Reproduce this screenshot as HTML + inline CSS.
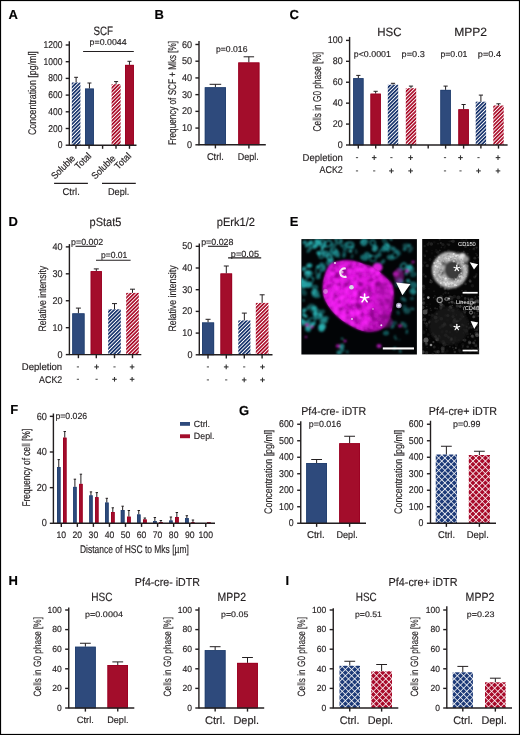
<!DOCTYPE html>
<html><head><meta charset="utf-8"><style>
html,body{margin:0;padding:0;background:#fff;}
svg{display:block;will-change:transform;}
text{font-family:"Liberation Sans",sans-serif;text-rendering:geometricPrecision;stroke:#231f20;}
text.w{stroke:none;}
</style></head><body>
<svg width="520" height="735" viewBox="0 0 520 735">
<rect x="0" y="0" width="520" height="735" fill="#fff"/>

<defs>
 <pattern id="hb" patternUnits="userSpaceOnUse" width="2.6" height="4" patternTransform="rotate(45)">
  <rect width="2.6" height="4" fill="#ffffff"/><rect width="1.65" height="4" fill="#102d68"/>
 </pattern>
 <pattern id="hr" patternUnits="userSpaceOnUse" width="2.6" height="4" patternTransform="rotate(45)">
  <rect width="2.6" height="4" fill="#ffffff"/><rect width="1.65" height="4" fill="#a80624"/>
 </pattern>
 <pattern id="xb" patternUnits="userSpaceOnUse" width="4.4" height="4.4" patternTransform="rotate(45)">
  <rect width="4.4" height="4.4" fill="#1d3a78"/><rect width="0.75" height="4.4" fill="#ffffff"/><rect width="4.4" height="0.75" fill="#ffffff"/>
 </pattern>
 <pattern id="xr" patternUnits="userSpaceOnUse" width="4.4" height="4.4" patternTransform="rotate(45)">
  <rect width="4.4" height="4.4" fill="#a80a2a"/><rect width="0.75" height="4.4" fill="#ffffff"/><rect width="4.4" height="0.75" fill="#ffffff"/>
 </pattern>
</defs>

<defs>
 <filter id="blur04" x="-20%" y="-20%" width="140%" height="140%"><feGaussianBlur stdDeviation="0.4"/></filter>
 <filter id="blur06" x="-20%" y="-20%" width="140%" height="140%"><feGaussianBlur stdDeviation="0.6"/></filter>
 <filter id="blur08" x="-20%" y="-20%" width="140%" height="140%"><feGaussianBlur stdDeviation="0.9"/></filter>
 <filter id="blur10" x="-20%" y="-20%" width="140%" height="140%"><feGaussianBlur stdDeviation="0.8"/></filter>
 <filter id="blur12" x="-20%" y="-20%" width="140%" height="140%"><feGaussianBlur stdDeviation="1.3"/></filter>
 <radialGradient id="mgrad" cx="0.42" cy="0.45" r="0.62"><stop offset="0" stop-color="#e818e8"/><stop offset="0.7" stop-color="#dc14dc"/><stop offset="1" stop-color="#b010b0"/></radialGradient>
 <filter id="mnoiseD" x="0" y="0" width="1" height="1" filterUnits="objectBoundingBox">
  <feTurbulence type="fractalNoise" baseFrequency="0.22" numOctaves="3" seed="4"/>
  <feColorMatrix type="matrix" values="0 0 0 0 0.52  0 0 0 0 0.04  0 0 0 0 0.55  -2.6 0 0 0 1.42"/>
 </filter>
 <filter id="mnoiseL" x="0" y="0" width="1" height="1" filterUnits="objectBoundingBox">
  <feTurbulence type="fractalNoise" baseFrequency="0.3" numOctaves="2" seed="11"/>
  <feColorMatrix type="matrix" values="0 0 0 0 1.0  0 0 0 0 0.35  0 0 0 0 1.0  1.8 0 0 0 -0.98"/>
 </filter>
 <filter id="blur30" x="-50%" y="-50%" width="200%" height="200%"><feGaussianBlur stdDeviation="3"/></filter>
 <clipPath id="eclip"><rect x="301.4" y="239.1" width="115.5" height="115.4"/></clipPath>
</defs>

<g fill="#231f20" stroke-width="0.16">
<text x="8.60" y="18.80" font-size="13" font-weight="bold" fill="#000">A</text>
<text x="93.40" y="35.30" font-size="12.2" textLength="19.60" lengthAdjust="spacingAndGlyphs">SCF</text>
<text x="89.60" y="45.30" font-size="8.6" textLength="37.00" lengthAdjust="spacingAndGlyphs">p=0.0044</text>
<line x1="83.10" y1="51.50" x2="133.80" y2="51.50" stroke="#231f20" stroke-width="1.1"/>
<line x1="69.30" y1="41.20" x2="69.30" y2="145.70" stroke="#231f20" stroke-width="1.4"/>
<line x1="65.70" y1="145.20" x2="69.30" y2="145.20" stroke="#231f20" stroke-width="1.4"/>
<text x="62.40" y="148.27" font-size="9.9" text-anchor="end" textLength="4.74" lengthAdjust="spacingAndGlyphs">0</text>
<line x1="65.70" y1="128.50" x2="69.30" y2="128.50" stroke="#231f20" stroke-width="1.4"/>
<text x="62.40" y="131.57" font-size="9.9" text-anchor="end" textLength="14.21" lengthAdjust="spacingAndGlyphs">200</text>
<line x1="65.70" y1="111.80" x2="69.30" y2="111.80" stroke="#231f20" stroke-width="1.4"/>
<text x="62.40" y="114.87" font-size="9.9" text-anchor="end" textLength="14.21" lengthAdjust="spacingAndGlyphs">400</text>
<line x1="65.70" y1="95.10" x2="69.30" y2="95.10" stroke="#231f20" stroke-width="1.4"/>
<text x="62.40" y="98.17" font-size="9.9" text-anchor="end" textLength="14.21" lengthAdjust="spacingAndGlyphs">600</text>
<line x1="65.70" y1="78.40" x2="69.30" y2="78.40" stroke="#231f20" stroke-width="1.4"/>
<text x="62.40" y="81.47" font-size="9.9" text-anchor="end" textLength="14.21" lengthAdjust="spacingAndGlyphs">800</text>
<line x1="65.70" y1="61.70" x2="69.30" y2="61.70" stroke="#231f20" stroke-width="1.4"/>
<text x="62.40" y="64.77" font-size="9.9" text-anchor="end" textLength="18.94" lengthAdjust="spacingAndGlyphs">1000</text>
<line x1="65.70" y1="45.00" x2="69.30" y2="45.00" stroke="#231f20" stroke-width="1.4"/>
<text x="62.40" y="48.07" font-size="9.9" text-anchor="end" textLength="18.94" lengthAdjust="spacingAndGlyphs">1200</text>
<text transform="translate(35.70,93.10) rotate(-90)" font-size="11.1" text-anchor="middle" textLength="83.80" lengthAdjust="spacingAndGlyphs">Concentration [pg/ml]</text>
<line x1="76.10" y1="82.50" x2="76.10" y2="77.30" stroke="#231f20" stroke-width="1.0"/>
<line x1="74.16" y1="77.30" x2="78.03" y2="77.30" stroke="#231f20" stroke-width="1.0"/>
<rect x="71.80" y="82.50" width="8.60" height="62.70" fill="url(#hb)"/>
<line x1="89.45" y1="88.60" x2="89.45" y2="83.00" stroke="#231f20" stroke-width="1.0"/>
<line x1="87.45" y1="83.00" x2="91.45" y2="83.00" stroke="#231f20" stroke-width="1.0"/>
<rect x="85.00" y="88.60" width="8.90" height="56.60" fill="#2e4a7c"/>
<rect x="85.40" y="89.00" width="8.10" height="56.20" fill="none" stroke="#23406f" stroke-width="0.8"/>
<line x1="116.10" y1="84.20" x2="116.10" y2="81.60" stroke="#231f20" stroke-width="1.0"/>
<line x1="114.07" y1="81.60" x2="118.12" y2="81.60" stroke="#231f20" stroke-width="1.0"/>
<rect x="111.60" y="84.20" width="9.00" height="61.00" fill="url(#hr)"/>
<line x1="129.45" y1="64.90" x2="129.45" y2="61.30" stroke="#231f20" stroke-width="1.0"/>
<line x1="127.45" y1="61.30" x2="131.45" y2="61.30" stroke="#231f20" stroke-width="1.0"/>
<rect x="125.00" y="64.90" width="8.90" height="80.30" fill="#a30d2b"/>
<rect x="125.40" y="65.30" width="8.10" height="79.90" fill="none" stroke="#9a0022" stroke-width="0.8"/>
<line x1="69.20" y1="145.20" x2="136.50" y2="145.20" stroke="#231f20" stroke-width="1.4"/>
<line x1="75.90" y1="145.20" x2="75.90" y2="148.80" stroke="#231f20" stroke-width="1.4"/>
<line x1="89.10" y1="145.20" x2="89.10" y2="148.80" stroke="#231f20" stroke-width="1.4"/>
<line x1="102.60" y1="145.20" x2="102.60" y2="148.80" stroke="#231f20" stroke-width="1.4"/>
<line x1="116.00" y1="145.20" x2="116.00" y2="148.80" stroke="#231f20" stroke-width="1.4"/>
<line x1="129.50" y1="145.20" x2="129.50" y2="148.80" stroke="#231f20" stroke-width="1.4"/>
<text transform="translate(75.80,159.00) rotate(-45)" font-size="9.6" text-anchor="end" textLength="29.50" lengthAdjust="spacingAndGlyphs">Soluble</text>
<text transform="translate(92.00,156.50) rotate(-45)" font-size="9.6" text-anchor="end" textLength="19.00" lengthAdjust="spacingAndGlyphs">Total</text>
<text transform="translate(116.20,159.00) rotate(-45)" font-size="9.6" text-anchor="end" textLength="29.50" lengthAdjust="spacingAndGlyphs">Soluble</text>
<text transform="translate(131.80,156.50) rotate(-45)" font-size="9.6" text-anchor="end" textLength="19.00" lengthAdjust="spacingAndGlyphs">Total</text>
<line x1="54.10" y1="183.40" x2="87.90" y2="183.40" stroke="#231f20" stroke-width="1.1"/>
<line x1="102.00" y1="183.40" x2="135.80" y2="183.40" stroke="#231f20" stroke-width="1.1"/>
<text x="71.20" y="194.90" font-size="9.8" text-anchor="middle" textLength="17.20" lengthAdjust="spacingAndGlyphs">Ctrl.</text>
<text x="118.70" y="194.90" font-size="9.8" text-anchor="middle" textLength="21.40" lengthAdjust="spacingAndGlyphs">Depl.</text>
<text x="154.60" y="19.20" font-size="13" font-weight="bold" fill="#000">B</text>
<line x1="199.00" y1="41.10" x2="199.00" y2="145.30" stroke="#231f20" stroke-width="1.4"/>
<line x1="195.40" y1="144.80" x2="199.00" y2="144.80" stroke="#231f20" stroke-width="1.4"/>
<text x="192.10" y="147.84" font-size="9.8" text-anchor="end" textLength="5.07" lengthAdjust="spacingAndGlyphs">0</text>
<line x1="195.40" y1="128.08" x2="199.00" y2="128.08" stroke="#231f20" stroke-width="1.4"/>
<text x="192.10" y="131.12" font-size="9.8" text-anchor="end" textLength="10.14" lengthAdjust="spacingAndGlyphs">10</text>
<line x1="195.40" y1="111.36" x2="199.00" y2="111.36" stroke="#231f20" stroke-width="1.4"/>
<text x="192.10" y="114.40" font-size="9.8" text-anchor="end" textLength="10.14" lengthAdjust="spacingAndGlyphs">20</text>
<line x1="195.40" y1="94.64" x2="199.00" y2="94.64" stroke="#231f20" stroke-width="1.4"/>
<text x="192.10" y="97.68" font-size="9.8" text-anchor="end" textLength="10.14" lengthAdjust="spacingAndGlyphs">30</text>
<line x1="195.40" y1="77.92" x2="199.00" y2="77.92" stroke="#231f20" stroke-width="1.4"/>
<text x="192.10" y="80.96" font-size="9.8" text-anchor="end" textLength="10.14" lengthAdjust="spacingAndGlyphs">40</text>
<line x1="195.40" y1="61.20" x2="199.00" y2="61.20" stroke="#231f20" stroke-width="1.4"/>
<text x="192.10" y="64.24" font-size="9.8" text-anchor="end" textLength="10.14" lengthAdjust="spacingAndGlyphs">50</text>
<line x1="195.40" y1="44.48" x2="199.00" y2="44.48" stroke="#231f20" stroke-width="1.4"/>
<text x="192.10" y="47.52" font-size="9.8" text-anchor="end" textLength="10.14" lengthAdjust="spacingAndGlyphs">60</text>
<text transform="translate(175.70,93.00) rotate(-90)" font-size="11.1" text-anchor="middle" textLength="104.20" lengthAdjust="spacingAndGlyphs">Frequency of SCF + Mks [%]</text>
<line x1="215.40" y1="87.30" x2="215.40" y2="84.30" stroke="#231f20" stroke-width="1.0"/>
<line x1="209.60" y1="84.30" x2="221.20" y2="84.30" stroke="#231f20" stroke-width="1.0"/>
<rect x="204.80" y="87.30" width="21.20" height="57.50" fill="#2e4a7c"/>
<rect x="205.20" y="87.70" width="20.40" height="57.10" fill="none" stroke="#23406f" stroke-width="0.8"/>
<line x1="248.85" y1="62.50" x2="248.85" y2="56.80" stroke="#231f20" stroke-width="1.0"/>
<line x1="243.60" y1="56.80" x2="254.10" y2="56.80" stroke="#231f20" stroke-width="1.0"/>
<rect x="238.30" y="62.50" width="21.10" height="82.30" fill="#a30d2b"/>
<rect x="238.70" y="62.90" width="20.30" height="81.90" fill="none" stroke="#9a0022" stroke-width="0.8"/>
<line x1="198.90" y1="144.80" x2="265.80" y2="144.80" stroke="#231f20" stroke-width="1.4"/>
<line x1="215.40" y1="144.80" x2="215.40" y2="148.40" stroke="#231f20" stroke-width="1.4"/>
<line x1="248.90" y1="144.80" x2="248.90" y2="148.40" stroke="#231f20" stroke-width="1.4"/>
<text x="216.00" y="52.00" font-size="8.6" textLength="31.50" lengthAdjust="spacingAndGlyphs">p=0.016</text>
<text x="215.40" y="160.00" font-size="9.8" text-anchor="middle" textLength="17.00" lengthAdjust="spacingAndGlyphs">Ctrl.</text>
<text x="248.30" y="160.00" font-size="9.8" text-anchor="middle" textLength="21.00" lengthAdjust="spacingAndGlyphs">Depl.</text>
<text x="289.40" y="18.90" font-size="13" font-weight="bold" fill="#000">C</text>
<text x="377.30" y="36.00" font-size="12.0" textLength="24.30" lengthAdjust="spacingAndGlyphs">HSC</text>
<text x="454.20" y="36.00" font-size="12.0" textLength="32.90" lengthAdjust="spacingAndGlyphs">MPP2</text>
<line x1="349.60" y1="36.90" x2="349.60" y2="145.50" stroke="#231f20" stroke-width="1.4"/>
<line x1="346.00" y1="145.00" x2="349.60" y2="145.00" stroke="#231f20" stroke-width="1.4"/>
<text x="342.70" y="148.01" font-size="9.7" text-anchor="end" textLength="4.96" lengthAdjust="spacingAndGlyphs">0</text>
<line x1="346.00" y1="124.08" x2="349.60" y2="124.08" stroke="#231f20" stroke-width="1.4"/>
<text x="342.70" y="127.09" font-size="9.7" text-anchor="end" textLength="9.93" lengthAdjust="spacingAndGlyphs">20</text>
<line x1="346.00" y1="103.16" x2="349.60" y2="103.16" stroke="#231f20" stroke-width="1.4"/>
<text x="342.70" y="106.17" font-size="9.7" text-anchor="end" textLength="9.93" lengthAdjust="spacingAndGlyphs">40</text>
<line x1="346.00" y1="82.24" x2="349.60" y2="82.24" stroke="#231f20" stroke-width="1.4"/>
<text x="342.70" y="85.25" font-size="9.7" text-anchor="end" textLength="9.93" lengthAdjust="spacingAndGlyphs">60</text>
<line x1="346.00" y1="61.32" x2="349.60" y2="61.32" stroke="#231f20" stroke-width="1.4"/>
<text x="342.70" y="64.33" font-size="9.7" text-anchor="end" textLength="9.93" lengthAdjust="spacingAndGlyphs">80</text>
<line x1="346.00" y1="40.40" x2="349.60" y2="40.40" stroke="#231f20" stroke-width="1.4"/>
<text x="342.70" y="43.41" font-size="9.7" text-anchor="end" textLength="14.89" lengthAdjust="spacingAndGlyphs">100</text>
<text transform="translate(321.37,91.65) rotate(-90)" font-size="11.4" text-anchor="middle" textLength="79.50" lengthAdjust="spacingAndGlyphs">Cells in G0 phase [%]</text>
<line x1="358.35" y1="78.20" x2="358.35" y2="75.40" stroke="#231f20" stroke-width="1.0"/>
<line x1="356.25" y1="75.40" x2="360.45" y2="75.40" stroke="#231f20" stroke-width="1.0"/>
<rect x="353.20" y="78.20" width="10.30" height="66.80" fill="#2e4a7c"/>
<rect x="353.60" y="78.60" width="9.50" height="66.40" fill="none" stroke="#23406f" stroke-width="0.8"/>
<line x1="375.65" y1="93.70" x2="375.65" y2="91.30" stroke="#231f20" stroke-width="1.0"/>
<line x1="373.55" y1="91.30" x2="377.75" y2="91.30" stroke="#231f20" stroke-width="1.0"/>
<rect x="370.50" y="93.70" width="10.30" height="51.30" fill="#a30d2b"/>
<rect x="370.90" y="94.10" width="9.50" height="50.90" fill="none" stroke="#9a0022" stroke-width="0.8"/>
<line x1="393.00" y1="84.70" x2="393.00" y2="83.30" stroke="#231f20" stroke-width="1.0"/>
<line x1="390.90" y1="83.30" x2="395.10" y2="83.30" stroke="#231f20" stroke-width="1.0"/>
<rect x="387.80" y="84.70" width="10.40" height="60.30" fill="url(#hb)"/>
<line x1="411.00" y1="88.20" x2="411.00" y2="86.10" stroke="#231f20" stroke-width="1.0"/>
<line x1="408.90" y1="86.10" x2="413.10" y2="86.10" stroke="#231f20" stroke-width="1.0"/>
<rect x="405.80" y="88.20" width="10.40" height="56.80" fill="url(#hr)"/>
<line x1="445.60" y1="89.90" x2="445.60" y2="86.10" stroke="#231f20" stroke-width="1.0"/>
<line x1="443.50" y1="86.10" x2="447.70" y2="86.10" stroke="#231f20" stroke-width="1.0"/>
<rect x="440.40" y="89.90" width="10.40" height="55.10" fill="#2e4a7c"/>
<rect x="440.80" y="90.30" width="9.60" height="54.70" fill="none" stroke="#23406f" stroke-width="0.8"/>
<line x1="463.60" y1="109.30" x2="463.60" y2="104.50" stroke="#231f20" stroke-width="1.0"/>
<line x1="461.50" y1="104.50" x2="465.70" y2="104.50" stroke="#231f20" stroke-width="1.0"/>
<rect x="458.40" y="109.30" width="10.40" height="35.70" fill="#a30d2b"/>
<rect x="458.80" y="109.70" width="9.60" height="35.30" fill="none" stroke="#9a0022" stroke-width="0.8"/>
<line x1="480.90" y1="101.70" x2="480.90" y2="95.10" stroke="#231f20" stroke-width="1.0"/>
<line x1="478.80" y1="95.10" x2="483.00" y2="95.10" stroke="#231f20" stroke-width="1.0"/>
<rect x="475.70" y="101.70" width="10.40" height="43.30" fill="url(#hb)"/>
<line x1="498.50" y1="105.50" x2="498.50" y2="103.80" stroke="#231f20" stroke-width="1.0"/>
<line x1="496.40" y1="103.80" x2="500.60" y2="103.80" stroke="#231f20" stroke-width="1.0"/>
<rect x="493.30" y="105.50" width="10.40" height="39.50" fill="url(#hr)"/>
<line x1="349.60" y1="145.00" x2="507.60" y2="145.00" stroke="#231f20" stroke-width="1.4"/>
<line x1="358.30" y1="145.00" x2="358.30" y2="148.60" stroke="#231f20" stroke-width="1.4"/>
<line x1="375.70" y1="145.00" x2="375.70" y2="148.60" stroke="#231f20" stroke-width="1.4"/>
<line x1="393.00" y1="145.00" x2="393.00" y2="148.60" stroke="#231f20" stroke-width="1.4"/>
<line x1="411.00" y1="145.00" x2="411.00" y2="148.60" stroke="#231f20" stroke-width="1.4"/>
<line x1="428.20" y1="145.00" x2="428.20" y2="148.60" stroke="#231f20" stroke-width="1.4"/>
<line x1="445.60" y1="145.00" x2="445.60" y2="148.60" stroke="#231f20" stroke-width="1.4"/>
<line x1="463.60" y1="145.00" x2="463.60" y2="148.60" stroke="#231f20" stroke-width="1.4"/>
<line x1="480.90" y1="145.00" x2="480.90" y2="148.60" stroke="#231f20" stroke-width="1.4"/>
<line x1="498.50" y1="145.00" x2="498.50" y2="148.60" stroke="#231f20" stroke-width="1.4"/>
<text x="353.80" y="57.40" font-size="8.6" textLength="37.10" lengthAdjust="spacingAndGlyphs">p&lt;0.0001</text>
<text x="401.60" y="57.40" font-size="8.6" textLength="23.20" lengthAdjust="spacingAndGlyphs">p=0.3</text>
<text x="440.40" y="57.40" font-size="8.6" textLength="27.00" lengthAdjust="spacingAndGlyphs">p=0.01</text>
<text x="477.80" y="57.40" font-size="8.6" textLength="23.20" lengthAdjust="spacingAndGlyphs">p=0.4</text>
<text x="342.80" y="160.60" font-size="10.0" text-anchor="end" textLength="40.20" lengthAdjust="spacingAndGlyphs">Depletion</text>
<text x="342.80" y="172.80" font-size="9.8" text-anchor="end" textLength="23.30" lengthAdjust="spacingAndGlyphs">ACK2</text>
<line x1="355.90" y1="157.60" x2="358.10" y2="157.60" stroke="#555" stroke-width="1.1"/>
<line x1="355.90" y1="170.90" x2="358.10" y2="170.90" stroke="#555" stroke-width="1.1"/>
<line x1="371.90" y1="157.60" x2="376.50" y2="157.60" stroke="#333" stroke-width="1.1"/>
<line x1="374.20" y1="155.30" x2="374.20" y2="159.90" stroke="#333" stroke-width="1.1"/>
<line x1="373.10" y1="170.90" x2="375.30" y2="170.90" stroke="#555" stroke-width="1.1"/>
<line x1="390.30" y1="157.60" x2="392.50" y2="157.60" stroke="#555" stroke-width="1.1"/>
<line x1="389.10" y1="170.90" x2="393.70" y2="170.90" stroke="#333" stroke-width="1.1"/>
<line x1="391.40" y1="168.60" x2="391.40" y2="173.20" stroke="#333" stroke-width="1.1"/>
<line x1="408.30" y1="157.60" x2="412.90" y2="157.60" stroke="#333" stroke-width="1.1"/>
<line x1="410.60" y1="155.30" x2="410.60" y2="159.90" stroke="#333" stroke-width="1.1"/>
<line x1="408.30" y1="170.90" x2="412.90" y2="170.90" stroke="#333" stroke-width="1.1"/>
<line x1="410.60" y1="168.60" x2="410.60" y2="173.20" stroke="#333" stroke-width="1.1"/>
<line x1="443.90" y1="157.60" x2="446.10" y2="157.60" stroke="#555" stroke-width="1.1"/>
<line x1="443.90" y1="170.90" x2="446.10" y2="170.90" stroke="#555" stroke-width="1.1"/>
<line x1="458.20" y1="157.60" x2="462.80" y2="157.60" stroke="#333" stroke-width="1.1"/>
<line x1="460.50" y1="155.30" x2="460.50" y2="159.90" stroke="#333" stroke-width="1.1"/>
<line x1="459.40" y1="170.90" x2="461.60" y2="170.90" stroke="#555" stroke-width="1.1"/>
<line x1="477.40" y1="157.60" x2="479.60" y2="157.60" stroke="#555" stroke-width="1.1"/>
<line x1="476.20" y1="170.90" x2="480.80" y2="170.90" stroke="#333" stroke-width="1.1"/>
<line x1="478.50" y1="168.60" x2="478.50" y2="173.20" stroke="#333" stroke-width="1.1"/>
<line x1="495.70" y1="157.60" x2="500.30" y2="157.60" stroke="#333" stroke-width="1.1"/>
<line x1="498.00" y1="155.30" x2="498.00" y2="159.90" stroke="#333" stroke-width="1.1"/>
<line x1="495.70" y1="170.90" x2="500.30" y2="170.90" stroke="#333" stroke-width="1.1"/>
<line x1="498.00" y1="168.60" x2="498.00" y2="173.20" stroke="#333" stroke-width="1.1"/>
<text x="8.50" y="226.00" font-size="13" font-weight="bold" fill="#000">D</text>
<text x="89.60" y="226.00" font-size="11.9" textLength="31.80" lengthAdjust="spacingAndGlyphs">pStat5</text>
<line x1="69.40" y1="244.10" x2="69.40" y2="355.10" stroke="#231f20" stroke-width="1.4"/>
<line x1="65.80" y1="354.60" x2="69.40" y2="354.60" stroke="#231f20" stroke-width="1.4"/>
<text x="62.50" y="357.64" font-size="9.8" text-anchor="end" textLength="5.01" lengthAdjust="spacingAndGlyphs">0</text>
<line x1="65.80" y1="327.67" x2="69.40" y2="327.67" stroke="#231f20" stroke-width="1.4"/>
<text x="62.50" y="330.71" font-size="9.8" text-anchor="end" textLength="10.03" lengthAdjust="spacingAndGlyphs">10</text>
<line x1="65.80" y1="300.74" x2="69.40" y2="300.74" stroke="#231f20" stroke-width="1.4"/>
<text x="62.50" y="303.78" font-size="9.8" text-anchor="end" textLength="10.03" lengthAdjust="spacingAndGlyphs">20</text>
<line x1="65.80" y1="273.81" x2="69.40" y2="273.81" stroke="#231f20" stroke-width="1.4"/>
<text x="62.50" y="276.85" font-size="9.8" text-anchor="end" textLength="10.03" lengthAdjust="spacingAndGlyphs">30</text>
<line x1="65.80" y1="246.88" x2="69.40" y2="246.88" stroke="#231f20" stroke-width="1.4"/>
<text x="62.50" y="249.92" font-size="9.8" text-anchor="end" textLength="10.03" lengthAdjust="spacingAndGlyphs">40</text>
<text transform="translate(45.73,298.65) rotate(-90)" font-size="10.8" text-anchor="middle" textLength="65.70" lengthAdjust="spacingAndGlyphs">Relative intensity</text>
<line x1="78.40" y1="313.40" x2="78.40" y2="308.10" stroke="#231f20" stroke-width="1.0"/>
<line x1="75.90" y1="308.10" x2="80.90" y2="308.10" stroke="#231f20" stroke-width="1.0"/>
<rect x="72.30" y="313.40" width="12.20" height="41.20" fill="#2e4a7c"/>
<rect x="72.70" y="313.80" width="11.40" height="40.80" fill="none" stroke="#23406f" stroke-width="0.8"/>
<line x1="96.30" y1="271.20" x2="96.30" y2="268.90" stroke="#231f20" stroke-width="1.0"/>
<line x1="93.80" y1="268.90" x2="98.80" y2="268.90" stroke="#231f20" stroke-width="1.0"/>
<rect x="90.70" y="271.20" width="11.20" height="83.40" fill="#a30d2b"/>
<rect x="91.10" y="271.60" width="10.40" height="83.00" fill="none" stroke="#9a0022" stroke-width="0.8"/>
<line x1="114.50" y1="309.30" x2="114.50" y2="303.60" stroke="#231f20" stroke-width="1.0"/>
<line x1="112.00" y1="303.60" x2="117.00" y2="303.60" stroke="#231f20" stroke-width="1.0"/>
<rect x="108.20" y="309.30" width="12.60" height="45.30" fill="url(#hb)"/>
<line x1="132.50" y1="292.90" x2="132.50" y2="289.20" stroke="#231f20" stroke-width="1.0"/>
<line x1="130.00" y1="289.20" x2="135.00" y2="289.20" stroke="#231f20" stroke-width="1.0"/>
<rect x="126.20" y="292.90" width="12.60" height="61.70" fill="url(#hr)"/>
<line x1="69.30" y1="354.60" x2="141.30" y2="354.60" stroke="#231f20" stroke-width="1.4"/>
<line x1="78.40" y1="354.60" x2="78.40" y2="358.20" stroke="#231f20" stroke-width="1.4"/>
<line x1="96.30" y1="354.60" x2="96.30" y2="358.20" stroke="#231f20" stroke-width="1.4"/>
<line x1="114.50" y1="354.60" x2="114.50" y2="358.20" stroke="#231f20" stroke-width="1.4"/>
<line x1="132.50" y1="354.60" x2="132.50" y2="358.20" stroke="#231f20" stroke-width="1.4"/>
<text x="71.10" y="244.60" font-size="8.8" textLength="32.20" lengthAdjust="spacingAndGlyphs">p=0.002</text>
<line x1="75.50" y1="246.30" x2="96.00" y2="246.30" stroke="#231f20" stroke-width="1.1"/>
<text x="100.90" y="258.40" font-size="8.8" textLength="26.40" lengthAdjust="spacingAndGlyphs">p=0.01</text>
<line x1="96.00" y1="260.20" x2="130.60" y2="260.20" stroke="#231f20" stroke-width="1.1"/>
<text x="62.20" y="370.20" font-size="9.8" text-anchor="end" textLength="40.40" lengthAdjust="spacingAndGlyphs">Depletion</text>
<text x="62.20" y="383.40" font-size="9.8" text-anchor="end" textLength="23.10" lengthAdjust="spacingAndGlyphs">ACK2</text>
<line x1="76.80" y1="366.90" x2="79.00" y2="366.90" stroke="#555" stroke-width="1.1"/>
<line x1="76.80" y1="379.30" x2="79.00" y2="379.30" stroke="#555" stroke-width="1.1"/>
<line x1="94.30" y1="366.90" x2="98.90" y2="366.90" stroke="#333" stroke-width="1.1"/>
<line x1="96.60" y1="364.60" x2="96.60" y2="369.20" stroke="#333" stroke-width="1.1"/>
<line x1="95.50" y1="379.30" x2="97.70" y2="379.30" stroke="#555" stroke-width="1.1"/>
<line x1="113.40" y1="366.90" x2="115.60" y2="366.90" stroke="#555" stroke-width="1.1"/>
<line x1="112.20" y1="379.30" x2="116.80" y2="379.30" stroke="#333" stroke-width="1.1"/>
<line x1="114.50" y1="377.00" x2="114.50" y2="381.60" stroke="#333" stroke-width="1.1"/>
<line x1="129.80" y1="366.90" x2="134.40" y2="366.90" stroke="#333" stroke-width="1.1"/>
<line x1="132.10" y1="364.60" x2="132.10" y2="369.20" stroke="#333" stroke-width="1.1"/>
<line x1="129.80" y1="379.30" x2="134.40" y2="379.30" stroke="#333" stroke-width="1.1"/>
<line x1="132.10" y1="377.00" x2="132.10" y2="381.60" stroke="#333" stroke-width="1.1"/>
<text x="216.80" y="226.00" font-size="11.9" textLength="38.20" lengthAdjust="spacingAndGlyphs">pErk1/2</text>
<line x1="199.30" y1="243.60" x2="199.30" y2="355.30" stroke="#231f20" stroke-width="1.4"/>
<line x1="195.70" y1="354.80" x2="199.30" y2="354.80" stroke="#231f20" stroke-width="1.4"/>
<text x="192.40" y="357.84" font-size="9.8" text-anchor="end" textLength="5.01" lengthAdjust="spacingAndGlyphs">0</text>
<line x1="195.70" y1="333.10" x2="199.30" y2="333.10" stroke="#231f20" stroke-width="1.4"/>
<text x="192.40" y="336.14" font-size="9.8" text-anchor="end" textLength="10.03" lengthAdjust="spacingAndGlyphs">10</text>
<line x1="195.70" y1="311.40" x2="199.30" y2="311.40" stroke="#231f20" stroke-width="1.4"/>
<text x="192.40" y="314.44" font-size="9.8" text-anchor="end" textLength="10.03" lengthAdjust="spacingAndGlyphs">20</text>
<line x1="195.70" y1="289.70" x2="199.30" y2="289.70" stroke="#231f20" stroke-width="1.4"/>
<text x="192.40" y="292.74" font-size="9.8" text-anchor="end" textLength="10.03" lengthAdjust="spacingAndGlyphs">30</text>
<line x1="195.70" y1="268.00" x2="199.30" y2="268.00" stroke="#231f20" stroke-width="1.4"/>
<text x="192.40" y="271.04" font-size="9.8" text-anchor="end" textLength="10.03" lengthAdjust="spacingAndGlyphs">40</text>
<line x1="195.70" y1="246.30" x2="199.30" y2="246.30" stroke="#231f20" stroke-width="1.4"/>
<text x="192.40" y="249.34" font-size="9.8" text-anchor="end" textLength="10.03" lengthAdjust="spacingAndGlyphs">50</text>
<text transform="translate(175.83,298.45) rotate(-90)" font-size="10.8" text-anchor="middle" textLength="66.10" lengthAdjust="spacingAndGlyphs">Relative intensity</text>
<line x1="208.05" y1="322.50" x2="208.05" y2="319.30" stroke="#231f20" stroke-width="1.0"/>
<line x1="205.55" y1="319.30" x2="210.55" y2="319.30" stroke="#231f20" stroke-width="1.0"/>
<rect x="202.00" y="322.50" width="12.10" height="32.30" fill="#2e4a7c"/>
<rect x="202.40" y="322.90" width="11.30" height="31.90" fill="none" stroke="#23406f" stroke-width="0.8"/>
<line x1="226.30" y1="273.50" x2="226.30" y2="266.00" stroke="#231f20" stroke-width="1.0"/>
<line x1="223.80" y1="266.00" x2="228.80" y2="266.00" stroke="#231f20" stroke-width="1.0"/>
<rect x="220.50" y="273.50" width="11.60" height="81.30" fill="#a30d2b"/>
<rect x="220.90" y="273.90" width="10.80" height="80.90" fill="none" stroke="#9a0022" stroke-width="0.8"/>
<line x1="244.35" y1="320.40" x2="244.35" y2="313.10" stroke="#231f20" stroke-width="1.0"/>
<line x1="241.85" y1="313.10" x2="246.85" y2="313.10" stroke="#231f20" stroke-width="1.0"/>
<rect x="238.30" y="320.40" width="12.10" height="34.40" fill="url(#hb)"/>
<line x1="262.15" y1="302.90" x2="262.15" y2="294.80" stroke="#231f20" stroke-width="1.0"/>
<line x1="259.65" y1="294.80" x2="264.65" y2="294.80" stroke="#231f20" stroke-width="1.0"/>
<rect x="255.80" y="302.90" width="12.70" height="51.90" fill="url(#hr)"/>
<line x1="199.30" y1="354.80" x2="272.50" y2="354.80" stroke="#231f20" stroke-width="1.4"/>
<line x1="208.00" y1="354.80" x2="208.00" y2="358.40" stroke="#231f20" stroke-width="1.4"/>
<line x1="226.30" y1="354.80" x2="226.30" y2="358.40" stroke="#231f20" stroke-width="1.4"/>
<line x1="244.30" y1="354.80" x2="244.30" y2="358.40" stroke="#231f20" stroke-width="1.4"/>
<line x1="262.10" y1="354.80" x2="262.10" y2="358.40" stroke="#231f20" stroke-width="1.4"/>
<text x="201.20" y="245.00" font-size="8.8" textLength="32.30" lengthAdjust="spacingAndGlyphs">p=0.028</text>
<line x1="207.90" y1="246.30" x2="228.10" y2="246.30" stroke="#231f20" stroke-width="1.1"/>
<text x="230.80" y="256.80" font-size="8.8" textLength="28.20" lengthAdjust="spacingAndGlyphs">p=0.05</text>
<line x1="228.10" y1="257.90" x2="261.20" y2="257.90" stroke="#231f20" stroke-width="1.1"/>
<line x1="206.80" y1="366.90" x2="209.00" y2="366.90" stroke="#555" stroke-width="1.1"/>
<line x1="206.80" y1="379.90" x2="209.00" y2="379.90" stroke="#555" stroke-width="1.1"/>
<line x1="223.90" y1="366.90" x2="228.50" y2="366.90" stroke="#333" stroke-width="1.1"/>
<line x1="226.20" y1="364.60" x2="226.20" y2="369.20" stroke="#333" stroke-width="1.1"/>
<line x1="225.10" y1="379.90" x2="227.30" y2="379.90" stroke="#555" stroke-width="1.1"/>
<line x1="243.10" y1="366.90" x2="245.30" y2="366.90" stroke="#555" stroke-width="1.1"/>
<line x1="241.90" y1="379.90" x2="246.50" y2="379.90" stroke="#333" stroke-width="1.1"/>
<line x1="244.20" y1="377.60" x2="244.20" y2="382.20" stroke="#333" stroke-width="1.1"/>
<line x1="260.20" y1="366.90" x2="264.80" y2="366.90" stroke="#333" stroke-width="1.1"/>
<line x1="262.50" y1="364.60" x2="262.50" y2="369.20" stroke="#333" stroke-width="1.1"/>
<line x1="260.20" y1="379.90" x2="264.80" y2="379.90" stroke="#333" stroke-width="1.1"/>
<line x1="262.50" y1="377.60" x2="262.50" y2="382.20" stroke="#333" stroke-width="1.1"/>
<text x="10.20" y="413.90" font-size="13" font-weight="bold" fill="#000">F</text>
<line x1="53.40" y1="413.50" x2="53.40" y2="523.80" stroke="#231f20" stroke-width="1.4"/>
<line x1="49.80" y1="523.30" x2="53.40" y2="523.30" stroke="#231f20" stroke-width="1.4"/>
<text x="46.90" y="526.46" font-size="10.2" text-anchor="end" textLength="5.11" lengthAdjust="spacingAndGlyphs">0</text>
<line x1="49.80" y1="487.65" x2="53.40" y2="487.65" stroke="#231f20" stroke-width="1.4"/>
<text x="46.90" y="490.81" font-size="10.2" text-anchor="end" textLength="10.21" lengthAdjust="spacingAndGlyphs">20</text>
<line x1="49.80" y1="452.00" x2="53.40" y2="452.00" stroke="#231f20" stroke-width="1.4"/>
<text x="46.90" y="455.16" font-size="10.2" text-anchor="end" textLength="10.21" lengthAdjust="spacingAndGlyphs">40</text>
<line x1="49.80" y1="416.35" x2="53.40" y2="416.35" stroke="#231f20" stroke-width="1.4"/>
<text x="46.90" y="419.51" font-size="10.2" text-anchor="end" textLength="10.21" lengthAdjust="spacingAndGlyphs">60</text>
<text transform="translate(30.22,467.70) rotate(-90)" font-size="11.2" text-anchor="middle" textLength="77.80" lengthAdjust="spacingAndGlyphs">Frequency of cell [%]</text>
<text x="55.40" y="419.40" font-size="8.8" textLength="31.80" lengthAdjust="spacingAndGlyphs">p=0.026</text>
<line x1="58.75" y1="467.00" x2="58.75" y2="459.60" stroke="#231f20" stroke-width="1.0"/>
<line x1="57.55" y1="459.60" x2="59.95" y2="459.60" stroke="#231f20" stroke-width="1.0"/>
<rect x="57.00" y="467.00" width="3.50" height="56.30" fill="#2e4a7c"/>
<rect x="57.40" y="467.40" width="2.70" height="55.90" fill="none" stroke="#23406f" stroke-width="0.8"/>
<line x1="74.90" y1="486.90" x2="74.90" y2="479.20" stroke="#231f20" stroke-width="1.0"/>
<line x1="73.70" y1="479.20" x2="76.10" y2="479.20" stroke="#231f20" stroke-width="1.0"/>
<rect x="73.20" y="486.90" width="3.40" height="36.40" fill="#2e4a7c"/>
<rect x="73.60" y="487.30" width="2.60" height="36.00" fill="none" stroke="#23406f" stroke-width="0.8"/>
<line x1="90.95" y1="495.40" x2="90.95" y2="491.90" stroke="#231f20" stroke-width="1.0"/>
<line x1="89.75" y1="491.90" x2="92.15" y2="491.90" stroke="#231f20" stroke-width="1.0"/>
<rect x="89.30" y="495.40" width="3.30" height="27.90" fill="#2e4a7c"/>
<rect x="89.70" y="495.80" width="2.50" height="27.50" fill="none" stroke="#23406f" stroke-width="0.8"/>
<line x1="106.80" y1="502.60" x2="106.80" y2="498.30" stroke="#231f20" stroke-width="1.0"/>
<line x1="105.60" y1="498.30" x2="108.00" y2="498.30" stroke="#231f20" stroke-width="1.0"/>
<rect x="105.00" y="502.60" width="3.60" height="20.70" fill="#2e4a7c"/>
<rect x="105.40" y="503.00" width="2.80" height="20.30" fill="none" stroke="#23406f" stroke-width="0.8"/>
<line x1="122.65" y1="510.00" x2="122.65" y2="506.20" stroke="#231f20" stroke-width="1.0"/>
<line x1="121.45" y1="506.20" x2="123.85" y2="506.20" stroke="#231f20" stroke-width="1.0"/>
<rect x="120.80" y="510.00" width="3.70" height="13.30" fill="#2e4a7c"/>
<rect x="121.20" y="510.40" width="2.90" height="12.90" fill="none" stroke="#23406f" stroke-width="0.8"/>
<line x1="138.75" y1="514.50" x2="138.75" y2="510.50" stroke="#231f20" stroke-width="1.0"/>
<line x1="137.55" y1="510.50" x2="139.95" y2="510.50" stroke="#231f20" stroke-width="1.0"/>
<rect x="137.00" y="514.50" width="3.50" height="8.80" fill="#2e4a7c"/>
<rect x="137.40" y="514.90" width="2.70" height="8.40" fill="none" stroke="#23406f" stroke-width="0.8"/>
<line x1="154.85" y1="521.20" x2="154.85" y2="517.50" stroke="#231f20" stroke-width="1.0"/>
<line x1="153.65" y1="517.50" x2="156.05" y2="517.50" stroke="#231f20" stroke-width="1.0"/>
<rect x="153.00" y="521.20" width="3.70" height="2.10" fill="#2e4a7c"/>
<rect x="153.40" y="521.60" width="2.90" height="1.70" fill="none" stroke="#23406f" stroke-width="0.8"/>
<line x1="170.90" y1="520.50" x2="170.90" y2="517.00" stroke="#231f20" stroke-width="1.0"/>
<line x1="169.70" y1="517.00" x2="172.10" y2="517.00" stroke="#231f20" stroke-width="1.0"/>
<rect x="169.20" y="520.50" width="3.40" height="2.80" fill="#2e4a7c"/>
<rect x="169.60" y="520.90" width="2.60" height="2.40" fill="none" stroke="#23406f" stroke-width="0.8"/>
<line x1="186.85" y1="518.20" x2="186.85" y2="515.70" stroke="#231f20" stroke-width="1.0"/>
<line x1="185.65" y1="515.70" x2="188.05" y2="515.70" stroke="#231f20" stroke-width="1.0"/>
<rect x="185.00" y="518.20" width="3.70" height="5.10" fill="#2e4a7c"/>
<rect x="185.40" y="518.60" width="2.90" height="4.70" fill="none" stroke="#23406f" stroke-width="0.8"/>
<line x1="64.75" y1="437.70" x2="64.75" y2="431.50" stroke="#231f20" stroke-width="1.0"/>
<line x1="63.55" y1="431.50" x2="65.95" y2="431.50" stroke="#231f20" stroke-width="1.0"/>
<rect x="63.00" y="437.70" width="3.50" height="85.60" fill="#a30d2b"/>
<rect x="63.40" y="438.10" width="2.70" height="85.20" fill="none" stroke="#9a0022" stroke-width="0.8"/>
<line x1="80.90" y1="483.90" x2="80.90" y2="474.20" stroke="#231f20" stroke-width="1.0"/>
<line x1="79.70" y1="474.20" x2="82.10" y2="474.20" stroke="#231f20" stroke-width="1.0"/>
<rect x="79.20" y="483.90" width="3.40" height="39.40" fill="#a30d2b"/>
<rect x="79.60" y="484.30" width="2.60" height="39.00" fill="none" stroke="#9a0022" stroke-width="0.8"/>
<line x1="96.80" y1="497.20" x2="96.80" y2="492.60" stroke="#231f20" stroke-width="1.0"/>
<line x1="95.60" y1="492.60" x2="98.00" y2="492.60" stroke="#231f20" stroke-width="1.0"/>
<rect x="95.10" y="497.20" width="3.40" height="26.10" fill="#a30d2b"/>
<rect x="95.50" y="497.60" width="2.60" height="25.70" fill="none" stroke="#9a0022" stroke-width="0.8"/>
<line x1="112.80" y1="512.00" x2="112.80" y2="507.80" stroke="#231f20" stroke-width="1.0"/>
<line x1="111.60" y1="507.80" x2="114.00" y2="507.80" stroke="#231f20" stroke-width="1.0"/>
<rect x="111.00" y="512.00" width="3.60" height="11.30" fill="#a30d2b"/>
<rect x="111.40" y="512.40" width="2.80" height="10.90" fill="none" stroke="#9a0022" stroke-width="0.8"/>
<line x1="128.85" y1="516.70" x2="128.85" y2="510.50" stroke="#231f20" stroke-width="1.0"/>
<line x1="127.65" y1="510.50" x2="130.05" y2="510.50" stroke="#231f20" stroke-width="1.0"/>
<rect x="127.00" y="516.70" width="3.70" height="6.60" fill="#a30d2b"/>
<rect x="127.40" y="517.10" width="2.90" height="6.20" fill="none" stroke="#9a0022" stroke-width="0.8"/>
<line x1="144.85" y1="519.50" x2="144.85" y2="518.00" stroke="#231f20" stroke-width="1.0"/>
<line x1="143.65" y1="518.00" x2="146.05" y2="518.00" stroke="#231f20" stroke-width="1.0"/>
<rect x="143.00" y="519.50" width="3.70" height="3.80" fill="#a30d2b"/>
<rect x="143.40" y="519.90" width="2.90" height="3.40" fill="none" stroke="#9a0022" stroke-width="0.8"/>
<line x1="160.90" y1="522.00" x2="160.90" y2="520.50" stroke="#231f20" stroke-width="1.0"/>
<line x1="159.70" y1="520.50" x2="162.10" y2="520.50" stroke="#231f20" stroke-width="1.0"/>
<rect x="159.20" y="522.00" width="3.40" height="1.30" fill="#a30d2b"/>
<rect x="159.60" y="522.40" width="2.60" height="0.90" fill="none" stroke="#9a0022" stroke-width="0.8"/>
<line x1="176.85" y1="517.00" x2="176.85" y2="512.50" stroke="#231f20" stroke-width="1.0"/>
<line x1="175.65" y1="512.50" x2="178.05" y2="512.50" stroke="#231f20" stroke-width="1.0"/>
<rect x="175.00" y="517.00" width="3.70" height="6.30" fill="#a30d2b"/>
<rect x="175.40" y="517.40" width="2.90" height="5.90" fill="none" stroke="#9a0022" stroke-width="0.8"/>
<line x1="192.95" y1="522.00" x2="192.95" y2="520.00" stroke="#231f20" stroke-width="1.0"/>
<line x1="191.75" y1="520.00" x2="194.15" y2="520.00" stroke="#231f20" stroke-width="1.0"/>
<rect x="191.50" y="522.00" width="2.90" height="1.30" fill="#a30d2b"/>
<rect x="191.90" y="522.40" width="2.10" height="0.90" fill="none" stroke="#9a0022" stroke-width="0.8"/>
<rect x="207.00" y="522.30" width="3.70" height="1.00" fill="#a30d2b"/>
<rect x="207.40" y="522.70" width="2.90" height="0.60" fill="none" stroke="#9a0022" stroke-width="0.8"/>
<line x1="53.20" y1="523.30" x2="215.00" y2="523.30" stroke="#231f20" stroke-width="1.4"/>
<line x1="61.30" y1="523.30" x2="61.30" y2="526.90" stroke="#231f20" stroke-width="1.4"/>
<line x1="77.35" y1="523.30" x2="77.35" y2="526.90" stroke="#231f20" stroke-width="1.4"/>
<line x1="93.40" y1="523.30" x2="93.40" y2="526.90" stroke="#231f20" stroke-width="1.4"/>
<line x1="109.45" y1="523.30" x2="109.45" y2="526.90" stroke="#231f20" stroke-width="1.4"/>
<line x1="125.50" y1="523.30" x2="125.50" y2="526.90" stroke="#231f20" stroke-width="1.4"/>
<line x1="141.55" y1="523.30" x2="141.55" y2="526.90" stroke="#231f20" stroke-width="1.4"/>
<line x1="157.60" y1="523.30" x2="157.60" y2="526.90" stroke="#231f20" stroke-width="1.4"/>
<line x1="173.65" y1="523.30" x2="173.65" y2="526.90" stroke="#231f20" stroke-width="1.4"/>
<line x1="189.70" y1="523.30" x2="189.70" y2="526.90" stroke="#231f20" stroke-width="1.4"/>
<line x1="205.75" y1="523.30" x2="205.75" y2="526.90" stroke="#231f20" stroke-width="1.4"/>
<text x="61.30" y="538.10" font-size="9.4" text-anchor="middle" textLength="9.62" lengthAdjust="spacingAndGlyphs">10</text>
<text x="77.35" y="538.10" font-size="9.4" text-anchor="middle" textLength="9.62" lengthAdjust="spacingAndGlyphs">20</text>
<text x="93.40" y="538.10" font-size="9.4" text-anchor="middle" textLength="9.62" lengthAdjust="spacingAndGlyphs">30</text>
<text x="109.45" y="538.10" font-size="9.4" text-anchor="middle" textLength="9.62" lengthAdjust="spacingAndGlyphs">40</text>
<text x="125.50" y="538.10" font-size="9.4" text-anchor="middle" textLength="9.62" lengthAdjust="spacingAndGlyphs">50</text>
<text x="141.55" y="538.10" font-size="9.4" text-anchor="middle" textLength="9.62" lengthAdjust="spacingAndGlyphs">60</text>
<text x="157.60" y="538.10" font-size="9.4" text-anchor="middle" textLength="9.62" lengthAdjust="spacingAndGlyphs">70</text>
<text x="173.65" y="538.10" font-size="9.4" text-anchor="middle" textLength="9.62" lengthAdjust="spacingAndGlyphs">80</text>
<text x="189.70" y="538.10" font-size="9.4" text-anchor="middle" textLength="9.62" lengthAdjust="spacingAndGlyphs">90</text>
<text x="205.75" y="538.10" font-size="9.4" text-anchor="middle" textLength="14.43" lengthAdjust="spacingAndGlyphs">100</text>
<text x="80.00" y="552.90" font-size="11.2" textLength="108.80" lengthAdjust="spacingAndGlyphs">Distance of HSC to Mks [µm]</text>
<rect x="180.00" y="422.00" width="10.00" height="3.80" fill="#2e4a7c"/>
<rect x="180.00" y="434.30" width="10.00" height="3.90" fill="#a30d2b"/>
<text x="193.80" y="427.30" font-size="9.0" textLength="16.20" lengthAdjust="spacingAndGlyphs">Ctrl.</text>
<text x="193.80" y="439.30" font-size="9.0" textLength="20.70" lengthAdjust="spacingAndGlyphs">Depl.</text>
<text x="239.00" y="414.60" font-size="13" font-weight="bold" fill="#000">G</text>
<text x="301.25" y="414.60" font-size="11.4" textLength="65.00" lengthAdjust="spacingAndGlyphs">Pf4-cre- iDTR</text>
<line x1="300.75" y1="421.25" x2="300.75" y2="523.75" stroke="#231f20" stroke-width="1.4"/>
<line x1="297.15" y1="523.25" x2="300.75" y2="523.25" stroke="#231f20" stroke-width="1.4"/>
<text x="293.75" y="526.32" font-size="9.9" text-anchor="end" textLength="4.90" lengthAdjust="spacingAndGlyphs">0</text>
<line x1="297.15" y1="506.75" x2="300.75" y2="506.75" stroke="#231f20" stroke-width="1.4"/>
<text x="293.75" y="509.82" font-size="9.9" text-anchor="end" textLength="14.70" lengthAdjust="spacingAndGlyphs">100</text>
<line x1="297.15" y1="490.25" x2="300.75" y2="490.25" stroke="#231f20" stroke-width="1.4"/>
<text x="293.75" y="493.32" font-size="9.9" text-anchor="end" textLength="14.70" lengthAdjust="spacingAndGlyphs">200</text>
<line x1="297.15" y1="473.75" x2="300.75" y2="473.75" stroke="#231f20" stroke-width="1.4"/>
<text x="293.75" y="476.82" font-size="9.9" text-anchor="end" textLength="14.70" lengthAdjust="spacingAndGlyphs">300</text>
<line x1="297.15" y1="457.25" x2="300.75" y2="457.25" stroke="#231f20" stroke-width="1.4"/>
<text x="293.75" y="460.32" font-size="9.9" text-anchor="end" textLength="14.70" lengthAdjust="spacingAndGlyphs">400</text>
<line x1="297.15" y1="440.75" x2="300.75" y2="440.75" stroke="#231f20" stroke-width="1.4"/>
<text x="293.75" y="443.82" font-size="9.9" text-anchor="end" textLength="14.70" lengthAdjust="spacingAndGlyphs">500</text>
<line x1="297.15" y1="424.25" x2="300.75" y2="424.25" stroke="#231f20" stroke-width="1.4"/>
<text x="293.75" y="427.32" font-size="9.9" text-anchor="end" textLength="14.70" lengthAdjust="spacingAndGlyphs">600</text>
<text transform="translate(272.08,471.85) rotate(-90)" font-size="11.0" text-anchor="middle" textLength="84.10" lengthAdjust="spacingAndGlyphs">Concentration [pg/ml]</text>
<line x1="316.62" y1="463.00" x2="316.62" y2="459.50" stroke="#231f20" stroke-width="1.0"/>
<line x1="311.23" y1="459.50" x2="322.02" y2="459.50" stroke="#231f20" stroke-width="1.0"/>
<rect x="306.25" y="463.00" width="20.75" height="60.25" fill="#2e4a7c"/>
<rect x="306.65" y="463.40" width="19.95" height="59.85" fill="none" stroke="#23406f" stroke-width="0.8"/>
<line x1="349.62" y1="443.25" x2="349.62" y2="436.25" stroke="#231f20" stroke-width="1.0"/>
<line x1="344.23" y1="436.25" x2="355.02" y2="436.25" stroke="#231f20" stroke-width="1.0"/>
<rect x="339.25" y="443.25" width="20.75" height="80.00" fill="#a30d2b"/>
<rect x="339.65" y="443.65" width="19.95" height="79.60" fill="none" stroke="#9a0022" stroke-width="0.8"/>
<line x1="300.75" y1="523.25" x2="366.00" y2="523.25" stroke="#231f20" stroke-width="1.4"/>
<line x1="316.62" y1="523.25" x2="316.62" y2="526.85" stroke="#231f20" stroke-width="1.4"/>
<line x1="349.62" y1="523.25" x2="349.62" y2="526.85" stroke="#231f20" stroke-width="1.4"/>
<text x="308.75" y="427.30" font-size="8.8" textLength="32.50" lengthAdjust="spacingAndGlyphs">p=0.016</text>
<text x="306.90" y="538.30" font-size="9.8" textLength="17.80" lengthAdjust="spacingAndGlyphs">Ctrl.</text>
<text x="336.50" y="538.30" font-size="9.8" textLength="21.20" lengthAdjust="spacingAndGlyphs">Depl.</text>
<text x="428.75" y="414.60" font-size="11.4" textLength="68.25" lengthAdjust="spacingAndGlyphs">Pf4-cre+ iDTR</text>
<line x1="430.50" y1="420.75" x2="430.50" y2="523.75" stroke="#231f20" stroke-width="1.4"/>
<line x1="426.90" y1="523.25" x2="430.50" y2="523.25" stroke="#231f20" stroke-width="1.4"/>
<text x="423.50" y="526.32" font-size="9.9" text-anchor="end" textLength="4.90" lengthAdjust="spacingAndGlyphs">0</text>
<line x1="426.90" y1="506.75" x2="430.50" y2="506.75" stroke="#231f20" stroke-width="1.4"/>
<text x="423.50" y="509.82" font-size="9.9" text-anchor="end" textLength="14.70" lengthAdjust="spacingAndGlyphs">100</text>
<line x1="426.90" y1="490.25" x2="430.50" y2="490.25" stroke="#231f20" stroke-width="1.4"/>
<text x="423.50" y="493.32" font-size="9.9" text-anchor="end" textLength="14.70" lengthAdjust="spacingAndGlyphs">200</text>
<line x1="426.90" y1="473.75" x2="430.50" y2="473.75" stroke="#231f20" stroke-width="1.4"/>
<text x="423.50" y="476.82" font-size="9.9" text-anchor="end" textLength="14.70" lengthAdjust="spacingAndGlyphs">300</text>
<line x1="426.90" y1="457.25" x2="430.50" y2="457.25" stroke="#231f20" stroke-width="1.4"/>
<text x="423.50" y="460.32" font-size="9.9" text-anchor="end" textLength="14.70" lengthAdjust="spacingAndGlyphs">400</text>
<line x1="426.90" y1="440.75" x2="430.50" y2="440.75" stroke="#231f20" stroke-width="1.4"/>
<text x="423.50" y="443.82" font-size="9.9" text-anchor="end" textLength="14.70" lengthAdjust="spacingAndGlyphs">500</text>
<line x1="426.90" y1="424.25" x2="430.50" y2="424.25" stroke="#231f20" stroke-width="1.4"/>
<text x="423.50" y="427.32" font-size="9.9" text-anchor="end" textLength="14.70" lengthAdjust="spacingAndGlyphs">600</text>
<text transform="translate(401.88,471.85) rotate(-90)" font-size="11.0" text-anchor="middle" textLength="84.10" lengthAdjust="spacingAndGlyphs">Concentration [pg/ml]</text>
<line x1="446.38" y1="454.50" x2="446.38" y2="446.25" stroke="#231f20" stroke-width="1.0"/>
<line x1="440.98" y1="446.25" x2="451.77" y2="446.25" stroke="#231f20" stroke-width="1.0"/>
<rect x="435.75" y="454.50" width="21.25" height="68.75" fill="url(#xb)"/>
<line x1="479.38" y1="455.00" x2="479.38" y2="451.25" stroke="#231f20" stroke-width="1.0"/>
<line x1="473.98" y1="451.25" x2="484.77" y2="451.25" stroke="#231f20" stroke-width="1.0"/>
<rect x="468.75" y="455.00" width="21.25" height="68.25" fill="url(#xr)"/>
<line x1="430.50" y1="523.25" x2="496.00" y2="523.25" stroke="#231f20" stroke-width="1.4"/>
<line x1="446.38" y1="523.25" x2="446.38" y2="526.85" stroke="#231f20" stroke-width="1.4"/>
<line x1="479.38" y1="523.25" x2="479.38" y2="526.85" stroke="#231f20" stroke-width="1.4"/>
<text x="453.00" y="427.30" font-size="8.8" textLength="27.50" lengthAdjust="spacingAndGlyphs">p=0.99</text>
<text x="438.00" y="538.30" font-size="9.8" textLength="17.00" lengthAdjust="spacingAndGlyphs">Ctrl.</text>
<text x="466.80" y="538.30" font-size="9.8" textLength="22.00" lengthAdjust="spacingAndGlyphs">Depl.</text>
<text x="8.60" y="584.50" font-size="13" font-weight="bold" fill="#000">H</text>
<text x="285.40" y="584.50" font-size="13" font-weight="bold" fill="#000">I</text>
<text x="134.80" y="586.20" font-size="11.6" textLength="65.20" lengthAdjust="spacingAndGlyphs">Pf4-cre- iDTR</text>
<text x="388.60" y="586.20" font-size="11.6" textLength="68.90" lengthAdjust="spacingAndGlyphs">Pf4-cre+ iDTR</text>
<text x="91.25" y="600.60" font-size="11.9" textLength="21.25" lengthAdjust="spacingAndGlyphs">HSC</text>
<line x1="68.75" y1="607.50" x2="68.75" y2="708.50" stroke="#231f20" stroke-width="1.4"/>
<line x1="65.15" y1="708.00" x2="68.75" y2="708.00" stroke="#231f20" stroke-width="1.4"/>
<text x="61.85" y="710.73" font-size="8.8" text-anchor="end" textLength="4.75" lengthAdjust="spacingAndGlyphs">0</text>
<line x1="65.15" y1="688.40" x2="68.75" y2="688.40" stroke="#231f20" stroke-width="1.4"/>
<text x="61.85" y="691.13" font-size="8.8" text-anchor="end" textLength="9.49" lengthAdjust="spacingAndGlyphs">20</text>
<line x1="65.15" y1="668.80" x2="68.75" y2="668.80" stroke="#231f20" stroke-width="1.4"/>
<text x="61.85" y="671.53" font-size="8.8" text-anchor="end" textLength="9.49" lengthAdjust="spacingAndGlyphs">40</text>
<line x1="65.15" y1="649.20" x2="68.75" y2="649.20" stroke="#231f20" stroke-width="1.4"/>
<text x="61.85" y="651.93" font-size="8.8" text-anchor="end" textLength="9.49" lengthAdjust="spacingAndGlyphs">60</text>
<line x1="65.15" y1="629.60" x2="68.75" y2="629.60" stroke="#231f20" stroke-width="1.4"/>
<text x="61.85" y="632.33" font-size="8.8" text-anchor="end" textLength="9.49" lengthAdjust="spacingAndGlyphs">80</text>
<line x1="65.15" y1="610.00" x2="68.75" y2="610.00" stroke="#231f20" stroke-width="1.4"/>
<text x="61.85" y="612.73" font-size="8.8" text-anchor="end" textLength="14.24" lengthAdjust="spacingAndGlyphs">100</text>
<text transform="translate(40.89,656.70) rotate(-90)" font-size="10.6" text-anchor="middle" textLength="79.40" lengthAdjust="spacingAndGlyphs">Cells in G0 phase [%]</text>
<line x1="85.38" y1="646.75" x2="85.38" y2="643.25" stroke="#231f20" stroke-width="1.0"/>
<line x1="79.97" y1="643.25" x2="90.78" y2="643.25" stroke="#231f20" stroke-width="1.0"/>
<rect x="75.00" y="646.75" width="20.75" height="61.25" fill="#2e4a7c"/>
<rect x="75.40" y="647.15" width="19.95" height="60.85" fill="none" stroke="#23406f" stroke-width="0.8"/>
<line x1="117.75" y1="665.00" x2="117.75" y2="661.90" stroke="#231f20" stroke-width="1.0"/>
<line x1="112.35" y1="661.90" x2="123.15" y2="661.90" stroke="#231f20" stroke-width="1.0"/>
<rect x="107.50" y="665.00" width="20.50" height="43.00" fill="#a30d2b"/>
<rect x="107.90" y="665.40" width="19.70" height="42.60" fill="none" stroke="#9a0022" stroke-width="0.8"/>
<line x1="68.75" y1="708.00" x2="134.30" y2="708.00" stroke="#231f20" stroke-width="1.4"/>
<line x1="85.38" y1="708.00" x2="85.38" y2="711.60" stroke="#231f20" stroke-width="1.4"/>
<line x1="117.75" y1="708.00" x2="117.75" y2="711.60" stroke="#231f20" stroke-width="1.4"/>
<text x="85.00" y="616.80" font-size="8.0" textLength="38.00" lengthAdjust="spacingAndGlyphs">p=0.0004</text>
<text x="76.80" y="722.70" font-size="9.3" textLength="17.10" lengthAdjust="spacingAndGlyphs">Ctrl.</text>
<text x="107.20" y="722.70" font-size="9.3" textLength="21.30" lengthAdjust="spacingAndGlyphs">Depl.</text>
<text x="217.50" y="600.60" font-size="11.9" textLength="28.50" lengthAdjust="spacingAndGlyphs">MPP2</text>
<line x1="198.90" y1="607.20" x2="198.90" y2="708.50" stroke="#231f20" stroke-width="1.4"/>
<line x1="195.30" y1="708.00" x2="198.90" y2="708.00" stroke="#231f20" stroke-width="1.4"/>
<text x="192.00" y="710.73" font-size="8.8" text-anchor="end" textLength="4.75" lengthAdjust="spacingAndGlyphs">0</text>
<line x1="195.30" y1="688.40" x2="198.90" y2="688.40" stroke="#231f20" stroke-width="1.4"/>
<text x="192.00" y="691.13" font-size="8.8" text-anchor="end" textLength="9.49" lengthAdjust="spacingAndGlyphs">20</text>
<line x1="195.30" y1="668.80" x2="198.90" y2="668.80" stroke="#231f20" stroke-width="1.4"/>
<text x="192.00" y="671.53" font-size="8.8" text-anchor="end" textLength="9.49" lengthAdjust="spacingAndGlyphs">40</text>
<line x1="195.30" y1="649.20" x2="198.90" y2="649.20" stroke="#231f20" stroke-width="1.4"/>
<text x="192.00" y="651.93" font-size="8.8" text-anchor="end" textLength="9.49" lengthAdjust="spacingAndGlyphs">60</text>
<line x1="195.30" y1="629.60" x2="198.90" y2="629.60" stroke="#231f20" stroke-width="1.4"/>
<text x="192.00" y="632.33" font-size="8.8" text-anchor="end" textLength="9.49" lengthAdjust="spacingAndGlyphs">80</text>
<line x1="195.30" y1="610.00" x2="198.90" y2="610.00" stroke="#231f20" stroke-width="1.4"/>
<text x="192.00" y="612.73" font-size="8.8" text-anchor="end" textLength="14.24" lengthAdjust="spacingAndGlyphs">100</text>
<text transform="translate(170.88,656.70) rotate(-90)" font-size="10.6" text-anchor="middle" textLength="79.40" lengthAdjust="spacingAndGlyphs">Cells in G0 phase [%]</text>
<line x1="215.15" y1="650.20" x2="215.15" y2="646.70" stroke="#231f20" stroke-width="1.0"/>
<line x1="209.75" y1="646.70" x2="220.55" y2="646.70" stroke="#231f20" stroke-width="1.0"/>
<rect x="204.80" y="650.20" width="20.70" height="57.80" fill="#2e4a7c"/>
<rect x="205.20" y="650.60" width="19.90" height="57.40" fill="none" stroke="#23406f" stroke-width="0.8"/>
<line x1="247.50" y1="662.90" x2="247.50" y2="657.50" stroke="#231f20" stroke-width="1.0"/>
<line x1="242.10" y1="657.50" x2="252.90" y2="657.50" stroke="#231f20" stroke-width="1.0"/>
<rect x="237.10" y="662.90" width="20.80" height="45.10" fill="#a30d2b"/>
<rect x="237.50" y="663.30" width="20.00" height="44.70" fill="none" stroke="#9a0022" stroke-width="0.8"/>
<line x1="198.90" y1="708.00" x2="264.20" y2="708.00" stroke="#231f20" stroke-width="1.4"/>
<line x1="215.15" y1="708.00" x2="215.15" y2="711.60" stroke="#231f20" stroke-width="1.4"/>
<line x1="247.50" y1="708.00" x2="247.50" y2="711.60" stroke="#231f20" stroke-width="1.4"/>
<text x="221.00" y="616.80" font-size="8.0" textLength="27.40" lengthAdjust="spacingAndGlyphs">p=0.05</text>
<text x="205.00" y="724.00" font-size="11.0" textLength="20.30" lengthAdjust="spacingAndGlyphs">Ctrl.</text>
<text x="233.40" y="724.00" font-size="11.0" textLength="25.60" lengthAdjust="spacingAndGlyphs">Depl.</text>
<text x="355.75" y="600.60" font-size="11.9" textLength="21.00" lengthAdjust="spacingAndGlyphs">HSC</text>
<line x1="333.25" y1="608.25" x2="333.25" y2="708.50" stroke="#231f20" stroke-width="1.4"/>
<line x1="329.65" y1="708.00" x2="333.25" y2="708.00" stroke="#231f20" stroke-width="1.4"/>
<text x="326.35" y="710.73" font-size="8.8" text-anchor="end" textLength="4.75" lengthAdjust="spacingAndGlyphs">0</text>
<line x1="329.65" y1="688.40" x2="333.25" y2="688.40" stroke="#231f20" stroke-width="1.4"/>
<text x="326.35" y="691.13" font-size="8.8" text-anchor="end" textLength="9.49" lengthAdjust="spacingAndGlyphs">20</text>
<line x1="329.65" y1="668.80" x2="333.25" y2="668.80" stroke="#231f20" stroke-width="1.4"/>
<text x="326.35" y="671.53" font-size="8.8" text-anchor="end" textLength="9.49" lengthAdjust="spacingAndGlyphs">40</text>
<line x1="329.65" y1="649.20" x2="333.25" y2="649.20" stroke="#231f20" stroke-width="1.4"/>
<text x="326.35" y="651.93" font-size="8.8" text-anchor="end" textLength="9.49" lengthAdjust="spacingAndGlyphs">60</text>
<line x1="329.65" y1="629.60" x2="333.25" y2="629.60" stroke="#231f20" stroke-width="1.4"/>
<text x="326.35" y="632.33" font-size="8.8" text-anchor="end" textLength="9.49" lengthAdjust="spacingAndGlyphs">80</text>
<line x1="329.65" y1="610.00" x2="333.25" y2="610.00" stroke="#231f20" stroke-width="1.4"/>
<text x="326.35" y="612.73" font-size="8.8" text-anchor="end" textLength="14.24" lengthAdjust="spacingAndGlyphs">100</text>
<text transform="translate(304.88,656.70) rotate(-90)" font-size="10.6" text-anchor="middle" textLength="79.40" lengthAdjust="spacingAndGlyphs">Cells in G0 phase [%]</text>
<line x1="349.75" y1="665.75" x2="349.75" y2="661.25" stroke="#231f20" stroke-width="1.0"/>
<line x1="344.35" y1="661.25" x2="355.15" y2="661.25" stroke="#231f20" stroke-width="1.0"/>
<rect x="339.50" y="665.75" width="20.50" height="42.25" fill="url(#xb)"/>
<line x1="381.62" y1="671.25" x2="381.62" y2="664.50" stroke="#231f20" stroke-width="1.0"/>
<line x1="376.23" y1="664.50" x2="387.02" y2="664.50" stroke="#231f20" stroke-width="1.0"/>
<rect x="371.25" y="671.25" width="20.75" height="36.75" fill="url(#xr)"/>
<line x1="333.25" y1="708.00" x2="398.30" y2="708.00" stroke="#231f20" stroke-width="1.4"/>
<line x1="349.75" y1="708.00" x2="349.75" y2="711.60" stroke="#231f20" stroke-width="1.4"/>
<line x1="381.62" y1="708.00" x2="381.62" y2="711.60" stroke="#231f20" stroke-width="1.4"/>
<text x="355.00" y="616.80" font-size="8.0" textLength="27.00" lengthAdjust="spacingAndGlyphs">p=0.51</text>
<text x="339.75" y="724.00" font-size="11.0" textLength="19.65" lengthAdjust="spacingAndGlyphs">Ctrl.</text>
<text x="367.75" y="724.00" font-size="11.0" textLength="25.35" lengthAdjust="spacingAndGlyphs">Depl.</text>
<text x="465.60" y="600.60" font-size="11.9" textLength="28.80" lengthAdjust="spacingAndGlyphs">MPP2</text>
<line x1="446.80" y1="606.30" x2="446.80" y2="708.50" stroke="#231f20" stroke-width="1.4"/>
<line x1="443.20" y1="708.00" x2="446.80" y2="708.00" stroke="#231f20" stroke-width="1.4"/>
<text x="439.90" y="710.73" font-size="8.8" text-anchor="end" textLength="4.75" lengthAdjust="spacingAndGlyphs">0</text>
<line x1="443.20" y1="688.40" x2="446.80" y2="688.40" stroke="#231f20" stroke-width="1.4"/>
<text x="439.90" y="691.13" font-size="8.8" text-anchor="end" textLength="9.49" lengthAdjust="spacingAndGlyphs">20</text>
<line x1="443.20" y1="668.80" x2="446.80" y2="668.80" stroke="#231f20" stroke-width="1.4"/>
<text x="439.90" y="671.53" font-size="8.8" text-anchor="end" textLength="9.49" lengthAdjust="spacingAndGlyphs">40</text>
<line x1="443.20" y1="649.20" x2="446.80" y2="649.20" stroke="#231f20" stroke-width="1.4"/>
<text x="439.90" y="651.93" font-size="8.8" text-anchor="end" textLength="9.49" lengthAdjust="spacingAndGlyphs">60</text>
<line x1="443.20" y1="629.60" x2="446.80" y2="629.60" stroke="#231f20" stroke-width="1.4"/>
<text x="439.90" y="632.33" font-size="8.8" text-anchor="end" textLength="9.49" lengthAdjust="spacingAndGlyphs">80</text>
<line x1="443.20" y1="610.00" x2="446.80" y2="610.00" stroke="#231f20" stroke-width="1.4"/>
<text x="439.90" y="612.73" font-size="8.8" text-anchor="end" textLength="14.24" lengthAdjust="spacingAndGlyphs">100</text>
<text transform="translate(418.08,656.70) rotate(-90)" font-size="10.6" text-anchor="middle" textLength="79.40" lengthAdjust="spacingAndGlyphs">Cells in G0 phase [%]</text>
<line x1="462.80" y1="672.30" x2="462.80" y2="666.40" stroke="#231f20" stroke-width="1.0"/>
<line x1="457.40" y1="666.40" x2="468.20" y2="666.40" stroke="#231f20" stroke-width="1.0"/>
<rect x="452.70" y="672.30" width="20.20" height="35.70" fill="url(#xb)"/>
<line x1="495.35" y1="682.30" x2="495.35" y2="678.20" stroke="#231f20" stroke-width="1.0"/>
<line x1="489.95" y1="678.20" x2="500.75" y2="678.20" stroke="#231f20" stroke-width="1.0"/>
<rect x="485.00" y="682.30" width="20.70" height="25.70" fill="url(#xr)"/>
<line x1="446.80" y1="708.00" x2="512.00" y2="708.00" stroke="#231f20" stroke-width="1.4"/>
<line x1="462.80" y1="708.00" x2="462.80" y2="711.60" stroke="#231f20" stroke-width="1.4"/>
<line x1="495.35" y1="708.00" x2="495.35" y2="711.60" stroke="#231f20" stroke-width="1.4"/>
<text x="466.70" y="616.80" font-size="8.0" textLength="27.70" lengthAdjust="spacingAndGlyphs">p=0.23</text>
<text x="453.20" y="724.00" font-size="11.0" textLength="19.90" lengthAdjust="spacingAndGlyphs">Ctrl.</text>
<text x="481.40" y="724.00" font-size="11.0" textLength="25.40" lengthAdjust="spacingAndGlyphs">Depl.</text>
<text x="289.80" y="226.00" font-size="13" font-weight="bold" fill="#000">E</text>
<rect x="301.4" y="239.1" width="115.5" height="115.4" fill="#020406"/>
<g clip-path="url(#eclip)"><g filter="url(#blur10)"><ellipse cx="338.8" cy="256.5" rx="2.0" ry="1.4" transform="rotate(66 338.8 256.5)" fill="#1f8f93" opacity="0.41"/><ellipse cx="351.5" cy="247.2" rx="2.8" ry="2.3" transform="rotate(22 351.5 247.2)" fill="#1a7e82" opacity="0.63"/><ellipse cx="347.2" cy="351.8" rx="1.8" ry="1.1" transform="rotate(26 347.2 351.8)" fill="#249a9e" opacity="0.62"/><ellipse cx="380.2" cy="251.0" rx="2.3" ry="1.2" transform="rotate(128 380.2 251.0)" fill="#1f8f93" opacity="0.60"/><ellipse cx="408.1" cy="280.8" rx="2.2" ry="1.8" transform="rotate(15 408.1 280.8)" fill="#2bb0b2" opacity="0.75"/><ellipse cx="315.0" cy="287.4" rx="2.2" ry="1.5" transform="rotate(7 315.0 287.4)" fill="none" stroke="#27a8ab" stroke-width="1.6" opacity="0.64"/><ellipse cx="309.3" cy="249.9" rx="3.5" ry="1.8" transform="rotate(132 309.3 249.9)" fill="#2bb0b2" opacity="0.51"/><ellipse cx="308.2" cy="327.8" rx="2.4" ry="1.6" transform="rotate(157 308.2 327.8)" fill="#249a9e" opacity="0.75"/><circle cx="396.0" cy="338.8" r="0.8" fill="#3cd0d0" opacity="0.90"/><ellipse cx="321.8" cy="265.9" rx="3.0" ry="2.2" transform="rotate(47 321.8 265.9)" fill="#249a9e" opacity="0.64"/><ellipse cx="314.1" cy="308.4" rx="3.2" ry="2.3" transform="rotate(171 314.1 308.4)" fill="#2ab8ba" opacity="0.85"/><ellipse cx="411.8" cy="308.6" rx="2.1" ry="1.4" transform="rotate(176 411.8 308.6)" fill="#249a9e" opacity="0.43"/><circle cx="313.2" cy="278.6" r="0.8" fill="#3cd0d0" opacity="0.90"/><ellipse cx="364.1" cy="242.2" rx="4.1" ry="3.5" transform="rotate(125 364.1 242.2)" fill="#249a9e" opacity="0.76"/><ellipse cx="392.5" cy="326.6" rx="2.4" ry="1.6" transform="rotate(145 392.5 326.6)" fill="#2bb0b2" opacity="0.54"/><ellipse cx="304.7" cy="242.3" rx="2.4" ry="1.9" transform="rotate(172 304.7 242.3)" fill="#249a9e" opacity="0.78"/><ellipse cx="413.6" cy="284.8" rx="4.1" ry="3.2" transform="rotate(31 413.6 284.8)" fill="#1f8f93" opacity="0.64"/><ellipse cx="393.7" cy="322.9" rx="3.6" ry="2.0" transform="rotate(178 393.7 322.9)" fill="#1f8f93" opacity="0.41"/><ellipse cx="308.4" cy="324.5" rx="3.4" ry="2.8" transform="rotate(93 308.4 324.5)" fill="none" stroke="#1d8e91" stroke-width="1.6" opacity="0.71"/><ellipse cx="361.9" cy="241.3" rx="2.2" ry="1.1" transform="rotate(144 361.9 241.3)" fill="#2bb0b2" opacity="0.65"/><ellipse cx="315.3" cy="246.2" rx="3.1" ry="2.1" transform="rotate(140 315.3 246.2)" fill="#2ab8ba" opacity="0.85"/><ellipse cx="323.5" cy="244.0" rx="2.9" ry="1.5" transform="rotate(161 323.5 244.0)" fill="#249a9e" opacity="0.65"/><ellipse cx="410.2" cy="269.1" rx="4.1" ry="3.4" transform="rotate(25 410.2 269.1)" fill="#2bb0b2" opacity="0.53"/><ellipse cx="336.4" cy="253.2" rx="4.1" ry="3.1" transform="rotate(66 336.4 253.2)" fill="#1f8f93" opacity="0.79"/><ellipse cx="384.8" cy="241.3" rx="2.9" ry="1.4" transform="rotate(60 384.8 241.3)" fill="none" stroke="#209a9d" stroke-width="1.6" opacity="0.55"/><ellipse cx="322.4" cy="326.3" rx="3.8" ry="3.0" transform="rotate(170 322.4 326.3)" fill="#2bb0b2" opacity="0.68"/><ellipse cx="311.7" cy="245.7" rx="2.8" ry="1.5" transform="rotate(169 311.7 245.7)" fill="none" stroke="#209a9d" stroke-width="1.6" opacity="0.74"/><ellipse cx="407.1" cy="310.8" rx="3.5" ry="3.1" transform="rotate(174 407.1 310.8)" fill="#1f8f93" opacity="0.48"/><ellipse cx="341.5" cy="241.2" rx="1.8" ry="1.5" transform="rotate(99 341.5 241.2)" fill="#2bb0b2" opacity="0.50"/><ellipse cx="413.5" cy="274.6" rx="2.4" ry="1.4" transform="rotate(159 413.5 274.6)" fill="none" stroke="#1d8e91" stroke-width="1.6" opacity="0.66"/><ellipse cx="341.5" cy="245.4" rx="2.0" ry="1.6" transform="rotate(46 341.5 245.4)" fill="#1a7e82" opacity="0.67"/><ellipse cx="322.8" cy="270.1" rx="2.7" ry="1.7" transform="rotate(177 322.8 270.1)" fill="#1a7e82" opacity="0.79"/><ellipse cx="331.9" cy="249.5" rx="1.9" ry="1.0" transform="rotate(55 331.9 249.5)" fill="#1f8f93" opacity="0.66"/><ellipse cx="339.1" cy="352.7" rx="1.7" ry="1.3" transform="rotate(8 339.1 352.7)" fill="none" stroke="#30b8ba" stroke-width="1.6" opacity="0.79"/><ellipse cx="395.2" cy="255.2" rx="3.0" ry="2.5" transform="rotate(145 395.2 255.2)" fill="none" stroke="#1d8e91" stroke-width="1.6" opacity="0.53"/><circle cx="303.6" cy="300.4" r="0.8" fill="#3cd0d0" opacity="0.90"/><ellipse cx="394.9" cy="336.7" rx="1.7" ry="1.0" transform="rotate(117 394.9 336.7)" fill="#2bb0b2" opacity="0.43"/><ellipse cx="406.6" cy="272.3" rx="3.3" ry="1.9" transform="rotate(108 406.6 272.3)" fill="#249a9e" opacity="0.65"/><ellipse cx="316.8" cy="294.8" rx="4.1" ry="2.2" transform="rotate(39 316.8 294.8)" fill="#249a9e" opacity="0.59"/><ellipse cx="303.4" cy="292.1" rx="4.1" ry="2.8" transform="rotate(48 303.4 292.1)" fill="#1f8f93" opacity="0.43"/><ellipse cx="311.8" cy="325.4" rx="2.7" ry="2.0" transform="rotate(114 311.8 325.4)" fill="#2ab8ba" opacity="0.85"/><ellipse cx="302.8" cy="324.5" rx="2.0" ry="1.3" transform="rotate(157 302.8 324.5)" fill="#249a9e" opacity="0.74"/><ellipse cx="333.8" cy="245.1" rx="3.3" ry="1.9" transform="rotate(175 333.8 245.1)" fill="#249a9e" opacity="0.48"/><ellipse cx="307.1" cy="323.6" rx="3.6" ry="2.7" transform="rotate(52 307.1 323.6)" fill="#1f8f93" opacity="0.47"/><ellipse cx="315.2" cy="313.3" rx="3.0" ry="2.5" transform="rotate(99 315.2 313.3)" fill="#2ab8ba" opacity="0.85"/><ellipse cx="329.6" cy="259.3" rx="2.6" ry="1.7" transform="rotate(146 329.6 259.3)" fill="#1a7e82" opacity="0.70"/><ellipse cx="399.4" cy="339.8" rx="0.8" ry="0.7" transform="rotate(161 399.4 339.8)" fill="#2bb0b2" opacity="0.40"/><ellipse cx="400.2" cy="351.3" rx="0.9" ry="0.5" transform="rotate(94 400.2 351.3)" fill="none" stroke="#30b8ba" stroke-width="1.6" opacity="0.53"/><circle cx="391.1" cy="239.3" r="1.1" fill="#3cd0d0" opacity="0.90"/><ellipse cx="304.8" cy="286.6" rx="1.9" ry="1.1" transform="rotate(159 304.8 286.6)" fill="#2ab8ba" opacity="0.85"/><ellipse cx="406.6" cy="245.6" rx="4.0" ry="2.1" transform="rotate(4 406.6 245.6)" fill="#2bb0b2" opacity="0.42"/><ellipse cx="308.3" cy="284.5" rx="3.9" ry="3.1" transform="rotate(180 308.3 284.5)" fill="#2ab8ba" opacity="0.85"/><ellipse cx="305.1" cy="315.8" rx="2.7" ry="1.7" transform="rotate(30 305.1 315.8)" fill="#2ab8ba" opacity="0.85"/><ellipse cx="342.0" cy="349.4" rx="2.0" ry="1.1" transform="rotate(64 342.0 349.4)" fill="none" stroke="#30b8ba" stroke-width="1.6" opacity="0.54"/><ellipse cx="382.9" cy="261.7" rx="2.9" ry="1.8" transform="rotate(133 382.9 261.7)" fill="#2bb0b2" opacity="0.50"/><ellipse cx="323.9" cy="246.4" rx="2.7" ry="1.7" transform="rotate(172 323.9 246.4)" fill="#249a9e" opacity="0.77"/><ellipse cx="394.5" cy="348.3" rx="1.8" ry="1.0" transform="rotate(129 394.5 348.3)" fill="#2bb0b2" opacity="0.72"/><ellipse cx="406.9" cy="333.1" rx="1.4" ry="0.7" transform="rotate(168 406.9 333.1)" fill="#1f8f93" opacity="0.64"/><ellipse cx="391.7" cy="248.2" rx="3.6" ry="2.2" transform="rotate(12 391.7 248.2)" fill="#249a9e" opacity="0.46"/><circle cx="350.7" cy="251.2" r="1.3" fill="#3cd0d0" opacity="0.90"/><ellipse cx="321.4" cy="254.4" rx="3.9" ry="2.3" transform="rotate(97 321.4 254.4)" fill="none" stroke="#27a8ab" stroke-width="1.6" opacity="0.62"/><ellipse cx="324.4" cy="267.7" rx="2.2" ry="1.9" transform="rotate(104 324.4 267.7)" fill="#2bb0b2" opacity="0.50"/><ellipse cx="313.0" cy="292.6" rx="1.8" ry="1.5" transform="rotate(42 313.0 292.6)" fill="#249a9e" opacity="0.49"/><ellipse cx="307.2" cy="308.4" rx="2.3" ry="1.2" transform="rotate(92 307.2 308.4)" fill="#1a7e82" opacity="0.44"/><ellipse cx="344.0" cy="255.4" rx="2.4" ry="1.8" transform="rotate(117 344.0 255.4)" fill="#1a7e82" opacity="0.73"/><ellipse cx="310.4" cy="242.7" rx="3.0" ry="2.0" transform="rotate(143 310.4 242.7)" fill="#2ab8ba" opacity="0.85"/><ellipse cx="349.7" cy="245.0" rx="3.9" ry="2.6" transform="rotate(3 349.7 245.0)" fill="none" stroke="#27a8ab" stroke-width="1.6" opacity="0.76"/><ellipse cx="311.9" cy="305.8" rx="3.7" ry="2.0" transform="rotate(9 311.9 305.8)" fill="#2bb0b2" opacity="0.44"/><ellipse cx="318.2" cy="271.8" rx="4.0" ry="2.2" transform="rotate(88 318.2 271.8)" fill="none" stroke="#1d8e91" stroke-width="1.6" opacity="0.62"/><ellipse cx="311.4" cy="321.3" rx="3.9" ry="3.0" transform="rotate(154 311.4 321.3)" fill="none" stroke="#1d8e91" stroke-width="1.6" opacity="0.83"/><ellipse cx="322.5" cy="264.3" rx="3.0" ry="2.0" transform="rotate(22 322.5 264.3)" fill="#1f8f93" opacity="0.42"/><ellipse cx="398.2" cy="252.7" rx="3.1" ry="2.3" transform="rotate(55 398.2 252.7)" fill="#1f8f93" opacity="0.57"/><ellipse cx="304.1" cy="310.5" rx="2.4" ry="1.9" transform="rotate(140 304.1 310.5)" fill="#2ab8ba" opacity="0.85"/><ellipse cx="356.1" cy="251.5" rx="2.8" ry="1.5" transform="rotate(80 356.1 251.5)" fill="#1a7e82" opacity="0.42"/><ellipse cx="384.6" cy="248.3" rx="3.9" ry="3.0" transform="rotate(141 384.6 248.3)" fill="#1a7e82" opacity="0.80"/><ellipse cx="386.0" cy="333.1" rx="2.0" ry="1.4" transform="rotate(172 386.0 333.1)" fill="none" stroke="#1d8e91" stroke-width="1.6" opacity="0.77"/><ellipse cx="413.0" cy="291.4" rx="3.5" ry="3.0" transform="rotate(45 413.0 291.4)" fill="#2bb0b2" opacity="0.70"/><ellipse cx="318.3" cy="277.3" rx="2.4" ry="1.8" transform="rotate(172 318.3 277.3)" fill="#249a9e" opacity="0.66"/><ellipse cx="337.5" cy="239.3" rx="2.2" ry="1.6" transform="rotate(78 337.5 239.3)" fill="#1a7e82" opacity="0.45"/><ellipse cx="301.7" cy="280.1" rx="2.7" ry="1.6" transform="rotate(105 301.7 280.1)" fill="#2ab8ba" opacity="0.85"/><ellipse cx="409.6" cy="267.2" rx="2.0" ry="1.5" transform="rotate(157 409.6 267.2)" fill="none" stroke="#30b8ba" stroke-width="1.6" opacity="0.82"/><ellipse cx="404.5" cy="307.7" rx="3.2" ry="2.3" transform="rotate(89 404.5 307.7)" fill="#1a7e82" opacity="0.42"/><ellipse cx="308.1" cy="329.0" rx="3.1" ry="2.7" transform="rotate(26 308.1 329.0)" fill="#2bb0b2" opacity="0.73"/><ellipse cx="328.2" cy="243.6" rx="3.6" ry="2.8" transform="rotate(152 328.2 243.6)" fill="none" stroke="#27a8ab" stroke-width="1.6" opacity="0.75"/><ellipse cx="404.7" cy="249.0" rx="2.2" ry="1.9" transform="rotate(152 404.7 249.0)" fill="#1f8f93" opacity="0.70"/><ellipse cx="318.1" cy="242.2" rx="4.0" ry="2.6" transform="rotate(26 318.1 242.2)" fill="#2ab8ba" opacity="0.85"/><ellipse cx="386.5" cy="246.7" rx="2.7" ry="2.2" transform="rotate(148 386.5 246.7)" fill="none" stroke="#209a9d" stroke-width="1.6" opacity="0.85"/><ellipse cx="329.9" cy="262.5" rx="4.1" ry="3.5" transform="rotate(136 329.9 262.5)" fill="#249a9e" opacity="0.59"/><ellipse cx="341.9" cy="346.4" rx="1.7" ry="1.5" transform="rotate(138 341.9 346.4)" fill="none" stroke="#30b8ba" stroke-width="1.6" opacity="0.84"/><ellipse cx="372.8" cy="242.7" rx="2.8" ry="2.3" transform="rotate(62 372.8 242.7)" fill="none" stroke="#1d8e91" stroke-width="1.6" opacity="0.79"/><circle cx="388.1" cy="245.3" r="1.1" fill="#3cd0d0" opacity="0.90"/><ellipse cx="412.0" cy="298.5" rx="2.2" ry="1.8" transform="rotate(169 412.0 298.5)" fill="#1f8f93" opacity="0.44"/><ellipse cx="374.9" cy="248.4" rx="3.5" ry="2.8" transform="rotate(113 374.9 248.4)" fill="#2bb0b2" opacity="0.77"/><ellipse cx="404.4" cy="325.1" rx="3.4" ry="2.2" transform="rotate(55 404.4 325.1)" fill="#1f8f93" opacity="0.55"/><ellipse cx="403.5" cy="266.1" rx="3.1" ry="2.5" transform="rotate(136 403.5 266.1)" fill="none" stroke="#27a8ab" stroke-width="1.6" opacity="0.73"/><ellipse cx="320.4" cy="315.0" rx="2.2" ry="1.2" transform="rotate(54 320.4 315.0)" fill="#2ab8ba" opacity="0.85"/><circle cx="403.6" cy="292.6" r="0.9" fill="#3cd0d0" opacity="0.90"/><ellipse cx="304.0" cy="268.8" rx="1.8" ry="1.1" transform="rotate(154 304.0 268.8)" fill="none" stroke="#30b8ba" stroke-width="1.6" opacity="0.84"/><ellipse cx="322.4" cy="253.4" rx="2.4" ry="1.9" transform="rotate(161 322.4 253.4)" fill="#2bb0b2" opacity="0.69"/><ellipse cx="379.4" cy="346.4" rx="1.6" ry="1.3" transform="rotate(70 379.4 346.4)" fill="#1a7e82" opacity="0.42"/><ellipse cx="364.2" cy="257.7" rx="4.1" ry="2.9" transform="rotate(18 364.2 257.7)" fill="#1f8f93" opacity="0.69"/><ellipse cx="325.7" cy="318.1" rx="3.6" ry="2.0" transform="rotate(177 325.7 318.1)" fill="#1a7e82" opacity="0.50"/><ellipse cx="345.5" cy="246.2" rx="4.0" ry="3.0" transform="rotate(121 345.5 246.2)" fill="#1a7e82" opacity="0.49"/><ellipse cx="325.9" cy="254.0" rx="3.7" ry="2.8" transform="rotate(84 325.9 254.0)" fill="#1f8f93" opacity="0.73"/><ellipse cx="318.3" cy="316.0" rx="3.7" ry="2.5" transform="rotate(179 318.3 316.0)" fill="none" stroke="#30b8ba" stroke-width="1.6" opacity="0.64"/><ellipse cx="399.7" cy="270.0" rx="2.4" ry="1.6" transform="rotate(33 399.7 270.0)" fill="#249a9e" opacity="0.54"/><circle cx="319.0" cy="274.1" r="0.9" fill="#3cd0d0" opacity="0.90"/><ellipse cx="309.7" cy="272.9" rx="3.2" ry="2.7" transform="rotate(33 309.7 272.9)" fill="#1f8f93" opacity="0.76"/><ellipse cx="324.2" cy="319.0" rx="3.6" ry="2.4" transform="rotate(159 324.2 319.0)" fill="#249a9e" opacity="0.57"/><ellipse cx="329.9" cy="258.1" rx="3.6" ry="2.0" transform="rotate(58 329.9 258.1)" fill="none" stroke="#30b8ba" stroke-width="1.6" opacity="0.77"/><ellipse cx="398.5" cy="282.4" rx="4.1" ry="2.2" transform="rotate(115 398.5 282.4)" fill="none" stroke="#209a9d" stroke-width="1.6" opacity="0.51"/><ellipse cx="394.8" cy="249.9" rx="3.6" ry="2.0" transform="rotate(38 394.8 249.9)" fill="#1f8f93" opacity="0.54"/><ellipse cx="400.9" cy="281.4" rx="3.1" ry="2.5" transform="rotate(38 400.9 281.4)" fill="#2bb0b2" opacity="0.50"/><ellipse cx="307.5" cy="272.5" rx="3.0" ry="1.9" transform="rotate(177 307.5 272.5)" fill="#2ab8ba" opacity="0.85"/><ellipse cx="323.6" cy="321.4" rx="4.1" ry="2.2" transform="rotate(179 323.6 321.4)" fill="#2bb0b2" opacity="0.62"/><ellipse cx="307.1" cy="273.8" rx="2.3" ry="2.0" transform="rotate(110 307.1 273.8)" fill="none" stroke="#30b8ba" stroke-width="1.6" opacity="0.75"/><ellipse cx="322.3" cy="243.4" rx="4.0" ry="3.0" transform="rotate(66 322.3 243.4)" fill="none" stroke="#27a8ab" stroke-width="1.6" opacity="0.72"/><ellipse cx="409.3" cy="245.4" rx="1.9" ry="1.0" transform="rotate(146 409.3 245.4)" fill="#2bb0b2" opacity="0.58"/><ellipse cx="303.0" cy="283.8" rx="4.1" ry="3.6" transform="rotate(86 303.0 283.8)" fill="#2ab8ba" opacity="0.85"/><ellipse cx="375.8" cy="263.6" rx="1.8" ry="0.9" transform="rotate(123 375.8 263.6)" fill="#1a7e82" opacity="0.49"/><ellipse cx="315.4" cy="293.6" rx="3.2" ry="2.2" transform="rotate(134 315.4 293.6)" fill="none" stroke="#1d8e91" stroke-width="1.6" opacity="0.79"/><circle cx="311.1" cy="311.6" r="0.7" fill="#3cd0d0" opacity="0.90"/><ellipse cx="303.1" cy="314.2" rx="2.0" ry="1.2" transform="rotate(131 303.1 314.2)" fill="#2bb0b2" opacity="0.64"/><circle cx="401.8" cy="322.8" r="0.8" fill="#3cd0d0" opacity="0.90"/><ellipse cx="308.0" cy="284.7" rx="4.0" ry="3.0" transform="rotate(2 308.0 284.7)" fill="#249a9e" opacity="0.71"/><ellipse cx="403.6" cy="299.3" rx="3.2" ry="1.9" transform="rotate(35 403.6 299.3)" fill="#249a9e" opacity="0.55"/><ellipse cx="344.6" cy="251.3" rx="3.7" ry="2.1" transform="rotate(107 344.6 251.3)" fill="#1a7e82" opacity="0.44"/><ellipse cx="333.7" cy="250.3" rx="3.2" ry="2.4" transform="rotate(24 333.7 250.3)" fill="none" stroke="#27a8ab" stroke-width="1.6" opacity="0.58"/><circle cx="322.3" cy="248.8" r="1.2" fill="#3cd0d0" opacity="0.90"/><ellipse cx="308.8" cy="308.1" rx="2.1" ry="1.8" transform="rotate(46 308.8 308.1)" fill="#2bb0b2" opacity="0.47"/><circle cx="399.5" cy="281.9" r="0.7" fill="#3cd0d0" opacity="0.90"/><ellipse cx="338.1" cy="239.8" rx="3.6" ry="2.6" transform="rotate(79 338.1 239.8)" fill="none" stroke="#30b8ba" stroke-width="1.6" opacity="0.63"/><ellipse cx="331.1" cy="253.4" rx="2.2" ry="1.3" transform="rotate(26 331.1 253.4)" fill="none" stroke="#209a9d" stroke-width="1.6" opacity="0.69"/><ellipse cx="406.8" cy="331.3" rx="1.8" ry="1.0" transform="rotate(111 406.8 331.3)" fill="#1f8f93" opacity="0.71"/><ellipse cx="352.1" cy="256.3" rx="2.4" ry="1.2" transform="rotate(103 352.1 256.3)" fill="#1f8f93" opacity="0.50"/><ellipse cx="314.0" cy="291.7" rx="2.2" ry="1.5" transform="rotate(114 314.0 291.7)" fill="none" stroke="#30b8ba" stroke-width="1.6" opacity="0.83"/><ellipse cx="318.1" cy="312.9" rx="3.0" ry="2.1" transform="rotate(80 318.1 312.9)" fill="none" stroke="#27a8ab" stroke-width="1.6" opacity="0.57"/><ellipse cx="367.4" cy="255.0" rx="3.6" ry="2.9" transform="rotate(35 367.4 255.0)" fill="#1a7e82" opacity="0.76"/><ellipse cx="317.2" cy="316.4" rx="2.3" ry="1.4" transform="rotate(2 317.2 316.4)" fill="none" stroke="#209a9d" stroke-width="1.6" opacity="0.71"/><ellipse cx="410.6" cy="249.5" rx="3.6" ry="2.0" transform="rotate(120 410.6 249.5)" fill="#249a9e" opacity="0.41"/><ellipse cx="309.6" cy="280.3" rx="3.8" ry="3.3" transform="rotate(140 309.6 280.3)" fill="none" stroke="#209a9d" stroke-width="1.6" opacity="0.62"/><ellipse cx="313.8" cy="323.5" rx="1.9" ry="1.5" transform="rotate(24 313.8 323.5)" fill="#2ab8ba" opacity="0.85"/><ellipse cx="372.9" cy="258.5" rx="3.1" ry="2.8" transform="rotate(4 372.9 258.5)" fill="none" stroke="#1d8e91" stroke-width="1.6" opacity="0.60"/><ellipse cx="398.1" cy="312.6" rx="2.4" ry="1.6" transform="rotate(63 398.1 312.6)" fill="#1f8f93" opacity="0.42"/><ellipse cx="315.6" cy="296.1" rx="2.5" ry="1.4" transform="rotate(73 315.6 296.1)" fill="#1f8f93" opacity="0.46"/><ellipse cx="409.3" cy="267.9" rx="3.3" ry="2.1" transform="rotate(96 409.3 267.9)" fill="#2bb0b2" opacity="0.48"/><ellipse cx="378.7" cy="265.1" rx="2.8" ry="2.5" transform="rotate(82 378.7 265.1)" fill="#1a7e82" opacity="0.41"/><ellipse cx="318.5" cy="253.4" rx="2.5" ry="1.7" transform="rotate(52 318.5 253.4)" fill="#2ab8ba" opacity="0.85"/><circle cx="342.1" cy="338.6" r="0.9" fill="#3cd0d0" opacity="0.90"/><ellipse cx="390.6" cy="257.4" rx="3.9" ry="2.6" transform="rotate(11 390.6 257.4)" fill="#2bb0b2" opacity="0.54"/><ellipse cx="378.6" cy="255.3" rx="3.3" ry="2.0" transform="rotate(151 378.6 255.3)" fill="#2bb0b2" opacity="0.51"/><circle cx="349.1" cy="251.0" r="0.8" fill="#3cd0d0" opacity="0.90"/><circle cx="413.3" cy="309.3" r="0.7" fill="#3cd0d0" opacity="0.90"/><ellipse cx="309.3" cy="265.6" rx="3.0" ry="2.3" transform="rotate(167 309.3 265.6)" fill="#2ab8ba" opacity="0.85"/><ellipse cx="387.6" cy="249.7" rx="2.7" ry="1.4" transform="rotate(56 387.6 249.7)" fill="#249a9e" opacity="0.68"/><ellipse cx="322.5" cy="311.8" rx="2.6" ry="2.4" transform="rotate(115 322.5 311.8)" fill="#2bb0b2" opacity="0.40"/><ellipse cx="301.7" cy="321.1" rx="4.0" ry="2.6" transform="rotate(18 301.7 321.1)" fill="#2ab8ba" opacity="0.85"/><ellipse cx="321.6" cy="327.8" rx="3.9" ry="3.3" transform="rotate(93 321.6 327.8)" fill="#2ab8ba" opacity="0.85"/><circle cx="370.9" cy="255.9" r="1.0" fill="#3cd0d0" opacity="0.90"/><ellipse cx="318.0" cy="266.6" rx="1.9" ry="1.4" transform="rotate(155 318.0 266.6)" fill="#2ab8ba" opacity="0.85"/><ellipse cx="306.5" cy="245.4" rx="2.3" ry="1.3" transform="rotate(106 306.5 245.4)" fill="#2ab8ba" opacity="0.85"/><ellipse cx="307" cy="325" rx="2.0" ry="1.6" fill="#c41ac4" opacity="0.85"/><ellipse cx="312" cy="327" rx="1.6" ry="1.3" fill="#c41ac4" opacity="0.85"/><ellipse cx="338" cy="346" rx="2.2" ry="1.8" fill="#c41ac4" opacity="0.85"/><ellipse cx="379" cy="346" rx="2.5" ry="2.0" fill="#c41ac4" opacity="0.85"/><ellipse cx="407" cy="271" rx="2.2" ry="1.8" fill="#c41ac4" opacity="0.85"/><ellipse cx="413" cy="262" rx="1.5" ry="1.2" fill="#c41ac4" opacity="0.85"/><ellipse cx="396" cy="274" rx="3" ry="2.4" fill="#c41ac4" opacity="0.85"/><ellipse cx="345" cy="341" rx="1.5" ry="1.2" fill="#c41ac4" opacity="0.85"/><ellipse cx="400" cy="326" rx="1.8" ry="1.4" fill="#c41ac4" opacity="0.85"/><ellipse cx="306" cy="337" rx="1.2" ry="1.0" fill="#c41ac4" opacity="0.85"/></g></g>
<path d="M332.3,263.0 C334.8,261.9 338.9,260.7 342.7,260.4 C346.4,260.1 351.1,260.5 354.8,261.2 C358.6,261.9 361.9,263.6 365.2,264.7 C368.5,265.8 371.3,266.1 374.5,268.0 C377.7,269.9 381.3,273.3 384.2,276.0 C387.1,278.7 390.4,281.2 392.0,284.0 C393.6,286.8 393.6,289.8 393.7,292.8 C393.8,295.8 393.3,298.8 392.9,302.0 C392.5,305.2 392.1,308.9 391.2,312.3 C390.3,315.8 389.4,319.8 387.7,322.7 C386.0,325.6 383.7,328.1 380.8,329.6 C377.9,331.1 373.9,331.7 370.4,331.8 C366.9,331.9 363.5,331.1 360.0,330.0 C356.5,328.9 353.1,327.0 349.6,325.0 C346.1,323.0 342.4,320.7 339.2,318.0 C336.0,315.3 333.1,312.2 330.6,309.0 C328.2,305.8 325.8,302.0 324.5,298.5 C323.2,295.0 322.8,291.8 322.8,288.0 C322.8,284.2 323.6,279.4 324.5,276.0 C325.4,272.6 326.7,269.5 328.0,267.3 C329.3,265.1 329.9,264.1 332.3,263.0Z" fill="url(#mgrad)" filter="url(#blur12)"/>
<ellipse cx="377.5" cy="267.5" rx="5" ry="4.5" fill="#dc22dc" filter="url(#blur08)"/>
<ellipse cx="399" cy="276" rx="5" ry="8" fill="#a41aa4" opacity="0.55" filter="url(#blur12)"/>
<ellipse cx="386" cy="322" rx="7" ry="6" fill="#9a189a" opacity="0.45" filter="url(#blur12)"/>
<clipPath id="blobclip"><path d="M332.3,263.0 C334.8,261.9 338.9,260.7 342.7,260.4 C346.4,260.1 351.1,260.5 354.8,261.2 C358.6,261.9 361.9,263.6 365.2,264.7 C368.5,265.8 371.3,266.1 374.5,268.0 C377.7,269.9 381.3,273.3 384.2,276.0 C387.1,278.7 390.4,281.2 392.0,284.0 C393.6,286.8 393.6,289.8 393.7,292.8 C393.8,295.8 393.3,298.8 392.9,302.0 C392.5,305.2 392.1,308.9 391.2,312.3 C390.3,315.8 389.4,319.8 387.7,322.7 C386.0,325.6 383.7,328.1 380.8,329.6 C377.9,331.1 373.9,331.7 370.4,331.8 C366.9,331.9 363.5,331.1 360.0,330.0 C356.5,328.9 353.1,327.0 349.6,325.0 C346.1,323.0 342.4,320.7 339.2,318.0 C336.0,315.3 333.1,312.2 330.6,309.0 C328.2,305.8 325.8,302.0 324.5,298.5 C323.2,295.0 322.8,291.8 322.8,288.0 C322.8,284.2 323.6,279.4 324.5,276.0 C325.4,272.6 326.7,269.5 328.0,267.3 C329.3,265.1 329.9,264.1 332.3,263.0Z"/></clipPath>
<g clip-path="url(#blobclip)"><g filter="url(#blur08)"><circle cx="385.9" cy="292.4" r="1.6" fill="#7a007a" opacity="0.51"/><circle cx="371.5" cy="310.0" r="1.9" fill="#7a007a" opacity="0.34"/><circle cx="332.9" cy="286.3" r="0.9" fill="#ff28ff" opacity="0.46"/><circle cx="347.6" cy="282.8" r="2.4" fill="#7a007a" opacity="0.43"/><circle cx="389.4" cy="300.3" r="1.6" fill="#7a007a" opacity="0.32"/><circle cx="353.1" cy="278.3" r="0.9" fill="#ff28ff" opacity="0.40"/><circle cx="329.9" cy="271.7" r="1.8" fill="#ff28ff" opacity="0.52"/><circle cx="355.5" cy="319.6" r="1.3" fill="#7a007a" opacity="0.28"/><circle cx="350.8" cy="306.3" r="1.9" fill="#7a007a" opacity="0.37"/><circle cx="371.3" cy="331.4" r="2.6" fill="#7a007a" opacity="0.35"/><circle cx="350.7" cy="296.8" r="1.1" fill="#ff28ff" opacity="0.57"/><circle cx="375.9" cy="317.2" r="0.9" fill="#ff28ff" opacity="0.36"/><circle cx="372.8" cy="318.1" r="1.3" fill="#7a007a" opacity="0.51"/><circle cx="381.2" cy="316.7" r="1.2" fill="#ff28ff" opacity="0.34"/><circle cx="341.9" cy="321.3" r="1.6" fill="#7a007a" opacity="0.50"/><circle cx="355.3" cy="306.2" r="2.0" fill="#ff28ff" opacity="0.67"/><circle cx="333.4" cy="285.3" r="2.3" fill="#ff28ff" opacity="0.66"/><circle cx="350.4" cy="328.5" r="1.1" fill="#7a007a" opacity="0.29"/><circle cx="366.3" cy="273.5" r="2.1" fill="#7a007a" opacity="0.41"/><circle cx="352.7" cy="316.6" r="1.2" fill="#ff28ff" opacity="0.52"/><circle cx="367.8" cy="331.3" r="1.9" fill="#7a007a" opacity="0.37"/><circle cx="359.6" cy="330.1" r="2.0" fill="#7a007a" opacity="0.53"/><circle cx="369.8" cy="328.1" r="2.4" fill="#7a007a" opacity="0.44"/><circle cx="394.0" cy="310.5" r="1.0" fill="#7a007a" opacity="0.47"/><circle cx="351.7" cy="315.5" r="2.6" fill="#ff28ff" opacity="0.39"/><circle cx="360.1" cy="283.9" r="2.5" fill="#7a007a" opacity="0.32"/><circle cx="358.2" cy="311.1" r="2.3" fill="#ff28ff" opacity="0.50"/><circle cx="371.4" cy="272.5" r="2.0" fill="#ff28ff" opacity="0.61"/><circle cx="357.2" cy="271.1" r="2.5" fill="#ff28ff" opacity="0.52"/><circle cx="333.3" cy="269.1" r="2.2" fill="#7a007a" opacity="0.29"/><circle cx="346.4" cy="263.4" r="2.0" fill="#7a007a" opacity="0.44"/><circle cx="357.0" cy="294.6" r="2.1" fill="#7a007a" opacity="0.44"/><circle cx="330.1" cy="307.3" r="2.1" fill="#7a007a" opacity="0.45"/><circle cx="364.7" cy="275.3" r="2.0" fill="#7a007a" opacity="0.35"/><circle cx="391.5" cy="310.2" r="1.2" fill="#ff28ff" opacity="0.64"/><circle cx="350.9" cy="272.5" r="2.1" fill="#7a007a" opacity="0.37"/><circle cx="343.1" cy="264.8" r="1.4" fill="#ff28ff" opacity="0.36"/><circle cx="353.8" cy="301.5" r="1.4" fill="#7a007a" opacity="0.22"/><circle cx="356.9" cy="315.8" r="1.5" fill="#ff28ff" opacity="0.41"/><circle cx="357.1" cy="318.7" r="1.4" fill="#7a007a" opacity="0.23"/><circle cx="341.7" cy="305.1" r="2.1" fill="#ff28ff" opacity="0.56"/><circle cx="321.9" cy="287.6" r="1.1" fill="#7a007a" opacity="0.54"/><circle cx="359.9" cy="327.6" r="2.1" fill="#7a007a" opacity="0.45"/><circle cx="343.6" cy="305.3" r="1.5" fill="#ff28ff" opacity="0.44"/><circle cx="337.5" cy="266.9" r="2.5" fill="#ff28ff" opacity="0.40"/><circle cx="352.1" cy="314.5" r="2.6" fill="#ff28ff" opacity="0.55"/><circle cx="330.8" cy="274.2" r="1.1" fill="#ff28ff" opacity="0.46"/><circle cx="356.4" cy="273.5" r="1.5" fill="#7a007a" opacity="0.41"/><circle cx="383.3" cy="296.9" r="1.1" fill="#7a007a" opacity="0.22"/><circle cx="374.0" cy="327.2" r="1.0" fill="#7a007a" opacity="0.53"/><circle cx="333.4" cy="314.0" r="1.5" fill="#7a007a" opacity="0.48"/><circle cx="371.3" cy="301.4" r="1.7" fill="#7a007a" opacity="0.38"/><circle cx="352.6" cy="298.8" r="2.0" fill="#7a007a" opacity="0.34"/><circle cx="381.5" cy="313.8" r="1.5" fill="#ff28ff" opacity="0.53"/><circle cx="352.0" cy="285.5" r="2.0" fill="#7a007a" opacity="0.50"/><circle cx="360.3" cy="306.7" r="2.3" fill="#7a007a" opacity="0.46"/><circle cx="372.5" cy="267.8" r="1.9" fill="#7a007a" opacity="0.53"/><circle cx="347.4" cy="275.2" r="1.7" fill="#7a007a" opacity="0.28"/><circle cx="377.0" cy="273.7" r="2.3" fill="#ff28ff" opacity="0.38"/><circle cx="370.9" cy="312.7" r="1.3" fill="#7a007a" opacity="0.39"/><circle cx="373.0" cy="314.8" r="2.4" fill="#7a007a" opacity="0.50"/><circle cx="371.6" cy="320.0" r="1.1" fill="#7a007a" opacity="0.38"/><circle cx="359.2" cy="292.8" r="2.1" fill="#7a007a" opacity="0.54"/><circle cx="334.6" cy="294.0" r="1.1" fill="#7a007a" opacity="0.42"/><circle cx="392.6" cy="292.8" r="1.1" fill="#7a007a" opacity="0.52"/><circle cx="335.3" cy="265.2" r="2.1" fill="#7a007a" opacity="0.33"/><circle cx="384.0" cy="320.3" r="2.2" fill="#7a007a" opacity="0.29"/><circle cx="338.2" cy="297.1" r="1.8" fill="#7a007a" opacity="0.37"/><circle cx="382.1" cy="284.3" r="1.5" fill="#7a007a" opacity="0.41"/><circle cx="338.4" cy="284.3" r="2.1" fill="#7a007a" opacity="0.55"/><circle cx="353.4" cy="319.3" r="1.7" fill="#7a007a" opacity="0.29"/><circle cx="386.4" cy="309.6" r="2.3" fill="#7a007a" opacity="0.29"/><circle cx="340.4" cy="291.5" r="0.9" fill="#ff28ff" opacity="0.49"/><circle cx="367.2" cy="307.6" r="1.9" fill="#ff28ff" opacity="0.69"/><circle cx="372.7" cy="291.9" r="1.3" fill="#ff28ff" opacity="0.51"/><circle cx="347.4" cy="298.3" r="1.4" fill="#7a007a" opacity="0.42"/><circle cx="336.1" cy="321.5" r="2.1" fill="#7a007a" opacity="0.36"/><circle cx="345.5" cy="294.7" r="1.3" fill="#7a007a" opacity="0.51"/><circle cx="366.3" cy="306.5" r="2.1" fill="#7a007a" opacity="0.33"/><circle cx="347.1" cy="301.9" r="1.9" fill="#7a007a" opacity="0.44"/><circle cx="327.2" cy="271.9" r="1.6" fill="#7a007a" opacity="0.23"/><circle cx="380.2" cy="319.4" r="1.3" fill="#ff28ff" opacity="0.36"/><circle cx="346.0" cy="285.0" r="2.4" fill="#7a007a" opacity="0.51"/><circle cx="374.4" cy="282.8" r="2.1" fill="#ff28ff" opacity="0.65"/><circle cx="379.5" cy="296.3" r="2.4" fill="#ff28ff" opacity="0.70"/><circle cx="331.5" cy="272.4" r="2.4" fill="#ff28ff" opacity="0.46"/><circle cx="350.1" cy="317.8" r="2.5" fill="#7a007a" opacity="0.25"/><circle cx="374.7" cy="276.2" r="1.9" fill="#ff28ff" opacity="0.69"/><circle cx="390.3" cy="302.8" r="1.4" fill="#7a007a" opacity="0.36"/><circle cx="393.8" cy="311.2" r="2.1" fill="#ff28ff" opacity="0.64"/><circle cx="344.3" cy="270.0" r="2.4" fill="#7a007a" opacity="0.47"/><circle cx="367.6" cy="275.0" r="0.9" fill="#7a007a" opacity="0.36"/><circle cx="358.1" cy="264.0" r="1.3" fill="#7a007a" opacity="0.25"/><circle cx="382.0" cy="302.0" r="2.1" fill="#7a007a" opacity="0.29"/><circle cx="344.4" cy="325.4" r="0.9" fill="#7a007a" opacity="0.41"/><circle cx="385.6" cy="319.7" r="1.0" fill="#ff28ff" opacity="0.61"/><circle cx="369.7" cy="281.1" r="1.6" fill="#ff28ff" opacity="0.63"/><circle cx="336.0" cy="298.4" r="2.3" fill="#7a007a" opacity="0.33"/><circle cx="346.2" cy="310.4" r="2.4" fill="#7a007a" opacity="0.54"/><circle cx="363.7" cy="274.4" r="2.0" fill="#ff28ff" opacity="0.49"/><circle cx="369.5" cy="300.0" r="2.1" fill="#7a007a" opacity="0.33"/><circle cx="360.3" cy="277.9" r="1.3" fill="#7a007a" opacity="0.23"/><circle cx="331.4" cy="306.3" r="1.6" fill="#ff28ff" opacity="0.67"/><circle cx="367.5" cy="265.8" r="1.8" fill="#7a007a" opacity="0.47"/><circle cx="339.7" cy="304.5" r="2.2" fill="#ff28ff" opacity="0.65"/><circle cx="385.0" cy="318.3" r="1.8" fill="#7a007a" opacity="0.45"/><circle cx="353.6" cy="324.8" r="1.3" fill="#ff28ff" opacity="0.66"/><circle cx="349.6" cy="273.0" r="2.2" fill="#7a007a" opacity="0.43"/><circle cx="389.4" cy="309.9" r="1.5" fill="#7a007a" opacity="0.33"/><circle cx="388.9" cy="286.0" r="2.0" fill="#ff28ff" opacity="0.31"/><circle cx="338.4" cy="284.3" r="1.5" fill="#7a007a" opacity="0.30"/><circle cx="386.8" cy="295.9" r="2.6" fill="#ff28ff" opacity="0.49"/><circle cx="391.0" cy="317.5" r="2.5" fill="#7a007a" opacity="0.31"/><circle cx="344.3" cy="304.8" r="2.5" fill="#7a007a" opacity="0.22"/><circle cx="379.4" cy="324.1" r="2.2" fill="#7a007a" opacity="0.47"/><circle cx="353.4" cy="290.8" r="1.1" fill="#ff28ff" opacity="0.57"/><circle cx="343.0" cy="296.2" r="1.5" fill="#ff28ff" opacity="0.49"/><circle cx="350.2" cy="289.1" r="2.0" fill="#ff28ff" opacity="0.46"/><circle cx="345.5" cy="327.6" r="1.9" fill="#7a007a" opacity="0.42"/><circle cx="365.2" cy="302.0" r="2.1" fill="#ff28ff" opacity="0.32"/><circle cx="393.8" cy="298.0" r="0.9" fill="#7a007a" opacity="0.39"/><circle cx="368.1" cy="299.6" r="2.6" fill="#7a007a" opacity="0.49"/><circle cx="354.5" cy="278.6" r="1.5" fill="#7a007a" opacity="0.55"/><circle cx="376.6" cy="277.5" r="1.6" fill="#7a007a" opacity="0.33"/><circle cx="331.5" cy="316.9" r="2.4" fill="#ff28ff" opacity="0.66"/><circle cx="368.3" cy="275.1" r="1.8" fill="#ff28ff" opacity="0.58"/><circle cx="382.7" cy="309.1" r="1.0" fill="#ff28ff" opacity="0.31"/><circle cx="374.4" cy="288.5" r="1.8" fill="#ff28ff" opacity="0.48"/><circle cx="370.8" cy="292.4" r="1.9" fill="#7a007a" opacity="0.43"/><circle cx="355.8" cy="283.4" r="1.8" fill="#7a007a" opacity="0.49"/><circle cx="380.1" cy="325.6" r="1.5" fill="#7a007a" opacity="0.54"/><circle cx="340.2" cy="308.8" r="2.3" fill="#7a007a" opacity="0.48"/><circle cx="370.5" cy="329.9" r="2.2" fill="#7a007a" opacity="0.49"/><circle cx="385.2" cy="283.8" r="1.9" fill="#7a007a" opacity="0.55"/><circle cx="347.7" cy="272.4" r="1.2" fill="#7a007a" opacity="0.44"/><circle cx="331.6" cy="308.9" r="1.2" fill="#ff28ff" opacity="0.64"/><circle cx="369.6" cy="328.8" r="1.4" fill="#7a007a" opacity="0.50"/><circle cx="352.5" cy="288.8" r="2.1" fill="#7a007a" opacity="0.33"/><circle cx="370.4" cy="297.8" r="1.4" fill="#ff28ff" opacity="0.41"/><circle cx="342.1" cy="291.7" r="1.1" fill="#ff28ff" opacity="0.59"/><circle cx="333.3" cy="297.4" r="0.9" fill="#7a007a" opacity="0.37"/><circle cx="370.2" cy="305.8" r="1.8" fill="#ff28ff" opacity="0.40"/><circle cx="339.7" cy="303.2" r="1.4" fill="#7a007a" opacity="0.52"/><circle cx="339.4" cy="277.2" r="1.6" fill="#7a007a" opacity="0.37"/><circle cx="374.5" cy="286.1" r="1.0" fill="#ff28ff" opacity="0.69"/><circle cx="352.8" cy="304.6" r="1.3" fill="#7a007a" opacity="0.50"/><circle cx="329.8" cy="305.5" r="2.6" fill="#ff28ff" opacity="0.53"/><circle cx="353.9" cy="287.5" r="1.6" fill="#ff28ff" opacity="0.56"/><circle cx="362.8" cy="330.8" r="2.1" fill="#7a007a" opacity="0.55"/><circle cx="350.2" cy="266.8" r="2.2" fill="#7a007a" opacity="0.28"/><circle cx="335.2" cy="299.3" r="2.5" fill="#7a007a" opacity="0.32"/><circle cx="349.4" cy="292.8" r="1.1" fill="#ff28ff" opacity="0.53"/><circle cx="354.5" cy="321.9" r="1.2" fill="#7a007a" opacity="0.50"/><circle cx="361.8" cy="315.8" r="2.3" fill="#7a007a" opacity="0.34"/><circle cx="344.4" cy="271.2" r="2.6" fill="#7a007a" opacity="0.39"/><circle cx="359.5" cy="262.9" r="1.6" fill="#ff28ff" opacity="0.42"/><circle cx="350.0" cy="326.9" r="2.1" fill="#7a007a" opacity="0.29"/><circle cx="348.9" cy="290.9" r="1.8" fill="#7a007a" opacity="0.25"/><circle cx="335.8" cy="308.2" r="2.5" fill="#ff28ff" opacity="0.58"/><circle cx="346.0" cy="292.5" r="2.1" fill="#ff28ff" opacity="0.59"/><circle cx="353.4" cy="272.0" r="1.3" fill="#ff28ff" opacity="0.54"/><circle cx="350.9" cy="314.2" r="1.2" fill="#7a007a" opacity="0.26"/><circle cx="381.9" cy="295.8" r="0.9" fill="#ff28ff" opacity="0.59"/><circle cx="332.5" cy="273.7" r="2.1" fill="#ff28ff" opacity="0.62"/><circle cx="360.6" cy="268.7" r="2.2" fill="#ff28ff" opacity="0.51"/><circle cx="355.4" cy="272.1" r="1.1" fill="#7a007a" opacity="0.28"/><circle cx="383.4" cy="312.5" r="1.7" fill="#7a007a" opacity="0.50"/><circle cx="332.2" cy="291.7" r="2.2" fill="#ff28ff" opacity="0.62"/><circle cx="373.7" cy="313.5" r="1.4" fill="#7a007a" opacity="0.39"/><circle cx="370.6" cy="274.5" r="2.6" fill="#7a007a" opacity="0.25"/><circle cx="342.1" cy="308.4" r="2.1" fill="#7a007a" opacity="0.25"/><circle cx="334.0" cy="282.7" r="1.6" fill="#7a007a" opacity="0.32"/><circle cx="370.0" cy="272.8" r="2.0" fill="#7a007a" opacity="0.23"/><circle cx="379.4" cy="327.2" r="2.5" fill="#7a007a" opacity="0.30"/><circle cx="343.0" cy="302.7" r="2.2" fill="#7a007a" opacity="0.36"/><circle cx="378.4" cy="317.2" r="2.4" fill="#7a007a" opacity="0.30"/><circle cx="364.1" cy="264.1" r="0.9" fill="#7a007a" opacity="0.25"/><circle cx="342.8" cy="269.8" r="1.5" fill="#7a007a" opacity="0.32"/><circle cx="347.7" cy="264.8" r="2.3" fill="#ff28ff" opacity="0.59"/><circle cx="354.6" cy="315.8" r="1.1" fill="#7a007a" opacity="0.34"/><circle cx="364.0" cy="289.0" r="2.1" fill="#7a007a" opacity="0.49"/><circle cx="375.8" cy="284.8" r="2.0" fill="#7a007a" opacity="0.20"/><circle cx="369.0" cy="322.9" r="1.4" fill="#7a007a" opacity="0.24"/><circle cx="338.1" cy="268.2" r="1.4" fill="#7a007a" opacity="0.31"/><circle cx="338.7" cy="301.5" r="1.0" fill="#7a007a" opacity="0.53"/><circle cx="341.5" cy="300.4" r="2.6" fill="#ff28ff" opacity="0.59"/><circle cx="360.6" cy="275.2" r="1.1" fill="#7a007a" opacity="0.22"/><circle cx="380.2" cy="312.1" r="1.3" fill="#ff28ff" opacity="0.33"/><circle cx="367.4" cy="264.8" r="1.9" fill="#7a007a" opacity="0.43"/><circle cx="336.5" cy="275.5" r="2.2" fill="#7a007a" opacity="0.49"/><circle cx="345.6" cy="263.8" r="1.3" fill="#ff28ff" opacity="0.37"/><circle cx="343.1" cy="262.7" r="2.2" fill="#7a007a" opacity="0.26"/><circle cx="358.9" cy="269.4" r="2.3" fill="#ff28ff" opacity="0.38"/><circle cx="390.3" cy="310.9" r="2.1" fill="#7a007a" opacity="0.20"/><circle cx="359.9" cy="282.4" r="1.0" fill="#ff28ff" opacity="0.33"/><circle cx="347.8" cy="288.9" r="2.0" fill="#ff28ff" opacity="0.53"/><circle cx="381.1" cy="295.4" r="2.2" fill="#7a007a" opacity="0.29"/><circle cx="372.7" cy="280.2" r="1.0" fill="#7a007a" opacity="0.48"/><circle cx="371.7" cy="269.2" r="1.6" fill="#ff28ff" opacity="0.68"/><circle cx="359.0" cy="315.8" r="1.9" fill="#ff28ff" opacity="0.55"/><circle cx="381.0" cy="316.1" r="2.3" fill="#7a007a" opacity="0.41"/><circle cx="362.7" cy="326.2" r="1.9" fill="#ff28ff" opacity="0.66"/><circle cx="350.0" cy="306.1" r="2.2" fill="#7a007a" opacity="0.33"/><circle cx="371.1" cy="319.3" r="2.0" fill="#ff28ff" opacity="0.47"/><circle cx="343.2" cy="280.0" r="1.9" fill="#ff28ff" opacity="0.65"/><circle cx="356.1" cy="288.9" r="1.4" fill="#7a007a" opacity="0.39"/><circle cx="326.3" cy="287.5" r="1.7" fill="#7a007a" opacity="0.32"/><circle cx="387.6" cy="288.6" r="1.8" fill="#7a007a" opacity="0.28"/><circle cx="367.7" cy="286.1" r="2.4" fill="#7a007a" opacity="0.32"/><circle cx="331.5" cy="269.4" r="1.5" fill="#ff28ff" opacity="0.65"/><circle cx="344.2" cy="326.1" r="2.2" fill="#ff28ff" opacity="0.64"/><circle cx="327.9" cy="275.7" r="1.9" fill="#ff28ff" opacity="0.59"/><circle cx="375.8" cy="316.3" r="2.0" fill="#7a007a" opacity="0.46"/><circle cx="339.3" cy="289.3" r="1.8" fill="#7a007a" opacity="0.29"/><circle cx="342.5" cy="280.4" r="2.1" fill="#ff28ff" opacity="0.68"/><circle cx="369.7" cy="295.5" r="2.1" fill="#7a007a" opacity="0.51"/><circle cx="348.7" cy="280.9" r="1.8" fill="#7a007a" opacity="0.41"/><circle cx="333.2" cy="303.2" r="2.6" fill="#ff28ff" opacity="0.40"/><circle cx="361.7" cy="288.6" r="1.0" fill="#ff28ff" opacity="0.56"/><circle cx="347.4" cy="328.2" r="1.5" fill="#ff28ff" opacity="0.50"/><circle cx="323.7" cy="298.6" r="2.4" fill="#7a007a" opacity="0.48"/><circle cx="324.7" cy="280.6" r="1.8" fill="#ff28ff" opacity="0.66"/><circle cx="379.1" cy="284.8" r="2.1" fill="#7a007a" opacity="0.51"/><circle cx="356.1" cy="305.7" r="2.5" fill="#7a007a" opacity="0.44"/><circle cx="347.5" cy="281.6" r="2.2" fill="#7a007a" opacity="0.24"/><circle cx="390.4" cy="305.8" r="1.8" fill="#7a007a" opacity="0.26"/><circle cx="341.2" cy="298.9" r="2.0" fill="#ff28ff" opacity="0.46"/><circle cx="325.8" cy="287.3" r="2.1" fill="#7a007a" opacity="0.48"/><circle cx="360.4" cy="311.8" r="1.4" fill="#ff28ff" opacity="0.44"/><circle cx="365.8" cy="322.3" r="2.3" fill="#ff28ff" opacity="0.67"/><circle cx="332.6" cy="270.1" r="2.1" fill="#ff28ff" opacity="0.35"/><circle cx="350.7" cy="323.3" r="2.2" fill="#ff28ff" opacity="0.46"/><circle cx="358.0" cy="282.9" r="2.4" fill="#ff28ff" opacity="0.36"/><circle cx="375.9" cy="289.1" r="2.5" fill="#7a007a" opacity="0.27"/><circle cx="371.8" cy="330.0" r="1.0" fill="#7a007a" opacity="0.40"/><circle cx="337.9" cy="290.6" r="1.3" fill="#ff28ff" opacity="0.61"/><circle cx="371.6" cy="324.2" r="1.1" fill="#7a007a" opacity="0.50"/><circle cx="338.1" cy="266.0" r="1.4" fill="#7a007a" opacity="0.54"/><circle cx="390.7" cy="286.5" r="1.4" fill="#ff28ff" opacity="0.65"/><circle cx="349.2" cy="327.7" r="2.1" fill="#ff28ff" opacity="0.54"/><circle cx="358.7" cy="304.6" r="2.4" fill="#7a007a" opacity="0.33"/><circle cx="363.2" cy="327.1" r="1.0" fill="#7a007a" opacity="0.38"/><circle cx="336.6" cy="292.6" r="2.2" fill="#7a007a" opacity="0.38"/><circle cx="394.3" cy="303.2" r="1.9" fill="#7a007a" opacity="0.39"/><circle cx="355.5" cy="294.7" r="1.4" fill="#ff28ff" opacity="0.69"/><circle cx="360.3" cy="274.4" r="1.8" fill="#ff28ff" opacity="0.41"/><circle cx="394.0" cy="302.2" r="2.1" fill="#7a007a" opacity="0.26"/><circle cx="381.6" cy="277.4" r="1.5" fill="#ff28ff" opacity="0.41"/><circle cx="351.1" cy="309.3" r="2.4" fill="#7a007a" opacity="0.33"/><circle cx="360.4" cy="308.6" r="1.3" fill="#ff28ff" opacity="0.53"/><circle cx="386.9" cy="305.4" r="1.2" fill="#ff28ff" opacity="0.34"/><circle cx="332.6" cy="316.8" r="1.0" fill="#ff28ff" opacity="0.31"/><circle cx="379.1" cy="319.2" r="2.2" fill="#ff28ff" opacity="0.38"/><circle cx="377.4" cy="323.0" r="1.4" fill="#ff28ff" opacity="0.31"/><circle cx="376.2" cy="305.0" r="0.9" fill="#7a007a" opacity="0.35"/><circle cx="383.5" cy="307.3" r="2.2" fill="#7a007a" opacity="0.40"/><circle cx="367.7" cy="301.2" r="1.4" fill="#7a007a" opacity="0.24"/><circle cx="376.2" cy="311.3" r="1.6" fill="#7a007a" opacity="0.45"/><circle cx="378.7" cy="283.4" r="2.4" fill="#7a007a" opacity="0.51"/><circle cx="356.9" cy="262.6" r="1.5" fill="#7a007a" opacity="0.51"/><circle cx="360.2" cy="276.1" r="1.6" fill="#7a007a" opacity="0.43"/><circle cx="341.2" cy="321.2" r="1.8" fill="#ff28ff" opacity="0.59"/><circle cx="353.2" cy="267.1" r="1.1" fill="#ff28ff" opacity="0.51"/><circle cx="379.3" cy="272.3" r="1.9" fill="#ff28ff" opacity="0.64"/><circle cx="345.7" cy="300.8" r="1.7" fill="#ff28ff" opacity="0.66"/><circle cx="346.9" cy="326.4" r="1.1" fill="#ff28ff" opacity="0.68"/><circle cx="353.4" cy="301.8" r="2.5" fill="#ff28ff" opacity="0.67"/><circle cx="377.9" cy="301.6" r="2.1" fill="#ff28ff" opacity="0.37"/><circle cx="369.5" cy="325.0" r="2.6" fill="#ff28ff" opacity="0.49"/><circle cx="386.9" cy="304.5" r="1.1" fill="#7a007a" opacity="0.33"/><circle cx="373.2" cy="320.0" r="2.4" fill="#7a007a" opacity="0.40"/><circle cx="376.6" cy="273.9" r="2.2" fill="#ff28ff" opacity="0.40"/><circle cx="323.4" cy="300.5" r="1.9" fill="#7a007a" opacity="0.21"/><circle cx="355.6" cy="294.3" r="2.5" fill="#ff28ff" opacity="0.65"/><circle cx="360.2" cy="305.3" r="1.4" fill="#7a007a" opacity="0.53"/><circle cx="349.0" cy="326.3" r="1.0" fill="#7a007a" opacity="0.43"/><circle cx="326.5" cy="300.9" r="1.9" fill="#ff28ff" opacity="0.51"/><circle cx="373.7" cy="308.9" r="1.9" fill="#7a007a" opacity="0.43"/><circle cx="362.6" cy="272.7" r="1.2" fill="#7a007a" opacity="0.49"/><circle cx="335.9" cy="312.7" r="2.2" fill="#ff28ff" opacity="0.69"/><circle cx="359.5" cy="310.2" r="1.0" fill="#7a007a" opacity="0.51"/><circle cx="340.8" cy="280.7" r="1.4" fill="#7a007a" opacity="0.40"/><circle cx="345.4" cy="271.4" r="1.0" fill="#7a007a" opacity="0.44"/><circle cx="378.3" cy="273.1" r="1.6" fill="#ff28ff" opacity="0.67"/><circle cx="363.7" cy="272.9" r="2.2" fill="#ff28ff" opacity="0.33"/><circle cx="375.4" cy="309.6" r="1.1" fill="#ff28ff" opacity="0.62"/><circle cx="324.2" cy="305.5" r="1.4" fill="#7a007a" opacity="0.25"/><circle cx="379.9" cy="323.7" r="0.9" fill="#7a007a" opacity="0.26"/><circle cx="369.8" cy="293.9" r="2.0" fill="#ff28ff" opacity="0.60"/><circle cx="344.8" cy="320.3" r="0.9" fill="#7a007a" opacity="0.32"/><circle cx="361.3" cy="284.5" r="2.3" fill="#7a007a" opacity="0.47"/><circle cx="338.1" cy="283.4" r="1.0" fill="#7a007a" opacity="0.21"/><circle cx="384.7" cy="290.0" r="1.5" fill="#7a007a" opacity="0.24"/><circle cx="354.8" cy="272.9" r="1.0" fill="#ff28ff" opacity="0.40"/><circle cx="359.4" cy="318.1" r="2.0" fill="#ff28ff" opacity="0.39"/><circle cx="377.4" cy="326.9" r="2.1" fill="#7a007a" opacity="0.24"/><circle cx="392.0" cy="304.8" r="1.9" fill="#7a007a" opacity="0.53"/><circle cx="341.6" cy="287.3" r="1.5" fill="#ff28ff" opacity="0.34"/><circle cx="385.8" cy="307.3" r="2.0" fill="#ff28ff" opacity="0.60"/><circle cx="325.2" cy="287.3" r="1.0" fill="#ff28ff" opacity="0.51"/><circle cx="362.4" cy="313.8" r="2.0" fill="#7a007a" opacity="0.51"/><circle cx="390.0" cy="292.0" r="2.4" fill="#7a007a" opacity="0.34"/><circle cx="373.0" cy="269.9" r="2.6" fill="#ff28ff" opacity="0.64"/><circle cx="355.0" cy="281.8" r="1.3" fill="#7a007a" opacity="0.47"/><circle cx="328.1" cy="272.7" r="1.5" fill="#7a007a" opacity="0.42"/><circle cx="370.3" cy="281.0" r="1.3" fill="#7a007a" opacity="0.37"/><circle cx="339.3" cy="263.1" r="1.9" fill="#7a007a" opacity="0.30"/><circle cx="361.2" cy="270.1" r="1.5" fill="#ff28ff" opacity="0.45"/><circle cx="332.6" cy="309.1" r="2.4" fill="#ff28ff" opacity="0.37"/><circle cx="387.4" cy="317.0" r="2.4" fill="#7a007a" opacity="0.51"/><circle cx="327.6" cy="286.2" r="1.5" fill="#7a007a" opacity="0.37"/><circle cx="357.0" cy="264.8" r="1.8" fill="#7a007a" opacity="0.34"/><circle cx="356.9" cy="329.8" r="2.4" fill="#7a007a" opacity="0.22"/><circle cx="334.5" cy="277.3" r="1.7" fill="#7a007a" opacity="0.32"/><circle cx="324.4" cy="296.7" r="1.7" fill="#7a007a" opacity="0.41"/><circle cx="348.6" cy="260.8" r="1.6" fill="#7a007a" opacity="0.38"/><circle cx="358.8" cy="281.3" r="1.1" fill="#7a007a" opacity="0.36"/><circle cx="368.0" cy="263.8" r="1.4" fill="#ff28ff" opacity="0.33"/><circle cx="373.5" cy="294.0" r="1.3" fill="#7a007a" opacity="0.42"/><circle cx="368.9" cy="311.0" r="1.0" fill="#ff28ff" opacity="0.61"/><circle cx="370.5" cy="267.1" r="1.5" fill="#7a007a" opacity="0.51"/><circle cx="385.2" cy="308.5" r="2.0" fill="#ff28ff" opacity="0.31"/><circle cx="354.8" cy="313.9" r="1.7" fill="#ff28ff" opacity="0.41"/><circle cx="343.1" cy="281.1" r="1.2" fill="#7a007a" opacity="0.21"/><circle cx="332.6" cy="284.8" r="1.7" fill="#7a007a" opacity="0.33"/><circle cx="384.8" cy="315.4" r="2.0" fill="#7a007a" opacity="0.52"/><circle cx="334.6" cy="293.6" r="1.4" fill="#ff28ff" opacity="0.41"/><circle cx="351.4" cy="312.7" r="1.9" fill="#ff28ff" opacity="0.40"/><circle cx="381.7" cy="304.5" r="1.7" fill="#7a007a" opacity="0.34"/><circle cx="339.8" cy="301.0" r="1.4" fill="#7a007a" opacity="0.52"/><circle cx="344.4" cy="316.3" r="1.2" fill="#7a007a" opacity="0.23"/><circle cx="382.3" cy="319.2" r="1.3" fill="#7a007a" opacity="0.28"/><circle cx="331.5" cy="315.6" r="2.5" fill="#ff28ff" opacity="0.34"/><circle cx="353.1" cy="321.6" r="2.5" fill="#ff28ff" opacity="0.33"/><circle cx="377.3" cy="270.0" r="1.1" fill="#7a007a" opacity="0.33"/><circle cx="342.8" cy="309.1" r="2.1" fill="#7a007a" opacity="0.36"/><circle cx="358.0" cy="298.4" r="2.1" fill="#7a007a" opacity="0.38"/><circle cx="362.4" cy="290.9" r="1.9" fill="#7a007a" opacity="0.33"/><circle cx="368.9" cy="289.0" r="2.5" fill="#7a007a" opacity="0.49"/><circle cx="371.9" cy="273.0" r="1.5" fill="#ff28ff" opacity="0.48"/><circle cx="345.8" cy="316.9" r="2.5" fill="#ff28ff" opacity="0.49"/><circle cx="393.8" cy="299.4" r="1.6" fill="#7a007a" opacity="0.46"/><circle cx="348.2" cy="312.7" r="1.5" fill="#7a007a" opacity="0.33"/><circle cx="358.8" cy="326.8" r="1.9" fill="#ff28ff" opacity="0.49"/><circle cx="354.5" cy="282.6" r="1.8" fill="#7a007a" opacity="0.47"/><circle cx="343.9" cy="320.9" r="2.1" fill="#ff28ff" opacity="0.61"/><circle cx="349.9" cy="265.4" r="2.0" fill="#7a007a" opacity="0.39"/><circle cx="335.5" cy="275.9" r="1.9" fill="#ff28ff" opacity="0.45"/><circle cx="384.6" cy="307.9" r="1.2" fill="#7a007a" opacity="0.36"/><circle cx="370.6" cy="317.3" r="1.0" fill="#ff28ff" opacity="0.54"/><circle cx="351.3" cy="300.9" r="0.9" fill="#ff28ff" opacity="0.63"/><circle cx="326.5" cy="275.9" r="1.2" fill="#7a007a" opacity="0.52"/><circle cx="379.7" cy="274.9" r="0.9" fill="#7a007a" opacity="0.23"/><circle cx="335.1" cy="293.6" r="1.0" fill="#7a007a" opacity="0.30"/><circle cx="376.8" cy="326.0" r="1.5" fill="#ff28ff" opacity="0.41"/><circle cx="345.0" cy="296.1" r="1.1" fill="#ff28ff" opacity="0.70"/><circle cx="381.2" cy="316.1" r="2.3" fill="#7a007a" opacity="0.30"/><circle cx="325.5" cy="293.8" r="1.0" fill="#7a007a" opacity="0.48"/><circle cx="354.4" cy="293.5" r="2.3" fill="#ff28ff" opacity="0.63"/><circle cx="355.9" cy="290.8" r="0.9" fill="#ff28ff" opacity="0.39"/><circle cx="383.8" cy="292.6" r="2.2" fill="#7a007a" opacity="0.38"/><circle cx="359.0" cy="272.9" r="2.1" fill="#7a007a" opacity="0.27"/><circle cx="355.2" cy="283.1" r="2.1" fill="#ff28ff" opacity="0.58"/><circle cx="381.2" cy="287.7" r="1.8" fill="#7a007a" opacity="0.47"/><circle cx="344.0" cy="279.5" r="1.5" fill="#7a007a" opacity="0.26"/><circle cx="367.8" cy="275.6" r="1.0" fill="#7a007a" opacity="0.47"/><circle cx="374.6" cy="325.6" r="2.1" fill="#7a007a" opacity="0.31"/><circle cx="325.7" cy="308.7" r="2.0" fill="#7a007a" opacity="0.22"/><circle cx="381.1" cy="297.1" r="1.7" fill="#ff28ff" opacity="0.68"/><circle cx="351.8" cy="312.4" r="1.8" fill="#ff28ff" opacity="0.59"/><circle cx="370.0" cy="324.2" r="2.0" fill="#7a007a" opacity="0.38"/><circle cx="331.0" cy="311.8" r="2.1" fill="#ff28ff" opacity="0.31"/><circle cx="389.1" cy="309.6" r="1.8" fill="#ff28ff" opacity="0.43"/><circle cx="382.2" cy="304.3" r="1.6" fill="#7a007a" opacity="0.34"/><circle cx="381.3" cy="312.6" r="1.5" fill="#ff28ff" opacity="0.48"/><circle cx="361.9" cy="263.3" r="2.5" fill="#ff28ff" opacity="0.59"/><circle cx="349.4" cy="274.1" r="1.2" fill="#ff28ff" opacity="0.60"/><circle cx="349.9" cy="272.1" r="2.2" fill="#ff28ff" opacity="0.67"/><circle cx="357.3" cy="325.4" r="1.8" fill="#ff28ff" opacity="0.31"/><circle cx="359.0" cy="321.1" r="2.1" fill="#ff28ff" opacity="0.55"/><circle cx="343.8" cy="314.4" r="2.3" fill="#ff28ff" opacity="0.56"/><circle cx="337.6" cy="283.5" r="2.2" fill="#7a007a" opacity="0.21"/><circle cx="337.3" cy="281.4" r="2.4" fill="#ff28ff" opacity="0.42"/><circle cx="367.0" cy="287.6" r="1.4" fill="#ff28ff" opacity="0.31"/><circle cx="371.4" cy="316.5" r="2.2" fill="#7a007a" opacity="0.52"/><circle cx="382.1" cy="307.5" r="1.0" fill="#ff28ff" opacity="0.37"/><circle cx="331.4" cy="280.5" r="1.8" fill="#7a007a" opacity="0.35"/><circle cx="343.3" cy="275.2" r="2.1" fill="#ff28ff" opacity="0.32"/><circle cx="344.3" cy="318.0" r="2.4" fill="#ff28ff" opacity="0.65"/><circle cx="361.2" cy="328.9" r="2.2" fill="#ff28ff" opacity="0.69"/><circle cx="391.9" cy="293.6" r="1.7" fill="#ff28ff" opacity="0.63"/><circle cx="375.4" cy="284.9" r="1.0" fill="#7a007a" opacity="0.51"/><circle cx="348.1" cy="305.2" r="1.7" fill="#7a007a" opacity="0.50"/><circle cx="368.6" cy="280.9" r="1.7" fill="#7a007a" opacity="0.42"/><circle cx="387.4" cy="302.1" r="1.4" fill="#7a007a" opacity="0.49"/><circle cx="376.2" cy="284.2" r="2.5" fill="#7a007a" opacity="0.55"/><circle cx="335.8" cy="299.4" r="2.5" fill="#ff28ff" opacity="0.65"/><circle cx="369.8" cy="301.5" r="1.7" fill="#7a007a" opacity="0.21"/><circle cx="334.0" cy="279.3" r="1.8" fill="#ff28ff" opacity="0.34"/><circle cx="380.3" cy="304.3" r="1.0" fill="#7a007a" opacity="0.53"/><circle cx="376.1" cy="268.6" r="2.0" fill="#7a007a" opacity="0.35"/><circle cx="357.3" cy="316.2" r="0.9" fill="#ff28ff" opacity="0.54"/><circle cx="348.7" cy="322.5" r="2.4" fill="#7a007a" opacity="0.21"/><circle cx="369.3" cy="326.3" r="1.1" fill="#7a007a" opacity="0.22"/><circle cx="324.2" cy="296.4" r="2.4" fill="#ff28ff" opacity="0.59"/><circle cx="374.2" cy="273.2" r="1.7" fill="#7a007a" opacity="0.27"/><circle cx="331.6" cy="291.1" r="1.0" fill="#7a007a" opacity="0.44"/><circle cx="365.9" cy="274.7" r="1.3" fill="#ff28ff" opacity="0.32"/><circle cx="378.8" cy="320.2" r="2.4" fill="#7a007a" opacity="0.47"/><circle cx="360.9" cy="274.6" r="2.3" fill="#7a007a" opacity="0.26"/><circle cx="355.1" cy="303.5" r="1.3" fill="#ff28ff" opacity="0.47"/><circle cx="358.8" cy="295.1" r="0.9" fill="#ff28ff" opacity="0.65"/><circle cx="388.2" cy="300.7" r="1.6" fill="#7a007a" opacity="0.26"/><circle cx="336.5" cy="299.4" r="1.6" fill="#ff28ff" opacity="0.70"/><circle cx="347.1" cy="290.9" r="1.4" fill="#ff28ff" opacity="0.48"/><circle cx="330.8" cy="303.2" r="1.1" fill="#7a007a" opacity="0.35"/><circle cx="383.8" cy="317.5" r="1.9" fill="#7a007a" opacity="0.30"/><circle cx="359.4" cy="293.7" r="1.8" fill="#7a007a" opacity="0.28"/><circle cx="346.7" cy="286.7" r="1.0" fill="#7a007a" opacity="0.46"/><circle cx="345.5" cy="312.4" r="2.3" fill="#ff28ff" opacity="0.49"/><circle cx="383.4" cy="299.8" r="1.0" fill="#ff28ff" opacity="0.49"/><circle cx="358.7" cy="313.0" r="2.1" fill="#ff28ff" opacity="0.55"/><circle cx="331.9" cy="308.2" r="2.2" fill="#7a007a" opacity="0.44"/><circle cx="367.6" cy="310.2" r="1.6" fill="#7a007a" opacity="0.40"/><circle cx="336.7" cy="320.1" r="1.2" fill="#7a007a" opacity="0.43"/><circle cx="341.7" cy="266.9" r="2.4" fill="#ff28ff" opacity="0.55"/><circle cx="381.3" cy="291.3" r="1.4" fill="#7a007a" opacity="0.21"/><circle cx="361.7" cy="319.3" r="1.5" fill="#ff28ff" opacity="0.35"/><circle cx="339.3" cy="304.8" r="1.9" fill="#ff28ff" opacity="0.31"/><circle cx="381.6" cy="306.3" r="0.9" fill="#ff28ff" opacity="0.42"/><circle cx="357.6" cy="331.1" r="1.5" fill="#7a007a" opacity="0.27"/><circle cx="343.6" cy="273.5" r="1.6" fill="#7a007a" opacity="0.54"/><circle cx="330.9" cy="300.1" r="2.6" fill="#ff28ff" opacity="0.36"/><circle cx="357.8" cy="314.4" r="1.6" fill="#ff28ff" opacity="0.58"/><circle cx="333.6" cy="266.1" r="1.4" fill="#7a007a" opacity="0.26"/><circle cx="323.0" cy="282.2" r="2.1" fill="#7a007a" opacity="0.36"/><circle cx="328.1" cy="271.8" r="1.5" fill="#ff28ff" opacity="0.38"/><circle cx="344.7" cy="288.7" r="1.7" fill="#7a007a" opacity="0.21"/><circle cx="371.2" cy="328.0" r="1.2" fill="#ff28ff" opacity="0.62"/><circle cx="367.6" cy="308.4" r="1.7" fill="#ff28ff" opacity="0.66"/><circle cx="379.5" cy="299.8" r="2.4" fill="#7a007a" opacity="0.35"/><circle cx="370.2" cy="296.9" r="1.2" fill="#7a007a" opacity="0.48"/><circle cx="359.3" cy="295.7" r="2.1" fill="#7a007a" opacity="0.43"/><circle cx="358.0" cy="329.8" r="2.1" fill="#ff28ff" opacity="0.64"/><circle cx="347.5" cy="312.4" r="1.2" fill="#7a007a" opacity="0.43"/><circle cx="345.4" cy="294.4" r="1.9" fill="#ff28ff" opacity="0.36"/><circle cx="370.5" cy="305.2" r="0.9" fill="#7a007a" opacity="0.31"/><circle cx="368.8" cy="300.8" r="2.3" fill="#7a007a" opacity="0.40"/><circle cx="361.5" cy="332.2" r="2.4" fill="#ff28ff" opacity="0.50"/><circle cx="352.5" cy="262.6" r="1.6" fill="#7a007a" opacity="0.38"/><circle cx="364.8" cy="266.7" r="1.5" fill="#ff28ff" opacity="0.54"/><circle cx="353.1" cy="326.6" r="2.3" fill="#7a007a" opacity="0.36"/><circle cx="383.4" cy="279.9" r="1.0" fill="#7a007a" opacity="0.47"/><circle cx="335.6" cy="296.6" r="1.8" fill="#7a007a" opacity="0.47"/><circle cx="372.6" cy="307.8" r="1.4" fill="#ff28ff" opacity="0.43"/><circle cx="371.9" cy="311.8" r="2.5" fill="#7a007a" opacity="0.49"/><circle cx="381.7" cy="279.6" r="1.9" fill="#ff28ff" opacity="0.59"/><circle cx="384.7" cy="324.6" r="1.3" fill="#7a007a" opacity="0.36"/><circle cx="380.1" cy="326.7" r="1.3" fill="#ff28ff" opacity="0.65"/><circle cx="326.1" cy="279.3" r="2.3" fill="#ff28ff" opacity="0.68"/><circle cx="369.0" cy="316.6" r="2.0" fill="#ff28ff" opacity="0.40"/><circle cx="337.0" cy="276.8" r="1.0" fill="#7a007a" opacity="0.55"/><circle cx="324.8" cy="286.7" r="2.0" fill="#ff28ff" opacity="0.38"/><circle cx="351.6" cy="293.6" r="1.4" fill="#7a007a" opacity="0.33"/><circle cx="369.6" cy="294.5" r="1.8" fill="#7a007a" opacity="0.29"/><circle cx="359.6" cy="265.6" r="1.4" fill="#ff28ff" opacity="0.67"/><circle cx="388.3" cy="293.6" r="2.5" fill="#7a007a" opacity="0.23"/><circle cx="345.0" cy="283.4" r="1.1" fill="#7a007a" opacity="0.24"/><circle cx="393.7" cy="295.9" r="1.4" fill="#7a007a" opacity="0.40"/><circle cx="333.5" cy="317.6" r="1.4" fill="#7a007a" opacity="0.53"/><circle cx="354.6" cy="285.6" r="2.2" fill="#ff28ff" opacity="0.58"/><circle cx="356.5" cy="330.4" r="1.2" fill="#ff28ff" opacity="0.57"/><circle cx="333.3" cy="271.1" r="1.2" fill="#7a007a" opacity="0.45"/><circle cx="373.9" cy="302.9" r="1.6" fill="#7a007a" opacity="0.22"/><circle cx="359.1" cy="309.0" r="2.2" fill="#7a007a" opacity="0.24"/><circle cx="341.8" cy="264.1" r="1.2" fill="#7a007a" opacity="0.43"/><circle cx="326.7" cy="278.4" r="2.4" fill="#ff28ff" opacity="0.51"/><circle cx="346.6" cy="312.8" r="1.8" fill="#7a007a" opacity="0.40"/><circle cx="337.0" cy="272.8" r="1.1" fill="#7a007a" opacity="0.46"/><circle cx="392.7" cy="310.0" r="1.6" fill="#ff28ff" opacity="0.31"/><circle cx="365.3" cy="311.8" r="1.6" fill="#ff28ff" opacity="0.66"/><circle cx="359.1" cy="290.2" r="2.4" fill="#7a007a" opacity="0.21"/><circle cx="324.1" cy="290.2" r="1.8" fill="#7a007a" opacity="0.33"/><circle cx="347.8" cy="266.7" r="2.5" fill="#7a007a" opacity="0.39"/><circle cx="332.4" cy="268.1" r="1.1" fill="#ff28ff" opacity="0.35"/><circle cx="343.5" cy="301.4" r="1.1" fill="#7a007a" opacity="0.36"/><circle cx="377.0" cy="314.2" r="1.3" fill="#7a007a" opacity="0.52"/><circle cx="347.2" cy="317.9" r="2.3" fill="#7a007a" opacity="0.35"/><circle cx="339.7" cy="317.9" r="2.2" fill="#7a007a" opacity="0.23"/><circle cx="379.2" cy="291.8" r="2.1" fill="#7a007a" opacity="0.35"/><circle cx="359.0" cy="330.3" r="1.9" fill="#7a007a" opacity="0.55"/><circle cx="375.9" cy="315.4" r="2.3" fill="#ff28ff" opacity="0.41"/><circle cx="359.6" cy="315.8" r="1.2" fill="#7a007a" opacity="0.28"/><circle cx="335.9" cy="276.7" r="1.7" fill="#7a007a" opacity="0.36"/><circle cx="373.3" cy="308.9" r="1.1" fill="#7a007a" opacity="0.39"/><circle cx="341.9" cy="285.1" r="1.3" fill="#ff28ff" opacity="0.43"/><circle cx="322.9" cy="289.3" r="2.3" fill="#7a007a" opacity="0.23"/><circle cx="340.0" cy="306.3" r="1.6" fill="#ff28ff" opacity="0.40"/><circle cx="362.8" cy="291.8" r="1.0" fill="#7a007a" opacity="0.51"/><circle cx="353.2" cy="308.8" r="0.9" fill="#7a007a" opacity="0.54"/><circle cx="374.7" cy="319.2" r="2.2" fill="#7a007a" opacity="0.48"/><circle cx="338.2" cy="273.7" r="2.5" fill="#7a007a" opacity="0.26"/><circle cx="383.1" cy="288.5" r="2.3" fill="#7a007a" opacity="0.35"/><circle cx="333.7" cy="266.6" r="1.8" fill="#7a007a" opacity="0.28"/><circle cx="389.0" cy="308.7" r="1.3" fill="#7a007a" opacity="0.48"/><circle cx="327.0" cy="273.7" r="1.2" fill="#ff28ff" opacity="0.33"/><circle cx="343.3" cy="303.2" r="2.3" fill="#ff28ff" opacity="0.52"/><circle cx="391.0" cy="291.4" r="2.5" fill="#ff28ff" opacity="0.64"/><circle cx="360.5" cy="280.9" r="1.2" fill="#ff28ff" opacity="0.35"/><circle cx="347.0" cy="300.7" r="2.6" fill="#ff28ff" opacity="0.56"/><circle cx="352.7" cy="303.8" r="1.0" fill="#7a007a" opacity="0.24"/><circle cx="367.8" cy="291.7" r="1.5" fill="#7a007a" opacity="0.45"/><circle cx="386.2" cy="299.4" r="1.8" fill="#7a007a" opacity="0.49"/><circle cx="344.4" cy="310.5" r="2.1" fill="#ff28ff" opacity="0.58"/><circle cx="354.6" cy="262.9" r="1.5" fill="#ff28ff" opacity="0.63"/><circle cx="375.9" cy="276.5" r="1.5" fill="#7a007a" opacity="0.39"/><circle cx="346.0" cy="288.8" r="1.6" fill="#ff28ff" opacity="0.66"/><circle cx="386.0" cy="280.4" r="2.3" fill="#7a007a" opacity="0.37"/><circle cx="374.7" cy="315.0" r="1.2" fill="#7a007a" opacity="0.27"/><circle cx="330.0" cy="283.1" r="1.6" fill="#ff28ff" opacity="0.42"/><circle cx="331.8" cy="268.3" r="2.0" fill="#ff28ff" opacity="0.44"/><circle cx="352.2" cy="268.2" r="2.2" fill="#7a007a" opacity="0.24"/><circle cx="340.6" cy="296.8" r="2.6" fill="#ff28ff" opacity="0.69"/><circle cx="349.8" cy="270.9" r="2.2" fill="#ff28ff" opacity="0.35"/><circle cx="344.4" cy="266.1" r="1.0" fill="#ff28ff" opacity="0.38"/><circle cx="364.0" cy="301.8" r="1.3" fill="#7a007a" opacity="0.45"/><circle cx="355.8" cy="317.8" r="2.4" fill="#7a007a" opacity="0.40"/><circle cx="359.2" cy="324.0" r="1.1" fill="#7a007a" opacity="0.28"/><circle cx="337.3" cy="282.6" r="1.6" fill="#ff28ff" opacity="0.47"/><circle cx="345.3" cy="275.2" r="2.0" fill="#7a007a" opacity="0.39"/><circle cx="343.1" cy="293.6" r="2.1" fill="#7a007a" opacity="0.20"/><circle cx="370.4" cy="293.0" r="1.9" fill="#7a007a" opacity="0.41"/><circle cx="386.7" cy="280.9" r="2.4" fill="#ff28ff" opacity="0.33"/><circle cx="354.6" cy="329.5" r="1.5" fill="#7a007a" opacity="0.45"/><circle cx="327.6" cy="298.2" r="1.1" fill="#7a007a" opacity="0.39"/><circle cx="336.8" cy="287.0" r="2.3" fill="#ff28ff" opacity="0.52"/><circle cx="340.8" cy="316.9" r="2.0" fill="#ff28ff" opacity="0.64"/><circle cx="368.8" cy="267.0" r="2.0" fill="#7a007a" opacity="0.26"/><circle cx="360.4" cy="284.9" r="1.3" fill="#7a007a" opacity="0.45"/><circle cx="348.6" cy="327.0" r="1.4" fill="#7a007a" opacity="0.21"/><circle cx="361.5" cy="320.1" r="1.8" fill="#7a007a" opacity="0.26"/><circle cx="358.1" cy="312.2" r="2.2" fill="#ff28ff" opacity="0.65"/><circle cx="342.1" cy="298.7" r="2.1" fill="#ff28ff" opacity="0.34"/><circle cx="340.8" cy="280.1" r="1.2" fill="#ff28ff" opacity="0.62"/><circle cx="371.1" cy="315.4" r="1.4" fill="#7a007a" opacity="0.50"/><circle cx="357.5" cy="300.0" r="1.2" fill="#7a007a" opacity="0.53"/><circle cx="326.1" cy="306.0" r="1.9" fill="#ff28ff" opacity="0.50"/><circle cx="367.0" cy="274.4" r="1.0" fill="#ff28ff" opacity="0.48"/><circle cx="338.1" cy="270.6" r="1.4" fill="#ff28ff" opacity="0.54"/><circle cx="330.0" cy="285.8" r="2.4" fill="#7a007a" opacity="0.45"/><circle cx="371.0" cy="280.1" r="2.1" fill="#7a007a" opacity="0.27"/><circle cx="393.1" cy="304.2" r="2.6" fill="#7a007a" opacity="0.20"/><circle cx="324.5" cy="278.9" r="1.4" fill="#ff28ff" opacity="0.56"/><circle cx="356.8" cy="304.1" r="2.4" fill="#7a007a" opacity="0.39"/><circle cx="348.6" cy="320.5" r="2.3" fill="#ff28ff" opacity="0.39"/><circle cx="358.8" cy="266.7" r="1.4" fill="#7a007a" opacity="0.23"/><circle cx="353.4" cy="319.3" r="1.7" fill="#7a007a" opacity="0.37"/><circle cx="367.4" cy="317.3" r="2.3" fill="#ff28ff" opacity="0.46"/><circle cx="332.2" cy="295.7" r="2.5" fill="#ff28ff" opacity="0.36"/><circle cx="378.1" cy="290.0" r="1.2" fill="#ff28ff" opacity="0.38"/><circle cx="392.0" cy="308.3" r="1.3" fill="#7a007a" opacity="0.52"/><circle cx="340.0" cy="283.9" r="1.1" fill="#7a007a" opacity="0.41"/><circle cx="384.0" cy="281.3" r="2.3" fill="#ff28ff" opacity="0.42"/><circle cx="362.0" cy="301.1" r="2.4" fill="#ff28ff" opacity="0.37"/><circle cx="355.5" cy="322.8" r="2.1" fill="#7a007a" opacity="0.50"/><circle cx="331.9" cy="269.8" r="2.4" fill="#7a007a" opacity="0.43"/><circle cx="353.0" cy="278.2" r="1.1" fill="#ff28ff" opacity="0.64"/><circle cx="332.3" cy="302.9" r="1.2" fill="#ff28ff" opacity="0.49"/><circle cx="386.2" cy="291.5" r="2.4" fill="#ff28ff" opacity="0.34"/><circle cx="353.1" cy="324.0" r="2.6" fill="#ff28ff" opacity="0.54"/><circle cx="346.4" cy="264.3" r="2.3" fill="#ff28ff" opacity="0.36"/><circle cx="343.3" cy="276.2" r="2.3" fill="#ff28ff" opacity="0.32"/><circle cx="363.5" cy="327.8" r="1.2" fill="#7a007a" opacity="0.29"/><circle cx="383.3" cy="277.0" r="1.2" fill="#7a007a" opacity="0.52"/><circle cx="337.0" cy="275.4" r="2.4" fill="#7a007a" opacity="0.46"/><circle cx="377.0" cy="292.2" r="1.7" fill="#7a007a" opacity="0.28"/><circle cx="346.7" cy="281.1" r="1.6" fill="#ff28ff" opacity="0.51"/><circle cx="337.0" cy="289.4" r="2.0" fill="#ff28ff" opacity="0.60"/><circle cx="371.4" cy="302.8" r="1.8" fill="#ff28ff" opacity="0.41"/><circle cx="329.0" cy="310.8" r="2.4" fill="#7a007a" opacity="0.20"/><circle cx="339.7" cy="295.1" r="1.2" fill="#7a007a" opacity="0.49"/><circle cx="386.5" cy="290.7" r="2.0" fill="#ff28ff" opacity="0.36"/><circle cx="342.5" cy="286.6" r="2.1" fill="#7a007a" opacity="0.28"/><circle cx="342.4" cy="319.6" r="2.1" fill="#7a007a" opacity="0.23"/><circle cx="342.7" cy="318.3" r="2.5" fill="#ff28ff" opacity="0.55"/><circle cx="368.4" cy="315.2" r="2.4" fill="#7a007a" opacity="0.36"/><circle cx="357.0" cy="291.5" r="1.1" fill="#ff28ff" opacity="0.45"/><circle cx="335.2" cy="294.4" r="2.1" fill="#7a007a" opacity="0.38"/><circle cx="362.3" cy="322.7" r="1.9" fill="#ff28ff" opacity="0.41"/><circle cx="349.6" cy="304.8" r="1.5" fill="#ff28ff" opacity="0.37"/><circle cx="331.3" cy="277.8" r="2.3" fill="#7a007a" opacity="0.21"/><circle cx="326.2" cy="305.1" r="2.0" fill="#ff28ff" opacity="0.66"/><circle cx="353.4" cy="317.0" r="1.1" fill="#ff28ff" opacity="0.46"/><circle cx="358.5" cy="321.4" r="2.3" fill="#7a007a" opacity="0.48"/><circle cx="358.3" cy="307.1" r="2.3" fill="#7a007a" opacity="0.41"/><circle cx="325.4" cy="279.2" r="2.5" fill="#7a007a" opacity="0.41"/><circle cx="361.3" cy="308.5" r="1.4" fill="#7a007a" opacity="0.24"/><circle cx="352.5" cy="301.8" r="1.3" fill="#ff28ff" opacity="0.65"/><circle cx="371.5" cy="279.2" r="1.9" fill="#7a007a" opacity="0.36"/><circle cx="344.7" cy="300.0" r="2.0" fill="#7a007a" opacity="0.23"/><circle cx="359.2" cy="283.2" r="1.5" fill="#7a007a" opacity="0.49"/><circle cx="342.1" cy="280.6" r="1.3" fill="#ff28ff" opacity="0.51"/><circle cx="365.2" cy="303.9" r="1.3" fill="#7a007a" opacity="0.36"/><circle cx="361.6" cy="266.2" r="2.3" fill="#7a007a" opacity="0.29"/><circle cx="373.5" cy="284.8" r="2.1" fill="#ff28ff" opacity="0.46"/><circle cx="333.2" cy="308.1" r="1.4" fill="#ff28ff" opacity="0.37"/><circle cx="368.8" cy="298.3" r="1.6" fill="#ff28ff" opacity="0.68"/><circle cx="349.8" cy="310.8" r="1.2" fill="#ff28ff" opacity="0.52"/><circle cx="370.0" cy="288.0" r="1.6" fill="#7a007a" opacity="0.25"/><circle cx="358.9" cy="283.0" r="1.8" fill="#7a007a" opacity="0.23"/><circle cx="362.4" cy="269.8" r="1.5" fill="#ff28ff" opacity="0.66"/><circle cx="354.9" cy="282.6" r="1.9" fill="#ff28ff" opacity="0.66"/><circle cx="334.0" cy="299.7" r="1.2" fill="#7a007a" opacity="0.51"/><circle cx="360.3" cy="294.3" r="2.4" fill="#7a007a" opacity="0.25"/><circle cx="341.9" cy="262.6" r="1.3" fill="#ff28ff" opacity="0.68"/><circle cx="336.7" cy="293.3" r="1.6" fill="#ff28ff" opacity="0.61"/></g></g>
<ellipse cx="383" cy="300" rx="8" ry="20" fill="#8a108a" opacity="0.3" filter="url(#blur30)"/>
<g filter="url(#blur06)"><path d="M346.5,276.5 A4.3,4.3 0 1 1 345.8,268.6" stroke="#f6e6f6" stroke-width="2.0" fill="none"/><circle cx="342" cy="272" r="1.6" fill="#e8c8e8" opacity="0.8"/><circle cx="351.5" cy="287.3" r="2.3" fill="#d8f0e8" opacity="0.9"/><circle cx="325.5" cy="291.5" r="2.4" fill="#e0b8e8" opacity="0.55"/><circle cx="398.8" cy="305.5" r="2.8" fill="#c8c0e8" opacity="0.85"/><circle cx="398.8" cy="305.5" r="1.3" fill="#f0f0ff"/><circle cx="335" cy="263" r="1.0" fill="#f0e0f0"/><circle cx="352" cy="319" r="0.9" fill="#f0e0f0"/><circle cx="381.3" cy="325.3" r="1.0" fill="#f0e0f0"/><circle cx="373" cy="309" r="0.7" fill="#f0e0f0"/></g>
<line x1="364.60" y1="298.30" x2="364.60" y2="294.00" stroke="#fff" stroke-width="1.6" stroke-linecap="round"/><line x1="364.60" y1="298.30" x2="368.69" y2="296.97" stroke="#fff" stroke-width="1.6" stroke-linecap="round"/><line x1="364.60" y1="298.30" x2="367.13" y2="301.78" stroke="#fff" stroke-width="1.6" stroke-linecap="round"/><line x1="364.60" y1="298.30" x2="362.07" y2="301.78" stroke="#fff" stroke-width="1.6" stroke-linecap="round"/><line x1="364.60" y1="298.30" x2="360.51" y2="296.97" stroke="#fff" stroke-width="1.6" stroke-linecap="round"/>
<polygon points="396.1,282.6 410.5,284.1 402.4,295.3" fill="#fff"/>
<rect x="382.8" y="347.4" width="31.2" height="2.1" fill="#fff"/>
<clipPath id="sclip"><rect x="422.1" y="239.0" width="57.2" height="115.5"/></clipPath><g clip-path="url(#sclip)">
<rect x="422.1" y="239.0" width="57.2" height="56.4" fill="#060606"/>
<rect x="422.1" y="294.8" width="57.2" height="59.7" fill="#050505"/>
<g filter="url(#blur06)"><circle cx="445.2" cy="252.5" r="1.3" fill="#888" opacity="0.14"/><circle cx="446.1" cy="276.3" r="0.7" fill="#888" opacity="0.14"/><circle cx="434.3" cy="242.3" r="1.3" fill="#888" opacity="0.06"/><circle cx="470.3" cy="281.8" r="1.3" fill="#888" opacity="0.18"/><circle cx="455.7" cy="288.5" r="1.2" fill="#888" opacity="0.08"/><circle cx="444.9" cy="289.1" r="1.2" fill="#888" opacity="0.12"/><circle cx="431.3" cy="244.0" r="1.8" fill="#888" opacity="0.21"/><circle cx="460.1" cy="257.8" r="1.1" fill="#888" opacity="0.09"/><circle cx="438.7" cy="277.2" r="0.7" fill="#888" opacity="0.15"/><circle cx="451.1" cy="241.1" r="0.9" fill="#888" opacity="0.20"/><circle cx="476.0" cy="253.6" r="0.9" fill="#888" opacity="0.14"/><circle cx="452.1" cy="264.2" r="1.2" fill="#888" opacity="0.16"/><circle cx="474.7" cy="277.6" r="0.8" fill="#888" opacity="0.07"/><circle cx="464.6" cy="276.9" r="1.4" fill="#888" opacity="0.09"/><circle cx="434.1" cy="276.4" r="0.8" fill="#888" opacity="0.12"/><circle cx="463.7" cy="266.0" r="0.7" fill="#888" opacity="0.22"/><circle cx="468.6" cy="242.2" r="1.1" fill="#888" opacity="0.06"/><circle cx="423.9" cy="288.5" r="1.5" fill="#888" opacity="0.15"/><circle cx="427.0" cy="252.0" r="0.8" fill="#888" opacity="0.06"/><circle cx="445.6" cy="258.0" r="1.4" fill="#888" opacity="0.13"/><circle cx="425.4" cy="288.4" r="0.6" fill="#888" opacity="0.06"/><circle cx="467.2" cy="263.1" r="0.9" fill="#888" opacity="0.25"/><circle cx="423.6" cy="286.2" r="1.6" fill="#888" opacity="0.22"/><circle cx="450.1" cy="266.6" r="1.0" fill="#888" opacity="0.07"/><circle cx="443.8" cy="256.7" r="1.8" fill="#888" opacity="0.18"/><circle cx="445.5" cy="292.7" r="1.2" fill="#888" opacity="0.16"/><circle cx="428.0" cy="244.5" r="1.4" fill="#888" opacity="0.15"/><circle cx="446.8" cy="267.3" r="0.6" fill="#888" opacity="0.20"/><circle cx="449.0" cy="281.9" r="1.6" fill="#888" opacity="0.11"/><circle cx="456.7" cy="262.6" r="1.3" fill="#888" opacity="0.18"/><circle cx="422.3" cy="265.6" r="1.7" fill="#888" opacity="0.12"/><circle cx="448.9" cy="244.8" r="1.4" fill="#888" opacity="0.17"/><circle cx="425.1" cy="256.2" r="0.9" fill="#888" opacity="0.22"/><circle cx="445.0" cy="288.7" r="1.6" fill="#888" opacity="0.18"/><circle cx="446.7" cy="288.4" r="1.4" fill="#888" opacity="0.17"/><circle cx="430.5" cy="280.1" r="1.0" fill="#888" opacity="0.23"/><circle cx="424.7" cy="255.2" r="1.4" fill="#888" opacity="0.08"/><circle cx="462.7" cy="278.3" r="1.5" fill="#888" opacity="0.10"/><circle cx="474.2" cy="248.2" r="0.9" fill="#888" opacity="0.20"/><circle cx="470.0" cy="280.8" r="1.5" fill="#888" opacity="0.25"/><circle cx="466.1" cy="273.4" r="0.8" fill="#888" opacity="0.21"/><circle cx="469.0" cy="244.7" r="1.1" fill="#888" opacity="0.23"/><circle cx="476.5" cy="247.6" r="1.1" fill="#888" opacity="0.22"/><circle cx="477.1" cy="255.2" r="1.0" fill="#888" opacity="0.16"/><circle cx="467.6" cy="241.9" r="0.7" fill="#888" opacity="0.22"/><circle cx="422.2" cy="285.8" r="1.4" fill="#888" opacity="0.20"/><circle cx="440.8" cy="243.0" r="1.1" fill="#888" opacity="0.24"/><circle cx="453.1" cy="241.3" r="1.7" fill="#888" opacity="0.22"/><circle cx="448.4" cy="281.1" r="1.2" fill="#888" opacity="0.22"/><circle cx="429.0" cy="288.7" r="0.8" fill="#888" opacity="0.11"/><circle cx="473.7" cy="242.0" r="1.7" fill="#888" opacity="0.10"/><circle cx="473.5" cy="249.2" r="1.1" fill="#888" opacity="0.15"/><circle cx="468.3" cy="293.8" r="1.8" fill="#888" opacity="0.08"/><circle cx="432.7" cy="278.5" r="1.1" fill="#888" opacity="0.08"/><circle cx="460.8" cy="264.1" r="1.6" fill="#888" opacity="0.17"/><circle cx="432.6" cy="273.4" r="1.0" fill="#888" opacity="0.08"/><circle cx="461.8" cy="240.1" r="1.6" fill="#888" opacity="0.09"/><circle cx="439.6" cy="239.4" r="1.0" fill="#888" opacity="0.20"/><circle cx="474.7" cy="277.0" r="1.6" fill="#888" opacity="0.16"/><circle cx="447.4" cy="244.2" r="1.1" fill="#888" opacity="0.09"/><circle cx="434.0" cy="291.2" r="0.6" fill="#888" opacity="0.23"/><circle cx="445.1" cy="246.0" r="1.1" fill="#888" opacity="0.06"/><circle cx="476.1" cy="274.0" r="0.7" fill="#888" opacity="0.13"/><circle cx="433.6" cy="271.9" r="1.1" fill="#888" opacity="0.12"/><circle cx="448.1" cy="259.3" r="1.6" fill="#888" opacity="0.23"/><circle cx="425.9" cy="262.4" r="1.0" fill="#888" opacity="0.07"/><circle cx="447.1" cy="263.9" r="0.8" fill="#888" opacity="0.23"/><circle cx="467.6" cy="256.0" r="1.3" fill="#888" opacity="0.07"/><circle cx="428.9" cy="242.5" r="1.1" fill="#888" opacity="0.14"/><circle cx="450.4" cy="261.1" r="0.9" fill="#888" opacity="0.19"/><circle cx="458.8" cy="267.6" r="0.8" fill="#888" opacity="0.05"/><circle cx="472.4" cy="285.8" r="1.8" fill="#888" opacity="0.12"/><circle cx="458.8" cy="270.2" r="1.5" fill="#888" opacity="0.07"/><circle cx="444.5" cy="247.7" r="1.1" fill="#888" opacity="0.08"/><circle cx="440.7" cy="285.5" r="0.9" fill="#888" opacity="0.22"/><circle cx="466.4" cy="272.0" r="1.3" fill="#888" opacity="0.17"/><circle cx="432.0" cy="253.2" r="1.2" fill="#888" opacity="0.05"/><circle cx="462.7" cy="283.7" r="0.9" fill="#888" opacity="0.16"/><circle cx="450.5" cy="288.1" r="1.6" fill="#888" opacity="0.14"/><circle cx="423.3" cy="294.8" r="1.5" fill="#888" opacity="0.19"/><circle cx="461.1" cy="244.2" r="1.4" fill="#888" opacity="0.25"/><circle cx="439.8" cy="250.4" r="1.0" fill="#888" opacity="0.18"/><circle cx="461.3" cy="264.4" r="1.1" fill="#888" opacity="0.13"/><circle cx="435.0" cy="256.3" r="0.7" fill="#888" opacity="0.20"/><circle cx="465.6" cy="291.4" r="1.4" fill="#888" opacity="0.16"/><circle cx="458.3" cy="252.4" r="1.4" fill="#888" opacity="0.15"/><circle cx="478.8" cy="257.5" r="1.1" fill="#888" opacity="0.25"/><circle cx="463.9" cy="241.1" r="1.2" fill="#888" opacity="0.15"/><circle cx="459.9" cy="284.5" r="0.7" fill="#888" opacity="0.11"/><circle cx="426.6" cy="251.1" r="1.2" fill="#888" opacity="0.11"/><circle cx="473.6" cy="261.9" r="0.7" fill="#888" opacity="0.20"/><circle cx="432.0" cy="250.6" r="0.7" fill="#888" opacity="0.08"/><circle cx="452.3" cy="280.8" r="1.0" fill="#888" opacity="0.08"/><circle cx="440.7" cy="263.0" r="0.7" fill="#888" opacity="0.07"/><circle cx="440.7" cy="287.2" r="1.1" fill="#888" opacity="0.20"/><circle cx="443.3" cy="294.1" r="0.9" fill="#888" opacity="0.14"/><circle cx="431.2" cy="281.7" r="1.7" fill="#888" opacity="0.23"/><circle cx="465.5" cy="246.5" r="1.5" fill="#888" opacity="0.21"/><circle cx="465.7" cy="242.6" r="1.0" fill="#888" opacity="0.12"/><circle cx="437.7" cy="252.2" r="1.6" fill="#888" opacity="0.16"/><circle cx="444.1" cy="273.7" r="1.0" fill="#888" opacity="0.05"/><circle cx="461.6" cy="263.1" r="1.4" fill="#888" opacity="0.12"/><circle cx="450.7" cy="271.1" r="0.9" fill="#888" opacity="0.09"/><circle cx="458.3" cy="270.4" r="1.2" fill="#888" opacity="0.12"/><circle cx="462.0" cy="290.5" r="0.7" fill="#888" opacity="0.22"/><circle cx="455.0" cy="281.1" r="1.3" fill="#888" opacity="0.19"/><circle cx="458.2" cy="275.3" r="1.2" fill="#888" opacity="0.14"/><circle cx="459.2" cy="272.5" r="0.9" fill="#888" opacity="0.25"/><circle cx="449.0" cy="288.8" r="1.0" fill="#888" opacity="0.21"/><circle cx="461.9" cy="255.4" r="1.4" fill="#888" opacity="0.08"/><circle cx="465.5" cy="283.9" r="1.3" fill="#888" opacity="0.22"/><circle cx="438.4" cy="266.5" r="0.8" fill="#888" opacity="0.23"/><circle cx="478.6" cy="261.3" r="0.6" fill="#888" opacity="0.11"/><circle cx="474.5" cy="249.8" r="0.8" fill="#888" opacity="0.13"/><circle cx="438.4" cy="259.9" r="1.3" fill="#888" opacity="0.24"/><circle cx="439.5" cy="281.6" r="1.1" fill="#888" opacity="0.18"/><circle cx="448.1" cy="289.0" r="1.5" fill="#888" opacity="0.19"/><circle cx="474.8" cy="258.2" r="1.4" fill="#888" opacity="0.24"/><circle cx="463.8" cy="251.4" r="0.9" fill="#888" opacity="0.21"/><circle cx="467.7" cy="253.7" r="1.0" fill="#888" opacity="0.20"/><circle cx="459.1" cy="254.8" r="1.2" fill="#888" opacity="0.24"/><circle cx="430.0" cy="259.5" r="1.4" fill="#888" opacity="0.12"/><circle cx="451.2" cy="262.9" r="0.7" fill="#888" opacity="0.23"/><circle cx="450.6" cy="259.5" r="1.2" fill="#888" opacity="0.21"/><circle cx="424.5" cy="262.6" r="1.3" fill="#888" opacity="0.10"/><circle cx="432.5" cy="266.9" r="1.7" fill="#888" opacity="0.10"/><circle cx="436.9" cy="277.6" r="0.9" fill="#888" opacity="0.10"/><circle cx="436.2" cy="250.0" r="1.2" fill="#888" opacity="0.08"/><circle cx="461.0" cy="266.7" r="1.6" fill="#888" opacity="0.12"/><circle cx="425.4" cy="276.2" r="0.9" fill="#888" opacity="0.15"/><circle cx="449.3" cy="241.5" r="1.0" fill="#888" opacity="0.07"/><circle cx="442.1" cy="266.2" r="1.2" fill="#888" opacity="0.23"/><circle cx="476.6" cy="274.4" r="1.2" fill="#888" opacity="0.08"/><circle cx="443.6" cy="256.0" r="1.3" fill="#888" opacity="0.12"/><circle cx="426.6" cy="265.8" r="1.5" fill="#888" opacity="0.09"/><circle cx="466.3" cy="240.1" r="1.2" fill="#888" opacity="0.15"/><circle cx="433.5" cy="267.1" r="1.8" fill="#888" opacity="0.19"/><circle cx="448.4" cy="293.1" r="0.9" fill="#888" opacity="0.20"/><circle cx="441.4" cy="247.4" r="0.8" fill="#888" opacity="0.16"/><circle cx="458.8" cy="259.3" r="0.7" fill="#888" opacity="0.07"/><circle cx="453.0" cy="255.6" r="1.4" fill="#888" opacity="0.21"/><circle cx="448.6" cy="254.1" r="1.0" fill="#888" opacity="0.21"/><circle cx="469.6" cy="249.5" r="0.8" fill="#888" opacity="0.09"/><circle cx="441.8" cy="271.6" r="0.8" fill="#888" opacity="0.20"/><circle cx="425.7" cy="276.5" r="1.2" fill="#888" opacity="0.22"/><circle cx="424.6" cy="246.1" r="1.2" fill="#888" opacity="0.15"/><circle cx="475.9" cy="276.0" r="0.9" fill="#888" opacity="0.23"/><circle cx="445.6" cy="270.7" r="1.2" fill="#888" opacity="0.10"/><circle cx="448.5" cy="250.6" r="1.6" fill="#888" opacity="0.10"/><circle cx="423.7" cy="274.6" r="1.4" fill="#888" opacity="0.10"/><circle cx="449.9" cy="259.3" r="1.7" fill="#888" opacity="0.14"/><circle cx="462.0" cy="267.3" r="1.8" fill="#888" opacity="0.15"/><circle cx="455.5" cy="286.5" r="1.6" fill="#888" opacity="0.13"/><circle cx="429.9" cy="282.2" r="0.8" fill="#888" opacity="0.21"/><circle cx="445.2" cy="288.1" r="1.2" fill="#888" opacity="0.24"/><circle cx="438.0" cy="243.8" r="0.7" fill="#888" opacity="0.24"/><circle cx="442.9" cy="244.5" r="1.6" fill="#888" opacity="0.16"/><circle cx="432.6" cy="268.0" r="0.8" fill="#888" opacity="0.07"/><circle cx="435.3" cy="251.8" r="0.7" fill="#888" opacity="0.09"/><circle cx="427.4" cy="265.7" r="1.6" fill="#888" opacity="0.18"/></g>
<g filter="url(#blur08)"><ellipse cx="450.0" cy="270.0" rx="18.0" ry="18.4" transform="rotate(-20 450.0 270.0)" fill="#b8b8b8"/><ellipse cx="453.5" cy="270.5" rx="9" ry="10" transform="rotate(-20 453.5 270.5)" fill="#3a3a3a"/><ellipse cx="443.5" cy="263.5" rx="2.6" ry="2.2" fill="#5a5a5a"/><ellipse cx="441.5" cy="273" rx="2.6" ry="2.4" fill="#555"/><ellipse cx="465.5" cy="263" rx="2.2" ry="2.5" fill="#444"/><ellipse cx="462.3" cy="256" rx="3.5" ry="3" fill="#e6e6e6"/><ellipse cx="466" cy="259" rx="3" ry="3" fill="#9a9a9a"/></g>
<g filter="url(#blur04)"><circle cx="458.2" cy="262.0" r="0.8" fill="#ffffff" opacity="0.24"/><circle cx="445.1" cy="257.8" r="0.9" fill="#ffffff" opacity="0.30"/><circle cx="457.6" cy="255.5" r="1.3" fill="#ffffff" opacity="0.42"/><circle cx="441.2" cy="273.2" r="1.1" fill="#8a8a8a" opacity="0.39"/><circle cx="453.0" cy="256.4" r="0.9" fill="#ffffff" opacity="0.40"/><circle cx="439.3" cy="262.6" r="1.1" fill="#ffffff" opacity="0.24"/><circle cx="439.3" cy="275.3" r="0.8" fill="#8a8a8a" opacity="0.36"/><circle cx="457.2" cy="278.6" r="0.7" fill="#ffffff" opacity="0.33"/><circle cx="446.1" cy="278.5" r="0.9" fill="#ffffff" opacity="0.38"/><circle cx="443.1" cy="277.8" r="0.5" fill="#ffffff" opacity="0.48"/><circle cx="447.6" cy="282.2" r="0.8" fill="#ffffff" opacity="0.47"/><circle cx="451.9" cy="284.2" r="0.9" fill="#8a8a8a" opacity="0.33"/><circle cx="458.4" cy="276.7" r="1.1" fill="#8a8a8a" opacity="0.23"/><circle cx="436.1" cy="259.9" r="1.1" fill="#8a8a8a" opacity="0.47"/><circle cx="462.9" cy="267.1" r="0.7" fill="#8a8a8a" opacity="0.40"/><circle cx="434.2" cy="272.3" r="1.2" fill="#ffffff" opacity="0.23"/><circle cx="439.8" cy="263.0" r="0.7" fill="#ffffff" opacity="0.38"/><circle cx="440.4" cy="273.6" r="1.2" fill="#ffffff" opacity="0.33"/><circle cx="454.6" cy="259.9" r="1.1" fill="#8a8a8a" opacity="0.49"/><circle cx="449.1" cy="260.1" r="1.2" fill="#ffffff" opacity="0.23"/><circle cx="438.4" cy="277.2" r="1.0" fill="#8a8a8a" opacity="0.45"/><circle cx="439.4" cy="273.4" r="0.7" fill="#8a8a8a" opacity="0.36"/><circle cx="460.8" cy="283.5" r="0.7" fill="#8a8a8a" opacity="0.33"/><circle cx="448.8" cy="258.2" r="1.1" fill="#ffffff" opacity="0.47"/><circle cx="455.9" cy="278.8" r="0.6" fill="#ffffff" opacity="0.42"/><circle cx="457.9" cy="283.7" r="0.7" fill="#8a8a8a" opacity="0.49"/><circle cx="457.3" cy="279.6" r="0.5" fill="#8a8a8a" opacity="0.25"/><circle cx="460.7" cy="263.7" r="0.7" fill="#8a8a8a" opacity="0.45"/><circle cx="462.1" cy="281.7" r="1.3" fill="#8a8a8a" opacity="0.35"/><circle cx="442.2" cy="263.8" r="1.0" fill="#8a8a8a" opacity="0.20"/><circle cx="447.4" cy="257.3" r="0.6" fill="#8a8a8a" opacity="0.23"/><circle cx="459.4" cy="276.9" r="0.9" fill="#ffffff" opacity="0.50"/><circle cx="457.6" cy="255.6" r="1.0" fill="#ffffff" opacity="0.41"/><circle cx="461.4" cy="260.0" r="0.6" fill="#ffffff" opacity="0.21"/><circle cx="435.5" cy="263.0" r="0.6" fill="#8a8a8a" opacity="0.26"/><circle cx="436.9" cy="270.6" r="1.1" fill="#8a8a8a" opacity="0.21"/><circle cx="461.6" cy="268.3" r="1.2" fill="#ffffff" opacity="0.32"/><circle cx="453.4" cy="254.2" r="0.9" fill="#ffffff" opacity="0.42"/><circle cx="466.0" cy="264.8" r="1.0" fill="#8a8a8a" opacity="0.28"/><circle cx="449.1" cy="279.2" r="1.3" fill="#ffffff" opacity="0.23"/><circle cx="440.3" cy="279.0" r="1.0" fill="#8a8a8a" opacity="0.48"/><circle cx="450.6" cy="280.0" r="1.0" fill="#8a8a8a" opacity="0.25"/><circle cx="457.5" cy="262.5" r="0.6" fill="#ffffff" opacity="0.31"/><circle cx="440.4" cy="268.7" r="1.3" fill="#8a8a8a" opacity="0.47"/><circle cx="441.3" cy="271.5" r="1.2" fill="#ffffff" opacity="0.40"/><circle cx="455.3" cy="261.7" r="0.5" fill="#ffffff" opacity="0.24"/><circle cx="446.0" cy="285.2" r="1.1" fill="#ffffff" opacity="0.35"/><circle cx="459.6" cy="283.5" r="1.0" fill="#8a8a8a" opacity="0.30"/><circle cx="457.4" cy="277.3" r="0.8" fill="#ffffff" opacity="0.29"/><circle cx="458.2" cy="278.4" r="0.7" fill="#8a8a8a" opacity="0.44"/><circle cx="460.6" cy="275.8" r="1.2" fill="#ffffff" opacity="0.43"/><circle cx="435.2" cy="266.1" r="1.0" fill="#ffffff" opacity="0.37"/><circle cx="442.5" cy="263.1" r="0.8" fill="#8a8a8a" opacity="0.21"/><circle cx="459.1" cy="275.7" r="1.2" fill="#8a8a8a" opacity="0.44"/><circle cx="459.1" cy="261.6" r="0.6" fill="#8a8a8a" opacity="0.41"/><circle cx="442.3" cy="278.2" r="0.6" fill="#8a8a8a" opacity="0.34"/><circle cx="455.0" cy="258.6" r="0.8" fill="#ffffff" opacity="0.42"/><circle cx="459.4" cy="261.5" r="1.1" fill="#8a8a8a" opacity="0.41"/><circle cx="442.0" cy="280.4" r="1.0" fill="#8a8a8a" opacity="0.28"/><circle cx="462.4" cy="259.1" r="0.7" fill="#ffffff" opacity="0.41"/><circle cx="443.5" cy="259.0" r="0.5" fill="#8a8a8a" opacity="0.37"/><circle cx="438.4" cy="266.5" r="0.9" fill="#ffffff" opacity="0.24"/><circle cx="450.6" cy="284.4" r="1.3" fill="#8a8a8a" opacity="0.39"/><circle cx="455.7" cy="255.6" r="1.2" fill="#ffffff" opacity="0.27"/><circle cx="447.9" cy="254.4" r="1.2" fill="#8a8a8a" opacity="0.36"/><circle cx="451.8" cy="259.4" r="0.9" fill="#8a8a8a" opacity="0.49"/><circle cx="453.8" cy="261.2" r="1.2" fill="#ffffff" opacity="0.40"/><circle cx="445.4" cy="283.9" r="0.9" fill="#ffffff" opacity="0.31"/><circle cx="461.4" cy="259.6" r="0.9" fill="#8a8a8a" opacity="0.49"/><circle cx="467.1" cy="270.4" r="1.1" fill="#8a8a8a" opacity="0.37"/><circle cx="441.9" cy="266.8" r="0.9" fill="#8a8a8a" opacity="0.31"/><circle cx="465.0" cy="269.1" r="0.5" fill="#ffffff" opacity="0.34"/><circle cx="461.0" cy="276.1" r="0.7" fill="#8a8a8a" opacity="0.39"/><circle cx="437.7" cy="274.2" r="1.2" fill="#8a8a8a" opacity="0.37"/><circle cx="437.2" cy="267.0" r="0.9" fill="#ffffff" opacity="0.45"/><circle cx="459.4" cy="274.2" r="0.8" fill="#ffffff" opacity="0.36"/><circle cx="463.3" cy="262.5" r="0.7" fill="#ffffff" opacity="0.27"/><circle cx="452.1" cy="278.7" r="0.7" fill="#ffffff" opacity="0.20"/><circle cx="435.8" cy="277.8" r="1.1" fill="#8a8a8a" opacity="0.38"/><circle cx="445.8" cy="284.1" r="1.1" fill="#ffffff" opacity="0.34"/><circle cx="439.4" cy="272.2" r="0.5" fill="#8a8a8a" opacity="0.48"/><circle cx="444.1" cy="282.5" r="0.9" fill="#ffffff" opacity="0.46"/><circle cx="455.8" cy="257.6" r="0.6" fill="#8a8a8a" opacity="0.31"/><circle cx="439.7" cy="260.5" r="0.8" fill="#8a8a8a" opacity="0.47"/><circle cx="438.8" cy="279.6" r="1.3" fill="#8a8a8a" opacity="0.30"/><circle cx="447.3" cy="254.0" r="0.6" fill="#ffffff" opacity="0.38"/><circle cx="454.9" cy="261.1" r="0.9" fill="#8a8a8a" opacity="0.50"/><circle cx="459.6" cy="265.8" r="0.8" fill="#8a8a8a" opacity="0.36"/><circle cx="461.2" cy="266.6" r="0.5" fill="#8a8a8a" opacity="0.41"/><circle cx="444.4" cy="262.2" r="0.9" fill="#8a8a8a" opacity="0.46"/><circle cx="449.8" cy="285.6" r="0.5" fill="#8a8a8a" opacity="0.21"/><circle cx="447.9" cy="278.4" r="0.5" fill="#ffffff" opacity="0.27"/><circle cx="446.7" cy="255.5" r="0.6" fill="#8a8a8a" opacity="0.22"/><circle cx="446.6" cy="258.3" r="0.6" fill="#ffffff" opacity="0.42"/><circle cx="453.9" cy="253.8" r="0.9" fill="#ffffff" opacity="0.49"/><circle cx="462.6" cy="263.6" r="0.7" fill="#8a8a8a" opacity="0.49"/><circle cx="448.7" cy="255.0" r="1.2" fill="#8a8a8a" opacity="0.39"/><circle cx="436.2" cy="262.4" r="0.6" fill="#ffffff" opacity="0.36"/><circle cx="456.4" cy="262.2" r="1.1" fill="#8a8a8a" opacity="0.30"/><circle cx="436.9" cy="278.4" r="0.7" fill="#ffffff" opacity="0.20"/><circle cx="463.1" cy="277.9" r="0.6" fill="#8a8a8a" opacity="0.33"/><circle cx="438.1" cy="261.5" r="1.1" fill="#ffffff" opacity="0.50"/><circle cx="466.5" cy="272.4" r="0.8" fill="#ffffff" opacity="0.33"/><circle cx="451.6" cy="283.6" r="1.3" fill="#ffffff" opacity="0.48"/><circle cx="443.5" cy="261.2" r="0.7" fill="#ffffff" opacity="0.33"/><circle cx="462.2" cy="268.6" r="0.8" fill="#8a8a8a" opacity="0.48"/><circle cx="454.1" cy="257.1" r="0.6" fill="#8a8a8a" opacity="0.44"/><circle cx="454.5" cy="278.6" r="1.0" fill="#8a8a8a" opacity="0.37"/><circle cx="440.9" cy="270.0" r="0.7" fill="#8a8a8a" opacity="0.46"/><circle cx="463.2" cy="277.0" r="0.8" fill="#8a8a8a" opacity="0.31"/><circle cx="461.2" cy="282.0" r="0.9" fill="#8a8a8a" opacity="0.29"/><circle cx="462.1" cy="277.5" r="1.2" fill="#ffffff" opacity="0.30"/><circle cx="452.9" cy="283.7" r="1.1" fill="#ffffff" opacity="0.33"/><circle cx="457.2" cy="254.7" r="0.9" fill="#8a8a8a" opacity="0.33"/><circle cx="441.1" cy="256.2" r="0.7" fill="#8a8a8a" opacity="0.45"/><circle cx="445.8" cy="278.0" r="0.6" fill="#ffffff" opacity="0.42"/><circle cx="439.0" cy="257.2" r="1.0" fill="#ffffff" opacity="0.32"/><circle cx="438.7" cy="263.2" r="0.7" fill="#ffffff" opacity="0.26"/><circle cx="458.2" cy="259.8" r="1.3" fill="#8a8a8a" opacity="0.39"/><circle cx="456.5" cy="285.4" r="0.7" fill="#ffffff" opacity="0.48"/><circle cx="465.2" cy="265.4" r="1.2" fill="#ffffff" opacity="0.21"/><circle cx="446.2" cy="283.1" r="1.1" fill="#ffffff" opacity="0.21"/><circle cx="467.3" cy="265.5" r="1.2" fill="#8a8a8a" opacity="0.31"/><circle cx="455.3" cy="261.8" r="1.0" fill="#8a8a8a" opacity="0.24"/><circle cx="466.2" cy="273.1" r="1.0" fill="#8a8a8a" opacity="0.29"/><circle cx="448.7" cy="286.3" r="0.9" fill="#ffffff" opacity="0.29"/><circle cx="457.6" cy="263.8" r="1.1" fill="#ffffff" opacity="0.47"/><circle cx="454.1" cy="261.3" r="0.8" fill="#ffffff" opacity="0.44"/><circle cx="434.5" cy="271.7" r="0.6" fill="#ffffff" opacity="0.28"/><circle cx="437.9" cy="280.1" r="0.9" fill="#ffffff" opacity="0.32"/><circle cx="453.1" cy="284.2" r="1.0" fill="#8a8a8a" opacity="0.41"/><circle cx="464.0" cy="266.7" r="0.6" fill="#ffffff" opacity="0.22"/><circle cx="450.5" cy="258.7" r="0.8" fill="#8a8a8a" opacity="0.32"/><circle cx="458.1" cy="260.4" r="1.0" fill="#8a8a8a" opacity="0.26"/><circle cx="447.5" cy="278.1" r="0.7" fill="#8a8a8a" opacity="0.26"/><circle cx="434.4" cy="274.8" r="0.7" fill="#ffffff" opacity="0.45"/><circle cx="449.4" cy="255.8" r="0.8" fill="#8a8a8a" opacity="0.22"/><circle cx="460.0" cy="276.3" r="0.6" fill="#ffffff" opacity="0.46"/><circle cx="463.2" cy="277.4" r="0.5" fill="#ffffff" opacity="0.42"/><circle cx="457.0" cy="256.9" r="0.7" fill="#8a8a8a" opacity="0.32"/><circle cx="449.3" cy="279.8" r="1.2" fill="#8a8a8a" opacity="0.48"/><circle cx="455.8" cy="279.5" r="0.9" fill="#ffffff" opacity="0.46"/><circle cx="452.7" cy="280.3" r="0.7" fill="#8a8a8a" opacity="0.39"/><circle cx="449.1" cy="256.1" r="1.1" fill="#ffffff" opacity="0.23"/><circle cx="453.0" cy="284.0" r="0.6" fill="#ffffff" opacity="0.25"/><circle cx="457.8" cy="281.1" r="0.8" fill="#ffffff" opacity="0.35"/><circle cx="456.3" cy="256.0" r="1.2" fill="#ffffff" opacity="0.32"/><circle cx="443.0" cy="278.7" r="0.5" fill="#8a8a8a" opacity="0.42"/><circle cx="441.5" cy="270.0" r="0.7" fill="#8a8a8a" opacity="0.34"/><circle cx="454.9" cy="284.9" r="1.2" fill="#ffffff" opacity="0.48"/><circle cx="433.8" cy="274.6" r="0.5" fill="#ffffff" opacity="0.39"/><circle cx="443.9" cy="256.9" r="1.0" fill="#8a8a8a" opacity="0.36"/><circle cx="444.7" cy="260.7" r="1.0" fill="#8a8a8a" opacity="0.22"/><circle cx="451.8" cy="259.2" r="0.8" fill="#ffffff" opacity="0.37"/><circle cx="467.1" cy="266.4" r="1.3" fill="#8a8a8a" opacity="0.48"/><circle cx="449.6" cy="283.5" r="1.0" fill="#ffffff" opacity="0.28"/><circle cx="439.8" cy="276.3" r="0.9" fill="#ffffff" opacity="0.24"/><circle cx="448.0" cy="283.8" r="1.0" fill="#ffffff" opacity="0.35"/><circle cx="460.8" cy="266.5" r="0.6" fill="#8a8a8a" opacity="0.22"/><circle cx="440.8" cy="283.0" r="1.0" fill="#ffffff" opacity="0.49"/><circle cx="466.1" cy="276.2" r="0.5" fill="#ffffff" opacity="0.37"/><circle cx="465.4" cy="265.6" r="0.6" fill="#8a8a8a" opacity="0.27"/><circle cx="439.1" cy="262.4" r="0.8" fill="#8a8a8a" opacity="0.37"/><circle cx="434.3" cy="263.1" r="1.1" fill="#ffffff" opacity="0.43"/><circle cx="435.8" cy="266.0" r="1.0" fill="#ffffff" opacity="0.49"/><circle cx="451.2" cy="258.8" r="1.0" fill="#8a8a8a" opacity="0.47"/><circle cx="438.7" cy="275.1" r="1.1" fill="#ffffff" opacity="0.35"/><circle cx="437.0" cy="276.3" r="1.1" fill="#8a8a8a" opacity="0.44"/><circle cx="449.2" cy="284.2" r="0.9" fill="#ffffff" opacity="0.33"/><circle cx="444.7" cy="276.8" r="0.9" fill="#8a8a8a" opacity="0.29"/><circle cx="440.9" cy="270.2" r="1.2" fill="#8a8a8a" opacity="0.33"/><circle cx="442.8" cy="280.4" r="0.9" fill="#8a8a8a" opacity="0.39"/><circle cx="436.7" cy="273.3" r="0.6" fill="#8a8a8a" opacity="0.28"/><circle cx="443.5" cy="279.0" r="1.1" fill="#8a8a8a" opacity="0.38"/><circle cx="454.9" cy="260.3" r="1.3" fill="#8a8a8a" opacity="0.27"/><circle cx="445.6" cy="278.4" r="1.0" fill="#ffffff" opacity="0.39"/><circle cx="437.2" cy="260.6" r="0.8" fill="#ffffff" opacity="0.42"/><circle cx="461.4" cy="283.3" r="1.0" fill="#8a8a8a" opacity="0.31"/><circle cx="443.4" cy="260.7" r="1.2" fill="#8a8a8a" opacity="0.26"/><circle cx="439.6" cy="268.5" r="0.9" fill="#ffffff" opacity="0.35"/><circle cx="460.4" cy="268.4" r="0.7" fill="#ffffff" opacity="0.50"/><circle cx="435.6" cy="269.1" r="0.7" fill="#ffffff" opacity="0.24"/><circle cx="459.8" cy="261.9" r="1.2" fill="#8a8a8a" opacity="0.22"/><circle cx="459.2" cy="261.1" r="1.2" fill="#8a8a8a" opacity="0.24"/><circle cx="457.7" cy="256.5" r="0.7" fill="#8a8a8a" opacity="0.46"/><circle cx="458.1" cy="280.2" r="0.9" fill="#ffffff" opacity="0.32"/><circle cx="447.9" cy="254.6" r="0.7" fill="#8a8a8a" opacity="0.46"/><circle cx="464.0" cy="265.6" r="0.5" fill="#ffffff" opacity="0.47"/><circle cx="441.7" cy="258.4" r="1.2" fill="#8a8a8a" opacity="0.24"/><circle cx="461.3" cy="270.2" r="1.1" fill="#8a8a8a" opacity="0.29"/><circle cx="459.0" cy="254.9" r="1.2" fill="#8a8a8a" opacity="0.22"/><circle cx="440.7" cy="277.9" r="0.7" fill="#ffffff" opacity="0.24"/><circle cx="433.3" cy="268.9" r="1.2" fill="#8a8a8a" opacity="0.25"/><circle cx="445.9" cy="280.4" r="0.8" fill="#ffffff" opacity="0.26"/><circle cx="447.3" cy="286.7" r="0.5" fill="#8a8a8a" opacity="0.23"/><circle cx="450.5" cy="257.0" r="1.2" fill="#ffffff" opacity="0.42"/><circle cx="459.2" cy="276.3" r="0.8" fill="#ffffff" opacity="0.43"/><circle cx="463.6" cy="266.7" r="0.6" fill="#ffffff" opacity="0.45"/><circle cx="459.9" cy="279.0" r="0.9" fill="#8a8a8a" opacity="0.45"/><circle cx="460.3" cy="276.1" r="0.6" fill="#8a8a8a" opacity="0.23"/><circle cx="461.1" cy="273.2" r="1.0" fill="#ffffff" opacity="0.49"/><circle cx="457.1" cy="262.0" r="1.1" fill="#8a8a8a" opacity="0.49"/><circle cx="451.1" cy="282.7" r="0.7" fill="#ffffff" opacity="0.20"/><circle cx="460.8" cy="281.2" r="1.1" fill="#ffffff" opacity="0.22"/><circle cx="456.8" cy="282.0" r="0.7" fill="#ffffff" opacity="0.23"/><circle cx="444.8" cy="279.0" r="1.3" fill="#ffffff" opacity="0.25"/><circle cx="454.7" cy="281.5" r="0.9" fill="#ffffff" opacity="0.23"/><circle cx="453.0" cy="283.9" r="0.6" fill="#ffffff" opacity="0.29"/><circle cx="449.1" cy="257.5" r="0.8" fill="#8a8a8a" opacity="0.49"/><circle cx="440.9" cy="264.2" r="1.0" fill="#ffffff" opacity="0.31"/><circle cx="437.8" cy="275.2" r="1.3" fill="#8a8a8a" opacity="0.25"/><circle cx="440.3" cy="263.8" r="0.9" fill="#ffffff" opacity="0.21"/><circle cx="438.8" cy="269.0" r="1.0" fill="#8a8a8a" opacity="0.47"/><circle cx="458.8" cy="275.1" r="0.6" fill="#ffffff" opacity="0.36"/><circle cx="453.1" cy="284.9" r="0.9" fill="#8a8a8a" opacity="0.30"/><circle cx="458.1" cy="278.3" r="1.0" fill="#8a8a8a" opacity="0.27"/><circle cx="463.5" cy="275.8" r="0.5" fill="#8a8a8a" opacity="0.30"/><circle cx="436.7" cy="274.9" r="0.6" fill="#8a8a8a" opacity="0.27"/><circle cx="461.4" cy="276.5" r="1.1" fill="#ffffff" opacity="0.27"/><circle cx="450.1" cy="278.9" r="1.0" fill="#8a8a8a" opacity="0.48"/></g>
<line x1="456.80" y1="268.20" x2="456.80" y2="265.20" stroke="#fff" stroke-width="1.2" stroke-linecap="round"/><line x1="456.80" y1="268.20" x2="459.65" y2="267.27" stroke="#fff" stroke-width="1.2" stroke-linecap="round"/><line x1="456.80" y1="268.20" x2="458.56" y2="270.63" stroke="#fff" stroke-width="1.2" stroke-linecap="round"/><line x1="456.80" y1="268.20" x2="455.04" y2="270.63" stroke="#fff" stroke-width="1.2" stroke-linecap="round"/><line x1="456.80" y1="268.20" x2="453.95" y2="267.27" stroke="#fff" stroke-width="1.2" stroke-linecap="round"/>
<polygon points="469.7,262.3 478.1,264.3 474.0,269.6" fill="#fff"/>
<rect x="462.6" y="291.9" width="15.1" height="1.7" fill="#fff"/>
<text class="w" x="475.8" y="245.8" font-size="5.8" fill="#fff" text-anchor="end" textLength="17.8" lengthAdjust="spacingAndGlyphs">CD150</text>
<g filter="url(#blur06)"><circle cx="453.8" cy="349.7" r="0.6" fill="#999" opacity="0.19"/><circle cx="423.9" cy="298.7" r="1.2" fill="#999" opacity="0.18"/><circle cx="477.0" cy="300.6" r="1.3" fill="#777" opacity="0.23"/><circle cx="475.1" cy="340.5" r="1.1" fill="#777" opacity="0.20"/><circle cx="443.9" cy="301.5" r="1.3" fill="#555" opacity="0.09"/><circle cx="447.9" cy="344.8" r="0.8" fill="#555" opacity="0.19"/><circle cx="460.9" cy="300.8" r="0.9" fill="#777" opacity="0.35"/><circle cx="479.3" cy="349.4" r="1.0" fill="#777" opacity="0.39"/><circle cx="445.7" cy="335.3" r="1.8" fill="#777" opacity="0.31"/><circle cx="422.5" cy="299.3" r="1.8" fill="#555" opacity="0.33"/><circle cx="447.3" cy="351.0" r="1.4" fill="#555" opacity="0.14"/><circle cx="441.1" cy="304.3" r="1.6" fill="#999" opacity="0.37"/><circle cx="470.7" cy="308.2" r="1.7" fill="#777" opacity="0.10"/><circle cx="471.8" cy="327.5" r="1.3" fill="#999" opacity="0.11"/><circle cx="462.4" cy="305.7" r="1.6" fill="#555" opacity="0.13"/><circle cx="453.0" cy="310.6" r="1.6" fill="#999" opacity="0.23"/><circle cx="437.9" cy="320.3" r="1.4" fill="#555" opacity="0.13"/><circle cx="439.1" cy="316.9" r="0.7" fill="#999" opacity="0.17"/><circle cx="477.7" cy="311.3" r="1.0" fill="#555" opacity="0.11"/><circle cx="449.9" cy="346.8" r="0.7" fill="#999" opacity="0.31"/><circle cx="457.6" cy="324.0" r="0.9" fill="#555" opacity="0.27"/><circle cx="426.3" cy="323.3" r="1.0" fill="#555" opacity="0.35"/><circle cx="454.6" cy="325.7" r="1.3" fill="#555" opacity="0.12"/><circle cx="476.3" cy="334.2" r="1.1" fill="#555" opacity="0.09"/><circle cx="479.1" cy="349.1" r="1.1" fill="#555" opacity="0.24"/><circle cx="436.0" cy="321.4" r="1.5" fill="#777" opacity="0.27"/><circle cx="464.5" cy="311.3" r="1.8" fill="#555" opacity="0.35"/><circle cx="434.9" cy="296.2" r="1.1" fill="#999" opacity="0.10"/><circle cx="472.2" cy="336.0" r="1.2" fill="#999" opacity="0.24"/><circle cx="447.8" cy="298.6" r="1.6" fill="#777" opacity="0.25"/><circle cx="450.5" cy="310.8" r="1.7" fill="#777" opacity="0.10"/><circle cx="423.4" cy="332.3" r="2.0" fill="#555" opacity="0.17"/><circle cx="451.5" cy="301.7" r="1.0" fill="#999" opacity="0.25"/><circle cx="429.1" cy="322.9" r="1.1" fill="#777" opacity="0.17"/><circle cx="475.4" cy="298.6" r="1.8" fill="#555" opacity="0.10"/><circle cx="476.5" cy="333.6" r="2.0" fill="#999" opacity="0.18"/><circle cx="443.2" cy="342.0" r="1.9" fill="#999" opacity="0.18"/><circle cx="422.6" cy="341.4" r="1.6" fill="#555" opacity="0.27"/><circle cx="450.3" cy="306.6" r="1.1" fill="#555" opacity="0.23"/><circle cx="477.8" cy="307.0" r="0.9" fill="#555" opacity="0.18"/><circle cx="451.5" cy="326.1" r="1.7" fill="#777" opacity="0.39"/><circle cx="469.4" cy="342.1" r="1.6" fill="#999" opacity="0.26"/><circle cx="469.3" cy="343.1" r="1.7" fill="#555" opacity="0.26"/><circle cx="471.7" cy="299.6" r="1.8" fill="#999" opacity="0.33"/><circle cx="438.7" cy="354.1" r="0.7" fill="#777" opacity="0.23"/><circle cx="463.8" cy="329.6" r="1.1" fill="#777" opacity="0.20"/><circle cx="471.0" cy="326.9" r="1.8" fill="#555" opacity="0.26"/><circle cx="468.9" cy="328.1" r="1.3" fill="#555" opacity="0.23"/><circle cx="430.2" cy="304.1" r="0.7" fill="#555" opacity="0.21"/><circle cx="424.6" cy="319.6" r="1.8" fill="#777" opacity="0.31"/><circle cx="478.0" cy="327.9" r="1.3" fill="#999" opacity="0.11"/><circle cx="448.6" cy="337.5" r="1.2" fill="#999" opacity="0.25"/><circle cx="438.2" cy="351.7" r="1.6" fill="#777" opacity="0.33"/><circle cx="474.9" cy="306.9" r="0.7" fill="#999" opacity="0.30"/><circle cx="442.9" cy="350.2" r="1.9" fill="#999" opacity="0.15"/><circle cx="452.8" cy="302.6" r="1.3" fill="#555" opacity="0.28"/><circle cx="441.0" cy="308.7" r="1.4" fill="#555" opacity="0.31"/><circle cx="459.4" cy="320.8" r="1.0" fill="#777" opacity="0.23"/><circle cx="442.1" cy="331.7" r="1.7" fill="#555" opacity="0.15"/><circle cx="470.2" cy="342.7" r="1.2" fill="#777" opacity="0.30"/><circle cx="464.8" cy="340.1" r="1.7" fill="#777" opacity="0.30"/><circle cx="446.6" cy="331.4" r="1.4" fill="#555" opacity="0.32"/><circle cx="470.6" cy="323.6" r="0.8" fill="#999" opacity="0.10"/><circle cx="445.0" cy="299.2" r="1.0" fill="#999" opacity="0.40"/><circle cx="478.8" cy="296.7" r="0.7" fill="#777" opacity="0.36"/><circle cx="435.7" cy="317.6" r="1.9" fill="#999" opacity="0.35"/><circle cx="423.5" cy="303.1" r="1.8" fill="#999" opacity="0.28"/><circle cx="457.5" cy="321.2" r="1.4" fill="#999" opacity="0.29"/><circle cx="450.3" cy="307.4" r="1.8" fill="#999" opacity="0.26"/><circle cx="472.2" cy="312.8" r="1.5" fill="#555" opacity="0.09"/><circle cx="426.4" cy="344.7" r="1.4" fill="#777" opacity="0.18"/><circle cx="426.7" cy="324.2" r="1.7" fill="#555" opacity="0.29"/><circle cx="443.6" cy="325.7" r="1.7" fill="#777" opacity="0.15"/><circle cx="458.4" cy="297.4" r="2.0" fill="#777" opacity="0.25"/><circle cx="442.6" cy="325.8" r="1.9" fill="#999" opacity="0.21"/><circle cx="454.0" cy="320.3" r="1.4" fill="#555" opacity="0.20"/><circle cx="462.7" cy="347.2" r="1.0" fill="#777" opacity="0.14"/><circle cx="475.5" cy="345.1" r="1.9" fill="#999" opacity="0.10"/><circle cx="460.3" cy="327.4" r="1.6" fill="#777" opacity="0.13"/><circle cx="454.4" cy="296.5" r="1.8" fill="#777" opacity="0.15"/><circle cx="477.4" cy="302.1" r="1.5" fill="#555" opacity="0.25"/><circle cx="422.9" cy="352.0" r="1.8" fill="#999" opacity="0.39"/><circle cx="434.3" cy="351.3" r="0.9" fill="#777" opacity="0.21"/><circle cx="426.4" cy="329.8" r="0.7" fill="#777" opacity="0.23"/><circle cx="444.4" cy="323.9" r="1.6" fill="#777" opacity="0.38"/><circle cx="439.0" cy="335.8" r="1.1" fill="#999" opacity="0.24"/><circle cx="455.7" cy="328.3" r="1.0" fill="#777" opacity="0.37"/><circle cx="477.5" cy="351.5" r="1.3" fill="#999" opacity="0.08"/><circle cx="449.9" cy="332.2" r="1.2" fill="#555" opacity="0.21"/><circle cx="467.6" cy="334.1" r="1.5" fill="#555" opacity="0.15"/><circle cx="478.0" cy="309.7" r="0.7" fill="#555" opacity="0.35"/><circle cx="427.1" cy="347.5" r="0.7" fill="#777" opacity="0.20"/><circle cx="465.7" cy="350.1" r="0.6" fill="#555" opacity="0.20"/><circle cx="464.1" cy="302.0" r="1.2" fill="#999" opacity="0.21"/><circle cx="461.6" cy="302.1" r="1.2" fill="#555" opacity="0.28"/><circle cx="427.5" cy="324.1" r="0.7" fill="#999" opacity="0.11"/><circle cx="452.9" cy="347.4" r="0.9" fill="#555" opacity="0.32"/><circle cx="468.3" cy="323.8" r="0.9" fill="#999" opacity="0.19"/><circle cx="451.5" cy="338.4" r="1.2" fill="#999" opacity="0.35"/><circle cx="450.6" cy="296.3" r="0.9" fill="#999" opacity="0.23"/><circle cx="462.5" cy="316.8" r="1.6" fill="#555" opacity="0.33"/><circle cx="434.3" cy="316.1" r="1.0" fill="#555" opacity="0.13"/><circle cx="475.3" cy="300.9" r="0.8" fill="#999" opacity="0.35"/><circle cx="451.7" cy="298.0" r="1.9" fill="#999" opacity="0.18"/><circle cx="460.1" cy="306.6" r="1.4" fill="#999" opacity="0.35"/><circle cx="428.4" cy="334.5" r="1.5" fill="#777" opacity="0.11"/><circle cx="453.5" cy="313.8" r="1.8" fill="#555" opacity="0.14"/><circle cx="466.6" cy="326.7" r="0.9" fill="#999" opacity="0.31"/><circle cx="468.5" cy="299.2" r="0.7" fill="#999" opacity="0.39"/><circle cx="465.8" cy="325.6" r="0.6" fill="#555" opacity="0.25"/><circle cx="426.0" cy="343.1" r="1.3" fill="#999" opacity="0.25"/><circle cx="460.3" cy="305.4" r="0.6" fill="#777" opacity="0.31"/><circle cx="463.4" cy="332.9" r="0.7" fill="#555" opacity="0.39"/><circle cx="433.6" cy="297.6" r="0.8" fill="#777" opacity="0.32"/><circle cx="422.5" cy="302.8" r="1.0" fill="#999" opacity="0.24"/><circle cx="429.5" cy="321.7" r="1.3" fill="#777" opacity="0.39"/><circle cx="470.3" cy="305.6" r="1.9" fill="#777" opacity="0.26"/><circle cx="452.2" cy="305.5" r="0.8" fill="#999" opacity="0.31"/><circle cx="441.2" cy="296.9" r="1.7" fill="#777" opacity="0.26"/><circle cx="469.4" cy="300.7" r="1.3" fill="#999" opacity="0.28"/><circle cx="435.7" cy="336.6" r="1.4" fill="#999" opacity="0.39"/><circle cx="437.1" cy="308.8" r="0.8" fill="#777" opacity="0.34"/><circle cx="437.4" cy="300.4" r="1.3" fill="#777" opacity="0.23"/><circle cx="465.0" cy="299.8" r="0.8" fill="#555" opacity="0.37"/><circle cx="462.1" cy="324.3" r="0.9" fill="#777" opacity="0.37"/><circle cx="442.9" cy="347.4" r="2.0" fill="#555" opacity="0.17"/><circle cx="465.2" cy="352.8" r="1.5" fill="#555" opacity="0.12"/><circle cx="451.8" cy="324.7" r="1.7" fill="#555" opacity="0.24"/><circle cx="453.9" cy="321.8" r="1.7" fill="#777" opacity="0.36"/><circle cx="439.5" cy="337.5" r="1.8" fill="#999" opacity="0.10"/><circle cx="470.0" cy="310.2" r="1.6" fill="#555" opacity="0.23"/><circle cx="473.7" cy="342.9" r="1.4" fill="#999" opacity="0.32"/><circle cx="460.5" cy="319.1" r="1.3" fill="#999" opacity="0.25"/><circle cx="476.6" cy="324.7" r="1.8" fill="#777" opacity="0.30"/><circle cx="461.5" cy="325.6" r="0.9" fill="#555" opacity="0.25"/><circle cx="474.6" cy="313.0" r="0.9" fill="#999" opacity="0.23"/><circle cx="426.5" cy="310.5" r="0.6" fill="#777" opacity="0.34"/><circle cx="467.7" cy="346.7" r="1.3" fill="#999" opacity="0.22"/><circle cx="452.4" cy="334.7" r="1.1" fill="#555" opacity="0.08"/><circle cx="427.1" cy="338.3" r="0.7" fill="#999" opacity="0.34"/><circle cx="436.4" cy="352.0" r="1.7" fill="#555" opacity="0.32"/><circle cx="462.8" cy="344.7" r="1.6" fill="#777" opacity="0.09"/><circle cx="427.0" cy="309.9" r="0.9" fill="#999" opacity="0.36"/><circle cx="468.1" cy="321.4" r="0.8" fill="#777" opacity="0.16"/><circle cx="449.3" cy="296.4" r="0.8" fill="#777" opacity="0.29"/><circle cx="437.3" cy="339.7" r="1.6" fill="#999" opacity="0.33"/><circle cx="440.1" cy="327.5" r="1.5" fill="#777" opacity="0.20"/><circle cx="477.9" cy="310.8" r="1.5" fill="#999" opacity="0.35"/><circle cx="477.7" cy="348.1" r="0.8" fill="#555" opacity="0.30"/><circle cx="475.1" cy="330.3" r="1.0" fill="#777" opacity="0.20"/><circle cx="463.6" cy="316.5" r="0.7" fill="#777" opacity="0.36"/><circle cx="454.8" cy="352.0" r="1.2" fill="#999" opacity="0.25"/><circle cx="455.8" cy="348.0" r="1.0" fill="#999" opacity="0.37"/><circle cx="458.5" cy="327.3" r="1.9" fill="#777" opacity="0.12"/><circle cx="442.7" cy="348.8" r="2.0" fill="#555" opacity="0.40"/><circle cx="439.5" cy="299.4" r="0.9" fill="#777" opacity="0.40"/><circle cx="456.5" cy="345.1" r="1.6" fill="#555" opacity="0.13"/><circle cx="429.1" cy="315.0" r="0.8" fill="#777" opacity="0.30"/><circle cx="471.9" cy="348.0" r="0.7" fill="#555" opacity="0.34"/><circle cx="470.4" cy="333.9" r="0.8" fill="#999" opacity="0.21"/><circle cx="449.1" cy="302.6" r="0.9" fill="#999" opacity="0.37"/><circle cx="465.2" cy="298.3" r="1.2" fill="#777" opacity="0.33"/><circle cx="465.0" cy="312.9" r="0.9" fill="#999" opacity="0.23"/><circle cx="434.2" cy="346.9" r="1.5" fill="#555" opacity="0.34"/><circle cx="432.0" cy="315.3" r="1.7" fill="#555" opacity="0.24"/><circle cx="455.9" cy="324.5" r="1.3" fill="#555" opacity="0.17"/><circle cx="451.6" cy="308.1" r="1.1" fill="#777" opacity="0.29"/><circle cx="469.0" cy="304.4" r="1.3" fill="#555" opacity="0.27"/><circle cx="455.2" cy="322.6" r="1.9" fill="#555" opacity="0.23"/><circle cx="422.5" cy="296.0" r="1.6" fill="#777" opacity="0.12"/><circle cx="436.9" cy="314.0" r="0.9" fill="#999" opacity="0.39"/><circle cx="448.6" cy="310.0" r="1.1" fill="#999" opacity="0.30"/><circle cx="475.0" cy="304.9" r="1.0" fill="#555" opacity="0.35"/><circle cx="452.0" cy="302.0" r="1.6" fill="#999" opacity="0.23"/><circle cx="456.4" cy="321.4" r="1.2" fill="#999" opacity="0.31"/><circle cx="473.2" cy="349.6" r="0.8" fill="#999" opacity="0.20"/><circle cx="422.5" cy="307.3" r="1.9" fill="#999" opacity="0.29"/><circle cx="450.3" cy="337.6" r="1.2" fill="#555" opacity="0.16"/><circle cx="461.3" cy="314.9" r="1.8" fill="#777" opacity="0.15"/><circle cx="463.1" cy="340.0" r="0.9" fill="#999" opacity="0.21"/><circle cx="422.2" cy="347.8" r="1.4" fill="#777" opacity="0.10"/><circle cx="438.3" cy="320.5" r="0.8" fill="#555" opacity="0.27"/><circle cx="426.6" cy="352.8" r="1.7" fill="#555" opacity="0.40"/><circle cx="431.1" cy="310.2" r="0.7" fill="#777" opacity="0.26"/><circle cx="426.7" cy="306.6" r="0.7" fill="#777" opacity="0.40"/><circle cx="427.1" cy="304.5" r="0.8" fill="#777" opacity="0.12"/><circle cx="443.9" cy="343.0" r="1.8" fill="#777" opacity="0.08"/><circle cx="438.5" cy="347.9" r="0.7" fill="#555" opacity="0.11"/><circle cx="463.5" cy="325.4" r="1.1" fill="#777" opacity="0.30"/><circle cx="468.0" cy="337.0" r="0.8" fill="#777" opacity="0.31"/><circle cx="424.3" cy="323.0" r="0.8" fill="#999" opacity="0.25"/><circle cx="475.2" cy="296.9" r="0.7" fill="#999" opacity="0.28"/><circle cx="461.8" cy="296.0" r="1.1" fill="#555" opacity="0.25"/><circle cx="459.3" cy="350.1" r="1.6" fill="#555" opacity="0.23"/><circle cx="478.9" cy="352.4" r="1.4" fill="#777" opacity="0.21"/><circle cx="441.3" cy="318.8" r="1.8" fill="#777" opacity="0.34"/><circle cx="434.4" cy="335.5" r="1.8" fill="#777" opacity="0.12"/><circle cx="451.6" cy="339.4" r="1.2" fill="#999" opacity="0.37"/><circle cx="462.4" cy="324.9" r="1.1" fill="#777" opacity="0.12"/><circle cx="454.7" cy="319.4" r="1.5" fill="#999" opacity="0.32"/><circle cx="454.7" cy="339.9" r="1.7" fill="#777" opacity="0.13"/><circle cx="454.8" cy="303.3" r="1.0" fill="#777" opacity="0.33"/><circle cx="466.2" cy="330.8" r="2.0" fill="#999" opacity="0.18"/><circle cx="445.0" cy="352.4" r="1.7" fill="#999" opacity="0.08"/><circle cx="457.9" cy="327.0" r="1.0" fill="#777" opacity="0.31"/><circle cx="426.8" cy="343.8" r="1.4" fill="#555" opacity="0.37"/><circle cx="458.5" cy="340.0" r="1.1" fill="#555" opacity="0.15"/><circle cx="430.4" cy="308.5" r="0.8" fill="#999" opacity="0.19"/><circle cx="478.0" cy="306.2" r="1.2" fill="#999" opacity="0.29"/><circle cx="422.1" cy="320.2" r="0.8" fill="#777" opacity="0.38"/><circle cx="432.8" cy="354.0" r="1.3" fill="#555" opacity="0.25"/><circle cx="423.8" cy="302.0" r="0.9" fill="#555" opacity="0.09"/><circle cx="455.2" cy="337.6" r="1.4" fill="#777" opacity="0.11"/><circle cx="455.8" cy="328.1" r="1.7" fill="#777" opacity="0.12"/><circle cx="453.0" cy="316.6" r="1.6" fill="#999" opacity="0.27"/><circle cx="436.8" cy="321.3" r="1.4" fill="#555" opacity="0.10"/><circle cx="444.6" cy="344.2" r="2.0" fill="#777" opacity="0.21"/><circle cx="451.0" cy="340.0" r="1.6" fill="#999" opacity="0.20"/><circle cx="462.8" cy="307.3" r="0.9" fill="#555" opacity="0.26"/><circle cx="477.1" cy="313.7" r="0.8" fill="#555" opacity="0.36"/><circle cx="477.9" cy="301.4" r="1.9" fill="#999" opacity="0.28"/><circle cx="470.2" cy="351.0" r="1.8" fill="#999" opacity="0.09"/><circle cx="432.9" cy="333.9" r="1.7" fill="#999" opacity="0.13"/><circle cx="426.9" cy="326.4" r="1.3" fill="#555" opacity="0.21"/><circle cx="478.4" cy="316.1" r="1.0" fill="#777" opacity="0.34"/><circle cx="477.1" cy="335.2" r="1.9" fill="#999" opacity="0.38"/><circle cx="457.7" cy="309.3" r="1.0" fill="#555" opacity="0.14"/><circle cx="473.6" cy="316.9" r="1.4" fill="#999" opacity="0.37"/><circle cx="473.4" cy="337.5" r="1.3" fill="#999" opacity="0.08"/><circle cx="473.3" cy="307.6" r="1.2" fill="#777" opacity="0.38"/><circle cx="437.1" cy="338.9" r="2.0" fill="#777" opacity="0.40"/><circle cx="442.5" cy="352.0" r="1.3" fill="#777" opacity="0.26"/><circle cx="433.4" cy="342.1" r="1.1" fill="#999" opacity="0.32"/><circle cx="445.7" cy="315.5" r="1.4" fill="#777" opacity="0.12"/><circle cx="448.4" cy="299.2" r="1.9" fill="#777" opacity="0.38"/><circle cx="463.0" cy="345.9" r="0.7" fill="#999" opacity="0.27"/><circle cx="435.2" cy="308.3" r="1.1" fill="#555" opacity="0.33"/><circle cx="453.3" cy="342.7" r="1.3" fill="#777" opacity="0.21"/><circle cx="422.7" cy="316.3" r="1.3" fill="#555" opacity="0.14"/><circle cx="472.4" cy="336.3" r="1.7" fill="#777" opacity="0.33"/><circle cx="450.2" cy="325.0" r="1.2" fill="#777" opacity="0.34"/><circle cx="461.0" cy="302.4" r="1.9" fill="#555" opacity="0.38"/><circle cx="445.3" cy="324.8" r="1.6" fill="#777" opacity="0.19"/><circle cx="456.9" cy="331.8" r="1.2" fill="#777" opacity="0.17"/><circle cx="443.1" cy="305.9" r="1.7" fill="#999" opacity="0.18"/><circle cx="456.4" cy="314.9" r="0.7" fill="#777" opacity="0.30"/><circle cx="440.8" cy="307.0" r="1.8" fill="#555" opacity="0.39"/><circle cx="468.2" cy="298.5" r="1.2" fill="#999" opacity="0.14"/><circle cx="447.5" cy="320.2" r="1.4" fill="#555" opacity="0.11"/><circle cx="429.8" cy="338.1" r="0.6" fill="#999" opacity="0.13"/><circle cx="447.7" cy="336.6" r="1.0" fill="#777" opacity="0.23"/><circle cx="476.2" cy="345.7" r="1.3" fill="#777" opacity="0.18"/><circle cx="460.3" cy="351.5" r="1.8" fill="#777" opacity="0.11"/><circle cx="457.4" cy="306.0" r="1.8" fill="#777" opacity="0.29"/><circle cx="477.0" cy="329.7" r="1.3" fill="#555" opacity="0.40"/><circle cx="474.9" cy="315.9" r="1.9" fill="#999" opacity="0.10"/><circle cx="474.9" cy="350.6" r="1.6" fill="#555" opacity="0.24"/><circle cx="435.7" cy="299.1" r="0.9" fill="#999" opacity="0.11"/><circle cx="464.6" cy="322.1" r="0.6" fill="#777" opacity="0.12"/><circle cx="447.9" cy="315.6" r="1.5" fill="#999" opacity="0.32"/></g>
<ellipse cx="449" cy="326" rx="20" ry="19" fill="#1d1d1d" opacity="0.7" filter="url(#blur08)"/>
<g filter="url(#blur06)" fill="none" stroke="#9a9a9a"><circle cx="439.7" cy="300" r="2.6" stroke-width="1.1"/><circle cx="446.5" cy="299" r="1.6" stroke-width="0.9" stroke="#777"/><circle cx="471" cy="312.5" r="1.6" stroke-width="0.9" stroke="#888"/><circle cx="428.3" cy="297.6" r="1.3" fill="#aaa" stroke="none"/><circle cx="449" cy="298.5" r="1.0" fill="#bbb" stroke="none"/><circle cx="426" cy="340" r="2.5" fill="#555" stroke="none"/><circle cx="431" cy="345" r="1.3" fill="#888" stroke="none"/><circle cx="425" cy="312" r="2.5" fill="#4a4a4a" stroke="none"/></g>
<line x1="456.80" y1="327.30" x2="456.80" y2="324.30" stroke="#fff" stroke-width="1.2" stroke-linecap="round"/><line x1="456.80" y1="327.30" x2="459.65" y2="326.37" stroke="#fff" stroke-width="1.2" stroke-linecap="round"/><line x1="456.80" y1="327.30" x2="458.56" y2="329.73" stroke="#fff" stroke-width="1.2" stroke-linecap="round"/><line x1="456.80" y1="327.30" x2="455.04" y2="329.73" stroke="#fff" stroke-width="1.2" stroke-linecap="round"/><line x1="456.80" y1="327.30" x2="453.95" y2="326.37" stroke="#fff" stroke-width="1.2" stroke-linecap="round"/>
<polygon points="470.6,321.0 478.2,322.5 474.2,329.0" fill="#fff"/>
<rect x="462.6" y="349.7" width="15.1" height="1.7" fill="#fff"/>
<text class="w" x="476.0" y="304.3" font-size="5.6" fill="#f4f4f4" text-anchor="end" textLength="20" lengthAdjust="spacingAndGlyphs">Lineage</text>
<text class="w" x="479.2" y="310.4" font-size="5.6" fill="#f4f4f4" text-anchor="end" textLength="16.1" lengthAdjust="spacingAndGlyphs">/CD48</text>
</g>
</g>
<rect x="0.5" y="0.5" width="519" height="734" fill="none" stroke="#000" stroke-width="1.2"/>
</svg>
</body></html>
